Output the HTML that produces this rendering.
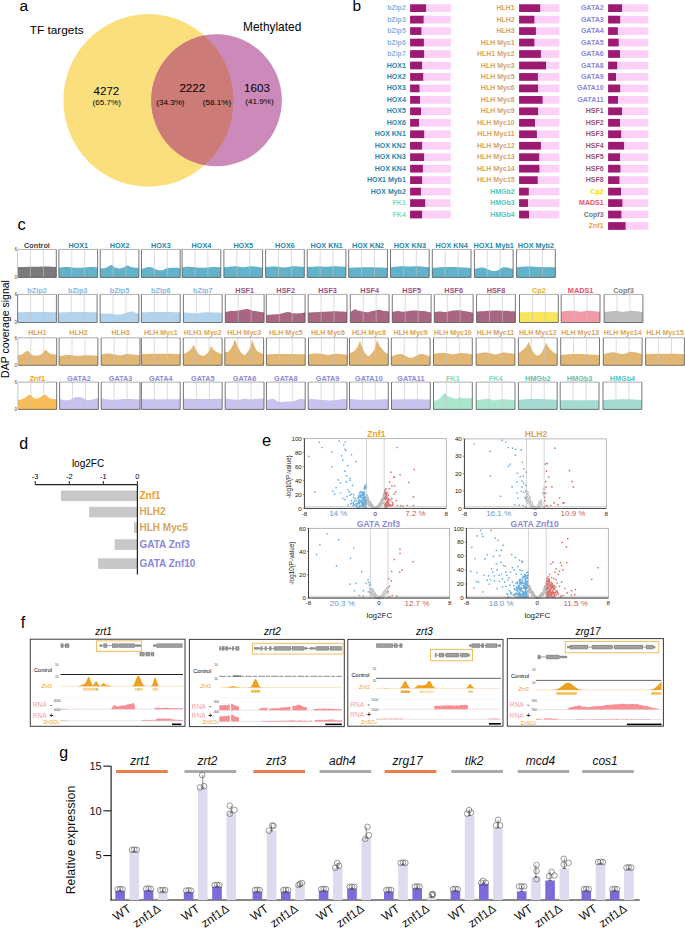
<!DOCTYPE html>
<html><head><meta charset="utf-8"><style>
html,body{margin:0;padding:0;background:#fff;}
body{width:685px;height:928px;overflow:hidden;}
svg{display:block;font-family:"Liberation Sans",sans-serif;}
</style></head><body>
<svg width="685" height="928" viewBox="0 0 685 928">
<rect width="685" height="928" fill="#fff"/>
<text x="19.50" y="10.70" font-size="15.5" fill="#000" text-anchor="start" font-weight="normal" font-style="normal" >a</text>
<text x="352.50" y="10.70" font-size="15.5" fill="#000" text-anchor="start" font-weight="normal" font-style="normal" >b</text>
<defs><clipPath id="cy"><ellipse cx="148.4" cy="100.4" rx="85" ry="86.3"/></clipPath></defs>
<ellipse cx="148.4" cy="100.4" rx="85" ry="86.3" fill="#fcdf7d"/>
<ellipse cx="216.55" cy="100.35" rx="65.3" ry="66" fill="#cb8ab9"/>
<ellipse cx="216.55" cy="100.35" rx="65.3" ry="66" fill="#cd7b76" clip-path="url(#cy)"/>
<text x="29.80" y="33.90" font-size="11.8" fill="#000" text-anchor="start" font-weight="normal" font-style="normal" >TF targets</text>
<text x="243.10" y="31.00" font-size="11.9" fill="#000" text-anchor="start" font-weight="normal" font-style="normal" >Methylated</text>
<text x="106.40" y="95.00" font-size="11.6" fill="#000" text-anchor="middle" font-weight="normal" font-style="normal" >4272</text>
<text x="106.70" y="105.30" font-size="8.1" fill="#000" text-anchor="middle" font-weight="normal" font-style="normal" >(65.7%)</text>
<text x="192.30" y="91.90" font-size="11.6" fill="#000" text-anchor="middle" font-weight="normal" font-style="normal" >2222</text>
<text x="170.40" y="104.90" font-size="8.1" fill="#000" text-anchor="middle" font-weight="normal" font-style="normal" >(34.3%)</text>
<text x="217.00" y="104.90" font-size="8.1" fill="#000" text-anchor="middle" font-weight="normal" font-style="normal" >(58.1%)</text>
<text x="257.00" y="92.00" font-size="11.6" fill="#000" text-anchor="middle" font-weight="normal" font-style="normal" >1603</text>
<text x="259.50" y="104.00" font-size="8.1" fill="#000" text-anchor="middle" font-weight="normal" font-style="normal" >(41.9%)</text>
<rect x="410.1" y="4.30" width="40.70" height="7.7" fill="#fdd1f7"/>
<rect x="410.1" y="4.30" width="16.00" height="7.7" fill="#9c1a72"/>
<text x="405.80" y="10.20" font-size="7" fill="#86b6e3" text-anchor="end" font-weight="bold" font-style="normal" >bZip2</text>
<rect x="410.1" y="15.77" width="40.70" height="7.7" fill="#fdd1f7"/>
<rect x="410.1" y="15.77" width="13.50" height="7.7" fill="#9c1a72"/>
<text x="405.80" y="21.66" font-size="7" fill="#86b6e3" text-anchor="end" font-weight="bold" font-style="normal" >bZip3</text>
<rect x="410.1" y="27.23" width="40.70" height="7.7" fill="#fdd1f7"/>
<rect x="410.1" y="27.23" width="11.30" height="7.7" fill="#9c1a72"/>
<text x="405.80" y="33.13" font-size="7" fill="#86b6e3" text-anchor="end" font-weight="bold" font-style="normal" >bZip5</text>
<rect x="410.1" y="38.69" width="40.70" height="7.7" fill="#fdd1f7"/>
<rect x="410.1" y="38.69" width="13.80" height="7.7" fill="#9c1a72"/>
<text x="405.80" y="44.59" font-size="7" fill="#86b6e3" text-anchor="end" font-weight="bold" font-style="normal" >bZip6</text>
<rect x="410.1" y="50.16" width="40.70" height="7.7" fill="#fdd1f7"/>
<rect x="410.1" y="50.16" width="14.00" height="7.7" fill="#9c1a72"/>
<text x="405.80" y="56.06" font-size="7" fill="#86b6e3" text-anchor="end" font-weight="bold" font-style="normal" >bZip7</text>
<rect x="410.1" y="61.62" width="40.70" height="7.7" fill="#fdd1f7"/>
<rect x="410.1" y="61.62" width="12.00" height="7.7" fill="#9c1a72"/>
<text x="405.80" y="67.53" font-size="7" fill="#1f88ae" text-anchor="end" font-weight="bold" font-style="normal" >HOX1</text>
<rect x="410.1" y="73.09" width="40.70" height="7.7" fill="#fdd1f7"/>
<rect x="410.1" y="73.09" width="13.10" height="7.7" fill="#9c1a72"/>
<text x="405.80" y="78.99" font-size="7" fill="#1f88ae" text-anchor="end" font-weight="bold" font-style="normal" >HOX2</text>
<rect x="410.1" y="84.55" width="40.70" height="7.7" fill="#fdd1f7"/>
<rect x="410.1" y="84.55" width="9.40" height="7.7" fill="#9c1a72"/>
<text x="405.80" y="90.45" font-size="7" fill="#1f88ae" text-anchor="end" font-weight="bold" font-style="normal" >HOX3</text>
<rect x="410.1" y="96.02" width="40.70" height="7.7" fill="#fdd1f7"/>
<rect x="410.1" y="96.02" width="9.90" height="7.7" fill="#9c1a72"/>
<text x="405.80" y="101.92" font-size="7" fill="#1f88ae" text-anchor="end" font-weight="bold" font-style="normal" >HOX4</text>
<rect x="410.1" y="107.48" width="40.70" height="7.7" fill="#fdd1f7"/>
<rect x="410.1" y="107.48" width="10.90" height="7.7" fill="#9c1a72"/>
<text x="405.80" y="113.39" font-size="7" fill="#1f88ae" text-anchor="end" font-weight="bold" font-style="normal" >HOX5</text>
<rect x="410.1" y="118.95" width="40.70" height="7.7" fill="#fdd1f7"/>
<rect x="410.1" y="118.95" width="8.90" height="7.7" fill="#9c1a72"/>
<text x="405.80" y="124.85" font-size="7" fill="#1f88ae" text-anchor="end" font-weight="bold" font-style="normal" >HOX6</text>
<rect x="410.1" y="130.41" width="40.70" height="7.7" fill="#fdd1f7"/>
<rect x="410.1" y="130.41" width="14.10" height="7.7" fill="#9c1a72"/>
<text x="405.80" y="136.31" font-size="7" fill="#1f88ae" text-anchor="end" font-weight="bold" font-style="normal" >HOX KN1</text>
<rect x="410.1" y="141.88" width="40.70" height="7.7" fill="#fdd1f7"/>
<rect x="410.1" y="141.88" width="12.00" height="7.7" fill="#9c1a72"/>
<text x="405.80" y="147.78" font-size="7" fill="#1f88ae" text-anchor="end" font-weight="bold" font-style="normal" >HOX KN2</text>
<rect x="410.1" y="153.34" width="40.70" height="7.7" fill="#fdd1f7"/>
<rect x="410.1" y="153.34" width="14.00" height="7.7" fill="#9c1a72"/>
<text x="405.80" y="159.25" font-size="7" fill="#1f88ae" text-anchor="end" font-weight="bold" font-style="normal" >HOX KN3</text>
<rect x="410.1" y="164.81" width="40.70" height="7.7" fill="#fdd1f7"/>
<rect x="410.1" y="164.81" width="12.80" height="7.7" fill="#9c1a72"/>
<text x="405.80" y="170.71" font-size="7" fill="#1f88ae" text-anchor="end" font-weight="bold" font-style="normal" >HOX KN4</text>
<rect x="410.1" y="176.28" width="40.70" height="7.7" fill="#fdd1f7"/>
<rect x="410.1" y="176.28" width="12.00" height="7.7" fill="#9c1a72"/>
<text x="405.80" y="182.18" font-size="7" fill="#1f88ae" text-anchor="end" font-weight="bold" font-style="normal" >HOX1 Myb1</text>
<rect x="410.1" y="187.74" width="40.70" height="7.7" fill="#fdd1f7"/>
<rect x="410.1" y="187.74" width="10.80" height="7.7" fill="#9c1a72"/>
<text x="405.80" y="193.64" font-size="7" fill="#1f88ae" text-anchor="end" font-weight="bold" font-style="normal" >HOX Myb2</text>
<rect x="410.1" y="199.21" width="40.70" height="7.7" fill="#fdd1f7"/>
<rect x="410.1" y="199.21" width="15.10" height="7.7" fill="#9c1a72"/>
<text x="405.80" y="205.11" font-size="7" fill="#7fdcb8" text-anchor="end" font-weight="bold" font-style="normal" >FK1</text>
<rect x="410.1" y="210.67" width="40.70" height="7.7" fill="#fdd1f7"/>
<rect x="410.1" y="210.67" width="12.00" height="7.7" fill="#9c1a72"/>
<text x="405.80" y="216.57" font-size="7" fill="#7fdcb8" text-anchor="end" font-weight="bold" font-style="normal" >FK4</text>
<rect x="519.1" y="4.30" width="40.30" height="7.7" fill="#fdd1f7"/>
<rect x="519.1" y="4.30" width="21.10" height="7.7" fill="#9c1a72"/>
<text x="514.70" y="10.20" font-size="7" fill="#d8a559" text-anchor="end" font-weight="bold" font-style="normal" >HLH1</text>
<rect x="519.1" y="15.77" width="40.30" height="7.7" fill="#fdd1f7"/>
<rect x="519.1" y="15.77" width="15.30" height="7.7" fill="#9c1a72"/>
<text x="514.70" y="21.66" font-size="7" fill="#d8a559" text-anchor="end" font-weight="bold" font-style="normal" >HLH2</text>
<rect x="519.1" y="27.23" width="40.30" height="7.7" fill="#fdd1f7"/>
<rect x="519.1" y="27.23" width="16.80" height="7.7" fill="#9c1a72"/>
<text x="514.70" y="33.13" font-size="7" fill="#d8a559" text-anchor="end" font-weight="bold" font-style="normal" >HLH3</text>
<rect x="519.1" y="38.69" width="40.30" height="7.7" fill="#fdd1f7"/>
<rect x="519.1" y="38.69" width="15.30" height="7.7" fill="#9c1a72"/>
<text x="514.70" y="44.59" font-size="7" fill="#d8a559" text-anchor="end" font-weight="bold" font-style="normal" >HLH Myc1</text>
<rect x="519.1" y="50.16" width="40.30" height="7.7" fill="#fdd1f7"/>
<rect x="519.1" y="50.16" width="21.80" height="7.7" fill="#9c1a72"/>
<text x="514.70" y="56.06" font-size="7" fill="#d8a559" text-anchor="end" font-weight="bold" font-style="normal" >HLH1 Myc2</text>
<rect x="519.1" y="61.62" width="40.30" height="7.7" fill="#fdd1f7"/>
<rect x="519.1" y="61.62" width="26.90" height="7.7" fill="#9c1a72"/>
<text x="514.70" y="67.53" font-size="7" fill="#d8a559" text-anchor="end" font-weight="bold" font-style="normal" >HLH Myc3</text>
<rect x="519.1" y="73.09" width="40.30" height="7.7" fill="#fdd1f7"/>
<rect x="519.1" y="73.09" width="18.80" height="7.7" fill="#9c1a72"/>
<text x="514.70" y="78.99" font-size="7" fill="#d8a559" text-anchor="end" font-weight="bold" font-style="normal" >HLH Myc5</text>
<rect x="519.1" y="84.55" width="40.30" height="7.7" fill="#fdd1f7"/>
<rect x="519.1" y="84.55" width="19.00" height="7.7" fill="#9c1a72"/>
<text x="514.70" y="90.45" font-size="7" fill="#d8a559" text-anchor="end" font-weight="bold" font-style="normal" >HLH Myc6</text>
<rect x="519.1" y="96.02" width="40.30" height="7.7" fill="#fdd1f7"/>
<rect x="519.1" y="96.02" width="23.50" height="7.7" fill="#9c1a72"/>
<text x="514.70" y="101.92" font-size="7" fill="#d8a559" text-anchor="end" font-weight="bold" font-style="normal" >HLH Myc8</text>
<rect x="519.1" y="107.48" width="40.30" height="7.7" fill="#fdd1f7"/>
<rect x="519.1" y="107.48" width="19.00" height="7.7" fill="#9c1a72"/>
<text x="514.70" y="113.39" font-size="7" fill="#d8a559" text-anchor="end" font-weight="bold" font-style="normal" >HLH Myc9</text>
<rect x="519.1" y="118.95" width="40.30" height="7.7" fill="#fdd1f7"/>
<rect x="519.1" y="118.95" width="15.90" height="7.7" fill="#9c1a72"/>
<text x="514.70" y="124.85" font-size="7" fill="#d8a559" text-anchor="end" font-weight="bold" font-style="normal" >HLH Myc10</text>
<rect x="519.1" y="130.41" width="40.30" height="7.7" fill="#fdd1f7"/>
<rect x="519.1" y="130.41" width="17.80" height="7.7" fill="#9c1a72"/>
<text x="514.70" y="136.31" font-size="7" fill="#d8a559" text-anchor="end" font-weight="bold" font-style="normal" >HLH Myc11</text>
<rect x="519.1" y="141.88" width="40.30" height="7.7" fill="#fdd1f7"/>
<rect x="519.1" y="141.88" width="21.80" height="7.7" fill="#9c1a72"/>
<text x="514.70" y="147.78" font-size="7" fill="#d8a559" text-anchor="end" font-weight="bold" font-style="normal" >HLH Myc12</text>
<rect x="519.1" y="153.34" width="40.30" height="7.7" fill="#fdd1f7"/>
<rect x="519.1" y="153.34" width="20.10" height="7.7" fill="#9c1a72"/>
<text x="514.70" y="159.25" font-size="7" fill="#d8a559" text-anchor="end" font-weight="bold" font-style="normal" >HLH Myc13</text>
<rect x="519.1" y="164.81" width="40.30" height="7.7" fill="#fdd1f7"/>
<rect x="519.1" y="164.81" width="20.30" height="7.7" fill="#9c1a72"/>
<text x="514.70" y="170.71" font-size="7" fill="#d8a559" text-anchor="end" font-weight="bold" font-style="normal" >HLH Myc14</text>
<rect x="519.1" y="176.28" width="40.30" height="7.7" fill="#fdd1f7"/>
<rect x="519.1" y="176.28" width="18.60" height="7.7" fill="#9c1a72"/>
<text x="514.70" y="182.18" font-size="7" fill="#d8a559" text-anchor="end" font-weight="bold" font-style="normal" >HLH Myc15</text>
<rect x="519.1" y="187.74" width="40.30" height="7.7" fill="#fdd1f7"/>
<rect x="519.1" y="187.74" width="9.70" height="7.7" fill="#9c1a72"/>
<text x="514.70" y="193.64" font-size="7" fill="#5cc3b6" text-anchor="end" font-weight="bold" font-style="normal" >HMGb2</text>
<rect x="519.1" y="199.21" width="40.30" height="7.7" fill="#fdd1f7"/>
<rect x="519.1" y="199.21" width="8.90" height="7.7" fill="#9c1a72"/>
<text x="514.70" y="205.11" font-size="7" fill="#5cc3b6" text-anchor="end" font-weight="bold" font-style="normal" >HMGb3</text>
<rect x="519.1" y="210.67" width="40.30" height="7.7" fill="#fdd1f7"/>
<rect x="519.1" y="210.67" width="9.90" height="7.7" fill="#9c1a72"/>
<text x="514.70" y="216.57" font-size="7" fill="#5cc3b6" text-anchor="end" font-weight="bold" font-style="normal" >HMGb4</text>
<rect x="608.1" y="4.30" width="40.30" height="7.7" fill="#fdd1f7"/>
<rect x="608.1" y="4.30" width="13.90" height="7.7" fill="#9c1a72"/>
<text x="603.60" y="10.20" font-size="7" fill="#8c87d9" text-anchor="end" font-weight="bold" font-style="normal" >GATA2</text>
<rect x="608.1" y="15.77" width="40.30" height="7.7" fill="#fdd1f7"/>
<rect x="608.1" y="15.77" width="12.10" height="7.7" fill="#9c1a72"/>
<text x="603.60" y="21.66" font-size="7" fill="#8c87d9" text-anchor="end" font-weight="bold" font-style="normal" >GATA3</text>
<rect x="608.1" y="27.23" width="40.30" height="7.7" fill="#fdd1f7"/>
<rect x="608.1" y="27.23" width="9.70" height="7.7" fill="#9c1a72"/>
<text x="603.60" y="33.13" font-size="7" fill="#8c87d9" text-anchor="end" font-weight="bold" font-style="normal" >GATA4</text>
<rect x="608.1" y="38.69" width="40.30" height="7.7" fill="#fdd1f7"/>
<rect x="608.1" y="38.69" width="10.60" height="7.7" fill="#9c1a72"/>
<text x="603.60" y="44.59" font-size="7" fill="#8c87d9" text-anchor="end" font-weight="bold" font-style="normal" >GATA5</text>
<rect x="608.1" y="50.16" width="40.30" height="7.7" fill="#fdd1f7"/>
<rect x="608.1" y="50.16" width="11.90" height="7.7" fill="#9c1a72"/>
<text x="603.60" y="56.06" font-size="7" fill="#8c87d9" text-anchor="end" font-weight="bold" font-style="normal" >GATA6</text>
<rect x="608.1" y="61.62" width="40.30" height="7.7" fill="#fdd1f7"/>
<rect x="608.1" y="61.62" width="9.10" height="7.7" fill="#9c1a72"/>
<text x="603.60" y="67.53" font-size="7" fill="#8c87d9" text-anchor="end" font-weight="bold" font-style="normal" >GATA8</text>
<rect x="608.1" y="73.09" width="40.30" height="7.7" fill="#fdd1f7"/>
<rect x="608.1" y="73.09" width="7.90" height="7.7" fill="#9c1a72"/>
<text x="603.60" y="78.99" font-size="7" fill="#8c87d9" text-anchor="end" font-weight="bold" font-style="normal" >GATA9</text>
<rect x="608.1" y="84.55" width="40.30" height="7.7" fill="#fdd1f7"/>
<rect x="608.1" y="84.55" width="12.10" height="7.7" fill="#9c1a72"/>
<text x="603.60" y="90.45" font-size="7" fill="#8c87d9" text-anchor="end" font-weight="bold" font-style="normal" >GATA10</text>
<rect x="608.1" y="96.02" width="40.30" height="7.7" fill="#fdd1f7"/>
<rect x="608.1" y="96.02" width="9.90" height="7.7" fill="#9c1a72"/>
<text x="603.60" y="101.92" font-size="7" fill="#8c87d9" text-anchor="end" font-weight="bold" font-style="normal" >GATA11</text>
<rect x="608.1" y="107.48" width="40.30" height="7.7" fill="#fdd1f7"/>
<rect x="608.1" y="107.48" width="13.90" height="7.7" fill="#9c1a72"/>
<text x="603.60" y="113.39" font-size="7" fill="#9b5277" text-anchor="end" font-weight="bold" font-style="normal" >HSF1</text>
<rect x="608.1" y="118.95" width="40.30" height="7.7" fill="#fdd1f7"/>
<rect x="608.1" y="118.95" width="11.90" height="7.7" fill="#9c1a72"/>
<text x="603.60" y="124.85" font-size="7" fill="#9b5277" text-anchor="end" font-weight="bold" font-style="normal" >HSF2</text>
<rect x="608.1" y="130.41" width="40.30" height="7.7" fill="#fdd1f7"/>
<rect x="608.1" y="130.41" width="13.10" height="7.7" fill="#9c1a72"/>
<text x="603.60" y="136.31" font-size="7" fill="#9b5277" text-anchor="end" font-weight="bold" font-style="normal" >HSF3</text>
<rect x="608.1" y="141.88" width="40.30" height="7.7" fill="#fdd1f7"/>
<rect x="608.1" y="141.88" width="16.00" height="7.7" fill="#9c1a72"/>
<text x="603.60" y="147.78" font-size="7" fill="#9b5277" text-anchor="end" font-weight="bold" font-style="normal" >HSF4</text>
<rect x="608.1" y="153.34" width="40.30" height="7.7" fill="#fdd1f7"/>
<rect x="608.1" y="153.34" width="11.90" height="7.7" fill="#9c1a72"/>
<text x="603.60" y="159.25" font-size="7" fill="#9b5277" text-anchor="end" font-weight="bold" font-style="normal" >HSF5</text>
<rect x="608.1" y="164.81" width="40.30" height="7.7" fill="#fdd1f7"/>
<rect x="608.1" y="164.81" width="12.30" height="7.7" fill="#9c1a72"/>
<text x="603.60" y="170.71" font-size="7" fill="#9b5277" text-anchor="end" font-weight="bold" font-style="normal" >HSF6</text>
<rect x="608.1" y="176.28" width="40.30" height="7.7" fill="#fdd1f7"/>
<rect x="608.1" y="176.28" width="11.30" height="7.7" fill="#9c1a72"/>
<text x="603.60" y="182.18" font-size="7" fill="#9b5277" text-anchor="end" font-weight="bold" font-style="normal" >HSF8</text>
<rect x="608.1" y="187.74" width="40.30" height="7.7" fill="#fdd1f7"/>
<rect x="608.1" y="187.74" width="12.90" height="7.7" fill="#9c1a72"/>
<text x="603.60" y="193.64" font-size="7" fill="#f6d90c" text-anchor="end" font-weight="bold" font-style="normal" >Cp2</text>
<rect x="608.1" y="199.21" width="40.30" height="7.7" fill="#fdd1f7"/>
<rect x="608.1" y="199.21" width="14.30" height="7.7" fill="#9c1a72"/>
<text x="603.60" y="205.11" font-size="7" fill="#e8506a" text-anchor="end" font-weight="bold" font-style="normal" >MADS1</text>
<rect x="608.1" y="210.67" width="40.30" height="7.7" fill="#fdd1f7"/>
<rect x="608.1" y="210.67" width="13.30" height="7.7" fill="#9c1a72"/>
<text x="603.60" y="216.57" font-size="7" fill="#777777" text-anchor="end" font-weight="bold" font-style="normal" >Copf3</text>
<rect x="608.1" y="222.14" width="40.30" height="7.7" fill="#fdd1f7"/>
<rect x="608.1" y="222.14" width="17.50" height="7.7" fill="#9c1a72"/>
<text x="603.60" y="228.04" font-size="7" fill="#f4a11c" text-anchor="end" font-weight="bold" font-style="normal" >Znf1</text>
<text x="17.60" y="230.20" font-size="16.5" fill="#000" text-anchor="start" font-weight="normal" font-style="normal" >c</text>
<text x="15.80" y="251.20" font-size="4.5" fill="#444" text-anchor="middle" font-weight="normal" font-style="normal" >6</text>
<text x="15.80" y="279.00" font-size="4.5" fill="#444" text-anchor="middle" font-weight="normal" font-style="normal" >0</text>
<path d="M17.60,267.06 C20.83,267.02 32.11,266.89 36.95,266.80 C41.79,266.71 43.40,266.49 46.62,266.54 C49.85,266.58 54.69,266.97 56.30,267.06 L56.30,277.40 L17.60,277.40 Z" fill="#7a7a7a"/>
<line x1="30.50" y1="249.4" x2="30.50" y2="277.4" stroke="#c4c4c4" stroke-width="0.6"/>
<line x1="43.40" y1="249.4" x2="43.40" y2="277.4" stroke="#c4c4c4" stroke-width="0.6"/>
<path d="M17.60,249.4 L56.30,249.4" stroke="#9a9a9a" stroke-width="0.8" fill="none"/>
<path d="M56.30,249.4 L56.30,277.40 L17.60,277.40" stroke="#555" stroke-width="0.8" fill="none"/>
<path d="M17.60,277.40 L17.60,249.4" stroke="#b8b8b8" stroke-width="0.8" fill="none"/>
<text x="36.95" y="247.80" font-size="7.25" fill="#444" text-anchor="middle" font-weight="bold" font-style="normal" >Control</text>
<path d="M58.90,267.85 C60.19,267.72 63.41,267.06 66.64,267.06 C69.86,267.06 74.38,267.85 78.25,267.85 C82.12,267.85 86.64,267.15 89.86,267.06 C93.08,266.97 96.31,267.28 97.60,267.33 L97.60,277.40 L58.90,277.40 Z" fill="#62b2c9"/>
<line x1="71.80" y1="249.4" x2="71.80" y2="277.4" stroke="#c4c4c4" stroke-width="0.6"/>
<line x1="84.70" y1="249.4" x2="84.70" y2="277.4" stroke="#c4c4c4" stroke-width="0.6"/>
<path d="M58.90,249.4 L97.60,249.4" stroke="#9a9a9a" stroke-width="0.8" fill="none"/>
<path d="M97.60,249.4 L97.60,277.40 L58.90,277.40" stroke="#555" stroke-width="0.8" fill="none"/>
<path d="M58.90,277.40 L58.90,249.4" stroke="#555" stroke-width="0.8" fill="none"/>
<text x="78.25" y="247.80" font-size="7.25" fill="#1f88ae" text-anchor="middle" font-weight="bold" font-style="normal" >HOX1</text>
<path d="M100.20,268.40 C101.10,268.33 103.75,268.55 105.62,268.00 C107.49,267.45 109.91,265.17 111.42,265.10 C112.94,265.03 113.29,267.05 114.71,267.60 C116.13,268.15 118.42,268.45 119.94,268.40 C121.45,268.35 122.58,267.80 123.81,267.30 C125.03,266.80 125.94,265.40 127.29,265.40 C128.64,265.40 130.00,266.87 131.93,267.30 C133.87,267.73 137.74,267.88 138.90,268.00 L138.90,277.40 L100.20,277.40 Z" fill="#62b2c9"/>
<line x1="113.10" y1="249.4" x2="113.10" y2="277.4" stroke="#c4c4c4" stroke-width="0.6"/>
<line x1="126.00" y1="249.4" x2="126.00" y2="277.4" stroke="#c4c4c4" stroke-width="0.6"/>
<path d="M100.20,249.4 L138.90,249.4" stroke="#9a9a9a" stroke-width="0.8" fill="none"/>
<path d="M138.90,249.4 L138.90,277.40 L100.20,277.40" stroke="#555" stroke-width="0.8" fill="none"/>
<path d="M100.20,277.40 L100.20,249.4" stroke="#555" stroke-width="0.8" fill="none"/>
<text x="119.55" y="247.80" font-size="7.25" fill="#1f88ae" text-anchor="middle" font-weight="bold" font-style="normal" >HOX2</text>
<path d="M141.50,269.00 C142.85,268.68 147.50,267.15 149.63,267.10 C151.76,267.05 152.92,268.22 154.27,268.70 C155.63,269.18 156.40,269.75 157.75,270.00 C159.11,270.25 160.59,270.53 162.40,270.20 C164.20,269.87 165.62,268.37 168.59,268.00 C171.56,267.63 178.26,268.00 180.20,268.00 L180.20,277.40 L141.50,277.40 Z" fill="#62b2c9"/>
<line x1="154.40" y1="249.4" x2="154.40" y2="277.4" stroke="#c4c4c4" stroke-width="0.6"/>
<line x1="167.30" y1="249.4" x2="167.30" y2="277.4" stroke="#c4c4c4" stroke-width="0.6"/>
<path d="M141.50,249.4 L180.20,249.4" stroke="#9a9a9a" stroke-width="0.8" fill="none"/>
<path d="M180.20,249.4 L180.20,277.40 L141.50,277.40" stroke="#555" stroke-width="0.8" fill="none"/>
<path d="M141.50,277.40 L141.50,249.4" stroke="#555" stroke-width="0.8" fill="none"/>
<text x="160.85" y="247.80" font-size="7.25" fill="#1f88ae" text-anchor="middle" font-weight="bold" font-style="normal" >HOX3</text>
<path d="M182.10,267.59 C183.39,267.46 186.62,266.76 189.84,266.80 C193.06,266.84 197.58,267.81 201.45,267.85 C205.32,267.89 209.84,267.15 213.06,267.06 C216.28,266.97 219.51,267.28 220.80,267.33 L220.80,277.40 L182.10,277.40 Z" fill="#62b2c9"/>
<line x1="195.00" y1="249.4" x2="195.00" y2="277.4" stroke="#c4c4c4" stroke-width="0.6"/>
<line x1="207.90" y1="249.4" x2="207.90" y2="277.4" stroke="#c4c4c4" stroke-width="0.6"/>
<path d="M182.10,249.4 L220.80,249.4" stroke="#9a9a9a" stroke-width="0.8" fill="none"/>
<path d="M220.80,249.4 L220.80,277.40 L182.10,277.40" stroke="#555" stroke-width="0.8" fill="none"/>
<path d="M182.10,277.40 L182.10,249.4" stroke="#555" stroke-width="0.8" fill="none"/>
<text x="201.45" y="247.80" font-size="7.25" fill="#1f88ae" text-anchor="middle" font-weight="bold" font-style="normal" >HOX4</text>
<path d="M223.90,267.33 C225.84,267.15 232.29,266.27 235.51,266.27 C238.74,266.27 240.67,267.33 243.25,267.33 C245.83,267.33 247.77,266.23 250.99,266.27 C254.22,266.32 260.67,267.37 262.60,267.59 L262.60,277.40 L223.90,277.40 Z" fill="#62b2c9"/>
<line x1="236.80" y1="249.4" x2="236.80" y2="277.4" stroke="#c4c4c4" stroke-width="0.6"/>
<line x1="249.70" y1="249.4" x2="249.70" y2="277.4" stroke="#c4c4c4" stroke-width="0.6"/>
<path d="M223.90,249.4 L262.60,249.4" stroke="#9a9a9a" stroke-width="0.8" fill="none"/>
<path d="M262.60,249.4 L262.60,277.40 L223.90,277.40" stroke="#555" stroke-width="0.8" fill="none"/>
<path d="M223.90,277.40 L223.90,249.4" stroke="#555" stroke-width="0.8" fill="none"/>
<text x="243.25" y="247.80" font-size="7.25" fill="#1f88ae" text-anchor="middle" font-weight="bold" font-style="normal" >HOX5</text>
<path d="M265.60,267.06 C267.21,266.97 272.05,266.45 275.28,266.54 C278.50,266.62 282.05,267.63 284.95,267.59 C287.85,267.54 289.47,266.36 292.69,266.27 C295.91,266.19 302.37,266.93 304.30,267.06 L304.30,277.40 L265.60,277.40 Z" fill="#62b2c9"/>
<line x1="278.50" y1="249.4" x2="278.50" y2="277.4" stroke="#c4c4c4" stroke-width="0.6"/>
<line x1="291.40" y1="249.4" x2="291.40" y2="277.4" stroke="#c4c4c4" stroke-width="0.6"/>
<path d="M265.60,249.4 L304.30,249.4" stroke="#9a9a9a" stroke-width="0.8" fill="none"/>
<path d="M304.30,249.4 L304.30,277.40 L265.60,277.40" stroke="#555" stroke-width="0.8" fill="none"/>
<path d="M265.60,277.40 L265.60,249.4" stroke="#555" stroke-width="0.8" fill="none"/>
<text x="284.95" y="247.80" font-size="7.25" fill="#1f88ae" text-anchor="middle" font-weight="bold" font-style="normal" >HOX6</text>
<path d="M307.20,267.06 C309.13,266.97 315.58,266.58 318.81,266.54 C322.04,266.49 323.97,266.84 326.55,266.80 C329.13,266.76 331.06,266.27 334.29,266.27 C337.51,266.27 343.96,266.71 345.90,266.80 L345.90,277.40 L307.20,277.40 Z" fill="#62b2c9"/>
<line x1="320.10" y1="249.4" x2="320.10" y2="277.4" stroke="#c4c4c4" stroke-width="0.6"/>
<line x1="333.00" y1="249.4" x2="333.00" y2="277.4" stroke="#c4c4c4" stroke-width="0.6"/>
<path d="M307.20,249.4 L345.90,249.4" stroke="#9a9a9a" stroke-width="0.8" fill="none"/>
<path d="M345.90,249.4 L345.90,277.40 L307.20,277.40" stroke="#555" stroke-width="0.8" fill="none"/>
<path d="M307.20,277.40 L307.20,249.4" stroke="#555" stroke-width="0.8" fill="none"/>
<text x="326.55" y="247.80" font-size="7.25" fill="#1f88ae" text-anchor="middle" font-weight="bold" font-style="normal" >HOX KN1</text>
<path d="M348.70,267.85 C351.93,267.76 361.60,267.33 368.05,267.33 C374.50,267.33 384.17,267.76 387.40,267.85 L387.40,277.40 L348.70,277.40 Z" fill="#62b2c9"/>
<line x1="361.60" y1="249.4" x2="361.60" y2="277.4" stroke="#c4c4c4" stroke-width="0.6"/>
<line x1="374.50" y1="249.4" x2="374.50" y2="277.4" stroke="#c4c4c4" stroke-width="0.6"/>
<path d="M348.70,249.4 L387.40,249.4" stroke="#9a9a9a" stroke-width="0.8" fill="none"/>
<path d="M387.40,249.4 L387.40,277.40 L348.70,277.40" stroke="#555" stroke-width="0.8" fill="none"/>
<path d="M348.70,277.40 L348.70,249.4" stroke="#555" stroke-width="0.8" fill="none"/>
<text x="368.05" y="247.80" font-size="7.25" fill="#1f88ae" text-anchor="middle" font-weight="bold" font-style="normal" >HOX KN2</text>
<path d="M390.50,267.33 C392.44,267.15 398.88,266.41 402.11,266.27 C405.34,266.14 407.27,266.54 409.85,266.54 C412.43,266.54 414.37,266.14 417.59,266.27 C420.81,266.41 427.26,267.15 429.20,267.33 L429.20,277.40 L390.50,277.40 Z" fill="#62b2c9"/>
<line x1="403.40" y1="249.4" x2="403.40" y2="277.4" stroke="#c4c4c4" stroke-width="0.6"/>
<line x1="416.30" y1="249.4" x2="416.30" y2="277.4" stroke="#c4c4c4" stroke-width="0.6"/>
<path d="M390.50,249.4 L429.20,249.4" stroke="#9a9a9a" stroke-width="0.8" fill="none"/>
<path d="M429.20,249.4 L429.20,277.40 L390.50,277.40" stroke="#555" stroke-width="0.8" fill="none"/>
<path d="M390.50,277.40 L390.50,249.4" stroke="#555" stroke-width="0.8" fill="none"/>
<text x="409.85" y="247.80" font-size="7.25" fill="#1f88ae" text-anchor="middle" font-weight="bold" font-style="normal" >HOX KN3</text>
<path d="M432.30,268.00 C434.56,267.85 441.46,267.22 445.85,267.10 C450.23,266.98 454.42,267.15 458.62,267.30 C462.81,267.45 468.94,267.88 471.00,268.00 L471.00,277.40 L432.30,277.40 Z" fill="#62b2c9"/>
<line x1="445.20" y1="249.4" x2="445.20" y2="277.4" stroke="#c4c4c4" stroke-width="0.6"/>
<line x1="458.10" y1="249.4" x2="458.10" y2="277.4" stroke="#c4c4c4" stroke-width="0.6"/>
<path d="M432.30,249.4 L471.00,249.4" stroke="#9a9a9a" stroke-width="0.8" fill="none"/>
<path d="M471.00,249.4 L471.00,277.40 L432.30,277.40" stroke="#555" stroke-width="0.8" fill="none"/>
<path d="M432.30,277.40 L432.30,249.4" stroke="#555" stroke-width="0.8" fill="none"/>
<text x="451.65" y="247.80" font-size="7.25" fill="#1f88ae" text-anchor="middle" font-weight="bold" font-style="normal" >HOX KN4</text>
<path d="M474.40,269.30 C475.69,269.02 480.08,267.67 482.14,267.60 C484.20,267.53 484.91,268.33 486.78,268.90 C488.65,269.47 491.43,270.82 493.36,271.00 C495.30,271.18 496.72,270.62 498.39,270.00 C500.07,269.38 500.97,267.48 503.42,267.30 C505.88,267.12 511.49,268.63 513.10,268.90 L513.10,277.40 L474.40,277.40 Z" fill="#62b2c9"/>
<line x1="487.30" y1="249.4" x2="487.30" y2="277.4" stroke="#c4c4c4" stroke-width="0.6"/>
<line x1="500.20" y1="249.4" x2="500.20" y2="277.4" stroke="#c4c4c4" stroke-width="0.6"/>
<path d="M474.40,249.4 L513.10,249.4" stroke="#9a9a9a" stroke-width="0.8" fill="none"/>
<path d="M513.10,249.4 L513.10,277.40 L474.40,277.40" stroke="#555" stroke-width="0.8" fill="none"/>
<path d="M474.40,277.40 L474.40,249.4" stroke="#555" stroke-width="0.8" fill="none"/>
<text x="493.75" y="247.80" font-size="7.25" fill="#1f88ae" text-anchor="middle" font-weight="bold" font-style="normal" >HOX1 Myb1</text>
<path d="M516.60,267.33 C518.54,267.19 524.34,266.58 528.21,266.54 C532.08,266.49 535.31,266.93 539.82,267.06 C544.34,267.19 552.72,267.28 555.30,267.33 L555.30,277.40 L516.60,277.40 Z" fill="#62b2c9"/>
<line x1="529.50" y1="249.4" x2="529.50" y2="277.4" stroke="#c4c4c4" stroke-width="0.6"/>
<line x1="542.40" y1="249.4" x2="542.40" y2="277.4" stroke="#c4c4c4" stroke-width="0.6"/>
<path d="M516.60,249.4 L555.30,249.4" stroke="#9a9a9a" stroke-width="0.8" fill="none"/>
<path d="M555.30,249.4 L555.30,277.40 L516.60,277.40" stroke="#555" stroke-width="0.8" fill="none"/>
<path d="M516.60,277.40 L516.60,249.4" stroke="#555" stroke-width="0.8" fill="none"/>
<text x="535.95" y="247.80" font-size="7.25" fill="#1f88ae" text-anchor="middle" font-weight="bold" font-style="normal" >HOX Myb2</text>
<text x="15.80" y="296.20" font-size="4.5" fill="#444" text-anchor="middle" font-weight="normal" font-style="normal" >6</text>
<text x="15.80" y="324.10" font-size="4.5" fill="#444" text-anchor="middle" font-weight="normal" font-style="normal" >0</text>
<path d="M17.60,312.16 C20.83,312.12 30.53,311.90 37.00,311.90 C43.47,311.90 53.17,312.12 56.40,312.16 L56.40,322.50 L17.60,322.50 Z" fill="#b1d3ee"/>
<line x1="30.53" y1="294.4" x2="30.53" y2="322.5" stroke="#c4c4c4" stroke-width="0.6"/>
<line x1="43.47" y1="294.4" x2="43.47" y2="322.5" stroke="#c4c4c4" stroke-width="0.6"/>
<path d="M17.60,294.4 L56.40,294.4" stroke="#9a9a9a" stroke-width="0.8" fill="none"/>
<path d="M56.40,294.4 L56.40,322.50 L17.60,322.50" stroke="#555" stroke-width="0.8" fill="none"/>
<path d="M17.60,322.50 L17.60,294.4" stroke="#555" stroke-width="0.8" fill="none"/>
<text x="37.00" y="292.90" font-size="7.3" fill="#86b6e3" text-anchor="middle" font-weight="bold" font-style="normal" >bZip2</text>
<path d="M58.30,312.43 C60.89,312.34 67.35,311.95 73.82,311.90 C80.29,311.86 93.22,312.12 97.10,312.16 L97.10,322.50 L58.30,322.50 Z" fill="#b1d3ee"/>
<line x1="71.23" y1="294.4" x2="71.23" y2="322.5" stroke="#c4c4c4" stroke-width="0.6"/>
<line x1="84.17" y1="294.4" x2="84.17" y2="322.5" stroke="#c4c4c4" stroke-width="0.6"/>
<path d="M58.30,294.4 L97.10,294.4" stroke="#9a9a9a" stroke-width="0.8" fill="none"/>
<path d="M97.10,294.4 L97.10,322.50 L58.30,322.50" stroke="#555" stroke-width="0.8" fill="none"/>
<path d="M58.30,322.50 L58.30,294.4" stroke="#555" stroke-width="0.8" fill="none"/>
<text x="77.70" y="292.90" font-size="7.3" fill="#86b6e3" text-anchor="middle" font-weight="bold" font-style="normal" >bZip3</text>
<path d="M100.10,313.40 C101.85,313.45 107.28,313.53 110.58,313.70 C113.87,313.87 116.53,314.78 119.89,314.40 C123.25,314.02 128.29,311.70 130.75,311.40 C133.21,311.10 133.27,312.22 134.63,312.60 C135.99,312.98 138.19,313.52 138.90,313.70 L138.90,322.50 L100.10,322.50 Z" fill="#b1d3ee"/>
<line x1="113.03" y1="294.4" x2="113.03" y2="322.5" stroke="#c4c4c4" stroke-width="0.6"/>
<line x1="125.97" y1="294.4" x2="125.97" y2="322.5" stroke="#c4c4c4" stroke-width="0.6"/>
<path d="M100.10,294.4 L138.90,294.4" stroke="#9a9a9a" stroke-width="0.8" fill="none"/>
<path d="M138.90,294.4 L138.90,322.50 L100.10,322.50" stroke="#555" stroke-width="0.8" fill="none"/>
<path d="M100.10,322.50 L100.10,294.4" stroke="#555" stroke-width="0.8" fill="none"/>
<text x="119.50" y="292.90" font-size="7.3" fill="#86b6e3" text-anchor="middle" font-weight="bold" font-style="normal" >bZip5</text>
<path d="M141.40,312.16 C144.63,312.12 154.33,311.90 160.80,311.90 C167.27,311.90 176.97,312.12 180.20,312.16 L180.20,322.50 L141.40,322.50 Z" fill="#b1d3ee"/>
<line x1="154.33" y1="294.4" x2="154.33" y2="322.5" stroke="#c4c4c4" stroke-width="0.6"/>
<line x1="167.27" y1="294.4" x2="167.27" y2="322.5" stroke="#c4c4c4" stroke-width="0.6"/>
<path d="M141.40,294.4 L180.20,294.4" stroke="#9a9a9a" stroke-width="0.8" fill="none"/>
<path d="M180.20,294.4 L180.20,322.50 L141.40,322.50" stroke="#555" stroke-width="0.8" fill="none"/>
<path d="M141.40,322.50 L141.40,294.4" stroke="#555" stroke-width="0.8" fill="none"/>
<text x="160.80" y="292.90" font-size="7.3" fill="#86b6e3" text-anchor="middle" font-weight="bold" font-style="normal" >bZip6</text>
<path d="M183.40,312.16 C185.34,312.34 191.16,313.22 195.04,313.22 C198.92,313.22 202.15,312.25 206.68,312.16 C211.21,312.08 219.61,312.60 222.20,312.69 L222.20,322.50 L183.40,322.50 Z" fill="#b1d3ee"/>
<line x1="196.33" y1="294.4" x2="196.33" y2="322.5" stroke="#c4c4c4" stroke-width="0.6"/>
<line x1="209.27" y1="294.4" x2="209.27" y2="322.5" stroke="#c4c4c4" stroke-width="0.6"/>
<path d="M183.40,294.4 L222.20,294.4" stroke="#9a9a9a" stroke-width="0.8" fill="none"/>
<path d="M222.20,294.4 L222.20,322.50 L183.40,322.50" stroke="#555" stroke-width="0.8" fill="none"/>
<path d="M183.40,322.50 L183.40,294.4" stroke="#555" stroke-width="0.8" fill="none"/>
<text x="202.80" y="292.90" font-size="7.3" fill="#86b6e3" text-anchor="middle" font-weight="bold" font-style="normal" >bZip7</text>
<path d="M225.30,312.10 C226.21,311.92 228.73,311.22 230.73,311.00 C232.74,310.78 234.61,311.12 237.33,310.80 C240.04,310.48 244.64,309.17 247.03,309.10 C249.42,309.03 248.84,309.82 251.68,310.40 C254.53,310.98 262.03,312.23 264.10,312.60 L264.10,322.50 L225.30,322.50 Z" fill="#a86683"/>
<line x1="238.23" y1="294.4" x2="238.23" y2="322.5" stroke="#c4c4c4" stroke-width="0.6"/>
<line x1="251.17" y1="294.4" x2="251.17" y2="322.5" stroke="#c4c4c4" stroke-width="0.6"/>
<path d="M225.30,294.4 L264.10,294.4" stroke="#9a9a9a" stroke-width="0.8" fill="none"/>
<path d="M264.10,294.4 L264.10,322.50 L225.30,322.50" stroke="#555" stroke-width="0.8" fill="none"/>
<path d="M225.30,322.50 L225.30,294.4" stroke="#555" stroke-width="0.8" fill="none"/>
<text x="244.70" y="292.90" font-size="7.3" fill="#9b5277" text-anchor="middle" font-weight="bold" font-style="normal" >HSF1</text>
<path d="M266.30,315.00 C268.43,314.83 275.48,314.48 279.10,314.00 C282.73,313.52 285.70,312.22 288.03,312.10 C290.36,311.98 290.94,313.10 293.07,313.30 C295.21,313.50 298.83,313.47 300.83,313.30 C302.84,313.13 304.39,312.47 305.10,312.30 L305.10,322.50 L266.30,322.50 Z" fill="#a86683"/>
<line x1="279.23" y1="294.4" x2="279.23" y2="322.5" stroke="#c4c4c4" stroke-width="0.6"/>
<line x1="292.17" y1="294.4" x2="292.17" y2="322.5" stroke="#c4c4c4" stroke-width="0.6"/>
<path d="M266.30,294.4 L305.10,294.4" stroke="#9a9a9a" stroke-width="0.8" fill="none"/>
<path d="M305.10,294.4 L305.10,322.50 L266.30,322.50" stroke="#555" stroke-width="0.8" fill="none"/>
<path d="M266.30,322.50 L266.30,294.4" stroke="#555" stroke-width="0.8" fill="none"/>
<text x="285.70" y="292.90" font-size="7.3" fill="#9b5277" text-anchor="middle" font-weight="bold" font-style="normal" >HSF2</text>
<path d="M308.20,312.43 C312.08,312.25 325.01,311.46 331.48,311.38 C337.95,311.29 344.41,311.81 347.00,311.90 L347.00,322.50 L308.20,322.50 Z" fill="#a86683"/>
<line x1="321.13" y1="294.4" x2="321.13" y2="322.5" stroke="#c4c4c4" stroke-width="0.6"/>
<line x1="334.07" y1="294.4" x2="334.07" y2="322.5" stroke="#c4c4c4" stroke-width="0.6"/>
<path d="M308.20,294.4 L347.00,294.4" stroke="#9a9a9a" stroke-width="0.8" fill="none"/>
<path d="M347.00,294.4 L347.00,322.50 L308.20,322.50" stroke="#555" stroke-width="0.8" fill="none"/>
<path d="M308.20,322.50 L308.20,294.4" stroke="#555" stroke-width="0.8" fill="none"/>
<text x="327.60" y="292.90" font-size="7.3" fill="#9b5277" text-anchor="middle" font-weight="bold" font-style="normal" >HSF3</text>
<path d="M350.30,312.30 C351.08,311.80 353.66,309.58 354.96,309.30 C356.25,309.02 355.99,310.10 358.06,310.60 C360.13,311.10 365.17,312.18 367.37,312.30 C369.57,312.42 369.31,311.73 371.25,311.30 C373.19,310.87 377.07,309.78 379.01,309.70 C380.95,309.62 381.21,310.52 382.89,310.80 C384.57,311.08 388.07,311.30 389.10,311.40 L389.10,322.50 L350.30,322.50 Z" fill="#a86683"/>
<line x1="363.23" y1="294.4" x2="363.23" y2="322.5" stroke="#c4c4c4" stroke-width="0.6"/>
<line x1="376.17" y1="294.4" x2="376.17" y2="322.5" stroke="#c4c4c4" stroke-width="0.6"/>
<path d="M350.30,294.4 L389.10,294.4" stroke="#9a9a9a" stroke-width="0.8" fill="none"/>
<path d="M389.10,294.4 L389.10,322.50 L350.30,322.50" stroke="#555" stroke-width="0.8" fill="none"/>
<path d="M350.30,322.50 L350.30,294.4" stroke="#555" stroke-width="0.8" fill="none"/>
<text x="369.70" y="292.90" font-size="7.3" fill="#9b5277" text-anchor="middle" font-weight="bold" font-style="normal" >HSF4</text>
<path d="M392.30,312.10 C393.14,311.92 395.60,311.07 397.34,311.00 C399.09,310.93 400.19,311.80 402.78,311.70 C405.36,311.60 409.44,310.52 412.86,310.40 C416.29,310.28 420.30,310.63 423.34,311.00 C426.38,311.37 429.81,312.33 431.10,312.60 L431.10,322.50 L392.30,322.50 Z" fill="#a86683"/>
<line x1="405.23" y1="294.4" x2="405.23" y2="322.5" stroke="#c4c4c4" stroke-width="0.6"/>
<line x1="418.17" y1="294.4" x2="418.17" y2="322.5" stroke="#c4c4c4" stroke-width="0.6"/>
<path d="M392.30,294.4 L431.10,294.4" stroke="#9a9a9a" stroke-width="0.8" fill="none"/>
<path d="M431.10,294.4 L431.10,322.50 L392.30,322.50" stroke="#555" stroke-width="0.8" fill="none"/>
<path d="M392.30,322.50 L392.30,294.4" stroke="#555" stroke-width="0.8" fill="none"/>
<text x="411.70" y="292.90" font-size="7.3" fill="#9b5277" text-anchor="middle" font-weight="bold" font-style="normal" >HSF5</text>
<path d="M434.30,312.16 C435.27,312.03 438.18,311.42 440.12,311.38 C442.06,311.33 443.03,312.08 445.94,311.90 C448.85,311.73 453.05,310.19 457.58,310.33 C462.11,310.46 470.51,312.30 473.10,312.69 L473.10,322.50 L434.30,322.50 Z" fill="#a86683"/>
<line x1="447.23" y1="294.4" x2="447.23" y2="322.5" stroke="#c4c4c4" stroke-width="0.6"/>
<line x1="460.17" y1="294.4" x2="460.17" y2="322.5" stroke="#c4c4c4" stroke-width="0.6"/>
<path d="M434.30,294.4 L473.10,294.4" stroke="#9a9a9a" stroke-width="0.8" fill="none"/>
<path d="M473.10,294.4 L473.10,322.50 L434.30,322.50" stroke="#555" stroke-width="0.8" fill="none"/>
<path d="M434.30,322.50 L434.30,294.4" stroke="#555" stroke-width="0.8" fill="none"/>
<text x="453.70" y="292.90" font-size="7.3" fill="#9b5277" text-anchor="middle" font-weight="bold" font-style="normal" >HSF6</text>
<path d="M476.60,311.64 C479.83,311.46 489.53,310.63 496.00,310.59 C502.47,310.54 512.17,311.24 515.40,311.38 L515.40,322.50 L476.60,322.50 Z" fill="#a86683"/>
<line x1="489.53" y1="294.4" x2="489.53" y2="322.5" stroke="#c4c4c4" stroke-width="0.6"/>
<line x1="502.47" y1="294.4" x2="502.47" y2="322.5" stroke="#c4c4c4" stroke-width="0.6"/>
<path d="M476.60,294.4 L515.40,294.4" stroke="#9a9a9a" stroke-width="0.8" fill="none"/>
<path d="M515.40,294.4 L515.40,322.50 L476.60,322.50" stroke="#555" stroke-width="0.8" fill="none"/>
<path d="M476.60,322.50 L476.60,294.4" stroke="#555" stroke-width="0.8" fill="none"/>
<text x="496.00" y="292.90" font-size="7.3" fill="#9b5277" text-anchor="middle" font-weight="bold" font-style="normal" >HSF8</text>
<path d="M519.50,312.16 C522.73,312.12 532.43,311.90 538.90,311.90 C545.37,311.90 555.07,312.12 558.30,312.16 L558.30,322.50 L519.50,322.50 Z" fill="#f9e55c"/>
<line x1="532.43" y1="294.4" x2="532.43" y2="322.5" stroke="#c4c4c4" stroke-width="0.6"/>
<line x1="545.37" y1="294.4" x2="545.37" y2="322.5" stroke="#c4c4c4" stroke-width="0.6"/>
<path d="M519.50,294.4 L558.30,294.4" stroke="#9a9a9a" stroke-width="0.8" fill="none"/>
<path d="M558.30,294.4 L558.30,322.50 L519.50,322.50" stroke="#555" stroke-width="0.8" fill="none"/>
<path d="M519.50,322.50 L519.50,294.4" stroke="#555" stroke-width="0.8" fill="none"/>
<text x="538.90" y="292.90" font-size="7.3" fill="#e8b02a" text-anchor="middle" font-weight="bold" font-style="normal" >Cp2</text>
<path d="M561.20,311.64 C563.14,311.51 569.61,310.85 572.84,310.85 C576.07,310.85 578.01,311.64 580.60,311.64 C583.19,311.64 585.13,310.81 588.36,310.85 C591.59,310.89 598.06,311.73 600.00,311.90 L600.00,322.50 L561.20,322.50 Z" fill="#f39aa6"/>
<line x1="574.13" y1="294.4" x2="574.13" y2="322.5" stroke="#c4c4c4" stroke-width="0.6"/>
<line x1="587.07" y1="294.4" x2="587.07" y2="322.5" stroke="#c4c4c4" stroke-width="0.6"/>
<path d="M561.20,294.4 L600.00,294.4" stroke="#9a9a9a" stroke-width="0.8" fill="none"/>
<path d="M600.00,294.4 L600.00,322.50 L561.20,322.50" stroke="#555" stroke-width="0.8" fill="none"/>
<path d="M561.20,322.50 L561.20,294.4" stroke="#555" stroke-width="0.8" fill="none"/>
<text x="580.60" y="292.90" font-size="7.3" fill="#e8506a" text-anchor="middle" font-weight="bold" font-style="normal" >MADS1</text>
<path d="M604.10,312.16 C606.04,311.99 612.51,311.16 615.74,311.11 C618.97,311.07 620.91,311.95 623.50,311.90 C626.09,311.86 628.03,310.81 631.26,310.85 C634.49,310.89 640.96,311.95 642.90,312.16 L642.90,322.50 L604.10,322.50 Z" fill="#bdbdbd"/>
<line x1="617.03" y1="294.4" x2="617.03" y2="322.5" stroke="#c4c4c4" stroke-width="0.6"/>
<line x1="629.97" y1="294.4" x2="629.97" y2="322.5" stroke="#c4c4c4" stroke-width="0.6"/>
<path d="M604.10,294.4 L642.90,294.4" stroke="#9a9a9a" stroke-width="0.8" fill="none"/>
<path d="M642.90,294.4 L642.90,322.50 L604.10,322.50" stroke="#555" stroke-width="0.8" fill="none"/>
<path d="M604.10,322.50 L604.10,294.4" stroke="#555" stroke-width="0.8" fill="none"/>
<text x="623.50" y="292.90" font-size="7.3" fill="#808080" text-anchor="middle" font-weight="bold" font-style="normal" >Copf3</text>
<text x="15.80" y="339.60" font-size="4.5" fill="#444" text-anchor="middle" font-weight="normal" font-style="normal" >6</text>
<text x="15.80" y="366.90" font-size="4.5" fill="#444" text-anchor="middle" font-weight="normal" font-style="normal" >0</text>
<path d="M17.90,355.20 C18.61,355.05 20.55,355.03 22.17,354.30 C23.78,353.57 26.02,350.73 27.60,350.80 C29.18,350.87 30.06,353.90 31.67,354.70 C33.29,355.50 35.59,355.77 37.30,355.60 C39.01,355.43 40.53,354.63 41.96,353.70 C43.38,352.77 44.54,350.05 45.84,350.00 C47.13,349.95 47.91,352.62 49.72,353.40 C51.53,354.18 55.54,354.48 56.70,354.70 L56.70,365.30 L17.90,365.30 Z" fill="#e2b673"/>
<line x1="30.83" y1="337.8" x2="30.83" y2="365.3" stroke="#c4c4c4" stroke-width="0.6"/>
<line x1="43.77" y1="337.8" x2="43.77" y2="365.3" stroke="#c4c4c4" stroke-width="0.6"/>
<path d="M17.90,337.8 L56.70,337.8" stroke="#9a9a9a" stroke-width="0.8" fill="none"/>
<path d="M56.70,337.8 L56.70,365.30 L17.90,365.30" stroke="#555" stroke-width="0.8" fill="none"/>
<path d="M17.90,365.30 L17.90,337.8" stroke="#b8b8b8" stroke-width="0.8" fill="none"/>
<text x="37.30" y="335.20" font-size="7.0" fill="#d8a559" text-anchor="middle" font-weight="bold" font-style="normal" >HLH1</text>
<path d="M59.10,355.95 C60.72,355.78 65.57,354.95 68.80,354.90 C72.03,354.86 75.59,355.65 78.50,355.69 C81.41,355.73 83.03,355.16 86.26,355.16 C89.49,355.16 95.96,355.60 97.90,355.69 L97.90,365.30 L59.10,365.30 Z" fill="#e2b673"/>
<line x1="72.03" y1="337.8" x2="72.03" y2="365.3" stroke="#c4c4c4" stroke-width="0.6"/>
<line x1="84.97" y1="337.8" x2="84.97" y2="365.3" stroke="#c4c4c4" stroke-width="0.6"/>
<path d="M59.10,337.8 L97.90,337.8" stroke="#9a9a9a" stroke-width="0.8" fill="none"/>
<path d="M97.90,337.8 L97.90,365.30 L59.10,365.30" stroke="#555" stroke-width="0.8" fill="none"/>
<path d="M59.10,365.30 L59.10,337.8" stroke="#555" stroke-width="0.8" fill="none"/>
<text x="78.50" y="335.20" font-size="7.0" fill="#d8a559" text-anchor="middle" font-weight="bold" font-style="normal" >HLH2</text>
<path d="M101.20,354.90 C102.17,354.68 103.79,353.50 107.02,353.59 C110.25,353.68 117.37,355.34 120.60,355.43 C123.83,355.51 123.19,354.11 126.42,354.11 C129.65,354.11 137.74,355.21 140.00,355.43 L140.00,365.30 L101.20,365.30 Z" fill="#e2b673"/>
<line x1="114.13" y1="337.8" x2="114.13" y2="365.3" stroke="#c4c4c4" stroke-width="0.6"/>
<line x1="127.07" y1="337.8" x2="127.07" y2="365.3" stroke="#c4c4c4" stroke-width="0.6"/>
<path d="M101.20,337.8 L140.00,337.8" stroke="#9a9a9a" stroke-width="0.8" fill="none"/>
<path d="M140.00,337.8 L140.00,365.30 L101.20,365.30" stroke="#555" stroke-width="0.8" fill="none"/>
<path d="M101.20,365.30 L101.20,337.8" stroke="#555" stroke-width="0.8" fill="none"/>
<text x="120.60" y="335.20" font-size="7.0" fill="#d8a559" text-anchor="middle" font-weight="bold" font-style="normal" >HLH3</text>
<path d="M141.40,354.11 C144.63,354.07 154.33,353.85 160.80,353.85 C167.27,353.85 176.97,354.07 180.20,354.11 L180.20,365.30 L141.40,365.30 Z" fill="#e2b673"/>
<line x1="154.33" y1="337.8" x2="154.33" y2="365.3" stroke="#c4c4c4" stroke-width="0.6"/>
<line x1="167.27" y1="337.8" x2="167.27" y2="365.3" stroke="#c4c4c4" stroke-width="0.6"/>
<path d="M141.40,337.8 L180.20,337.8" stroke="#9a9a9a" stroke-width="0.8" fill="none"/>
<path d="M180.20,337.8 L180.20,365.30 L141.40,365.30" stroke="#555" stroke-width="0.8" fill="none"/>
<path d="M141.40,365.30 L141.40,337.8" stroke="#555" stroke-width="0.8" fill="none"/>
<text x="160.80" y="335.20" font-size="7.0" fill="#d8a559" text-anchor="middle" font-weight="bold" font-style="normal" >HLH Myc1</text>
<path d="M183.30,354.00 C184.08,353.62 186.60,352.60 187.96,351.70 C189.31,350.80 190.48,349.70 191.45,348.60 C192.42,347.50 193.19,345.17 193.78,345.10 C194.36,345.03 194.49,347.22 194.94,348.20 C195.39,349.18 195.72,349.93 196.49,351.00 C197.27,352.07 198.50,353.77 199.60,354.60 C200.70,355.43 202.05,356.00 203.09,356.00 C204.12,356.00 204.90,355.32 205.80,354.60 C206.71,353.88 207.81,352.67 208.52,351.70 C209.23,350.73 209.62,349.75 210.07,348.80 C210.52,347.85 210.85,346.08 211.24,346.00 C211.62,345.92 211.88,347.57 212.40,348.30 C212.92,349.03 213.37,349.68 214.34,350.40 C215.31,351.12 216.93,351.95 218.22,352.60 C219.51,353.25 221.45,354.02 222.10,354.30 L222.10,365.30 L183.30,365.30 Z" fill="#e2b673"/>
<line x1="196.23" y1="337.8" x2="196.23" y2="365.3" stroke="#c4c4c4" stroke-width="0.6"/>
<line x1="209.17" y1="337.8" x2="209.17" y2="365.3" stroke="#c4c4c4" stroke-width="0.6"/>
<path d="M183.30,337.8 L222.10,337.8" stroke="#9a9a9a" stroke-width="0.8" fill="none"/>
<path d="M222.10,337.8 L222.10,365.30 L183.30,365.30" stroke="#555" stroke-width="0.8" fill="none"/>
<path d="M183.30,365.30 L183.30,337.8" stroke="#555" stroke-width="0.8" fill="none"/>
<text x="202.70" y="335.20" font-size="7.0" fill="#d8a559" text-anchor="middle" font-weight="bold" font-style="normal" >HLH1 Myc2</text>
<path d="M224.80,352.10 C225.35,352.03 226.87,352.63 228.10,351.70 C229.33,350.77 231.04,348.47 232.17,346.50 C233.30,344.53 234.18,340.40 234.89,339.90 C235.60,339.40 235.92,342.30 236.44,343.50 C236.96,344.70 237.22,345.60 237.99,347.10 C238.77,348.60 240.00,351.18 241.10,352.50 C242.20,353.82 243.55,355.00 244.59,355.00 C245.62,355.00 246.46,353.60 247.30,352.50 C248.14,351.40 248.99,349.82 249.63,348.40 C250.28,346.98 250.73,345.37 251.18,344.00 C251.64,342.63 251.90,340.12 252.35,340.20 C252.80,340.28 253.25,342.92 253.90,344.50 C254.55,346.08 255.26,348.35 256.23,349.70 C257.20,351.05 258.49,351.83 259.72,352.60 C260.95,353.37 262.95,354.02 263.60,354.30 L263.60,365.30 L224.80,365.30 Z" fill="#e2b673"/>
<line x1="237.73" y1="337.8" x2="237.73" y2="365.3" stroke="#c4c4c4" stroke-width="0.6"/>
<line x1="250.67" y1="337.8" x2="250.67" y2="365.3" stroke="#c4c4c4" stroke-width="0.6"/>
<path d="M224.80,337.8 L263.60,337.8" stroke="#9a9a9a" stroke-width="0.8" fill="none"/>
<path d="M263.60,337.8 L263.60,365.30 L224.80,365.30" stroke="#555" stroke-width="0.8" fill="none"/>
<path d="M224.80,365.30 L224.80,337.8" stroke="#555" stroke-width="0.8" fill="none"/>
<text x="244.20" y="335.20" font-size="7.0" fill="#d8a559" text-anchor="middle" font-weight="bold" font-style="normal" >HLH Myc3</text>
<path d="M266.40,354.38 C269.63,354.33 279.33,354.11 285.80,354.11 C292.27,354.11 301.97,354.33 305.20,354.38 L305.20,365.30 L266.40,365.30 Z" fill="#e2b673"/>
<line x1="279.33" y1="337.8" x2="279.33" y2="365.3" stroke="#c4c4c4" stroke-width="0.6"/>
<line x1="292.27" y1="337.8" x2="292.27" y2="365.3" stroke="#c4c4c4" stroke-width="0.6"/>
<path d="M266.40,337.8 L305.20,337.8" stroke="#9a9a9a" stroke-width="0.8" fill="none"/>
<path d="M305.20,337.8 L305.20,365.30 L266.40,365.30" stroke="#555" stroke-width="0.8" fill="none"/>
<path d="M266.40,365.30 L266.40,337.8" stroke="#555" stroke-width="0.8" fill="none"/>
<text x="285.80" y="335.20" font-size="7.0" fill="#d8a559" text-anchor="middle" font-weight="bold" font-style="normal" >HLH Myc5</text>
<path d="M308.50,354.38 C310.12,354.24 314.97,353.50 318.20,353.59 C321.43,353.68 324.99,354.86 327.90,354.90 C330.81,354.95 332.43,353.85 335.66,353.85 C338.89,353.85 345.36,354.73 347.30,354.90 L347.30,365.30 L308.50,365.30 Z" fill="#e2b673"/>
<line x1="321.43" y1="337.8" x2="321.43" y2="365.3" stroke="#c4c4c4" stroke-width="0.6"/>
<line x1="334.37" y1="337.8" x2="334.37" y2="365.3" stroke="#c4c4c4" stroke-width="0.6"/>
<path d="M308.50,337.8 L347.30,337.8" stroke="#9a9a9a" stroke-width="0.8" fill="none"/>
<path d="M347.30,337.8 L347.30,365.30 L308.50,365.30" stroke="#555" stroke-width="0.8" fill="none"/>
<path d="M308.50,365.30 L308.50,337.8" stroke="#555" stroke-width="0.8" fill="none"/>
<text x="327.90" y="335.20" font-size="7.0" fill="#d8a559" text-anchor="middle" font-weight="bold" font-style="normal" >HLH Myc6</text>
<path d="M349.50,353.40 C350.28,353.00 352.80,352.15 354.16,351.00 C355.51,349.85 356.68,348.13 357.65,346.50 C358.62,344.87 359.39,341.53 359.98,341.20 C360.56,340.87 360.69,343.30 361.14,344.50 C361.59,345.70 361.92,346.85 362.69,348.40 C363.47,349.95 364.83,352.53 365.80,353.80 C366.77,355.07 367.54,356.05 368.51,356.00 C369.48,355.95 370.65,354.55 371.62,353.50 C372.59,352.45 373.62,351.20 374.33,349.70 C375.04,348.20 375.43,346.13 375.88,344.50 C376.34,342.87 376.60,340.07 377.05,339.90 C377.50,339.73 378.02,342.30 378.60,343.50 C379.18,344.70 379.57,345.77 380.54,347.10 C381.51,348.43 383.13,350.30 384.42,351.50 C385.71,352.70 387.65,353.83 388.30,354.30 L388.30,365.30 L349.50,365.30 Z" fill="#e2b673"/>
<line x1="362.43" y1="337.8" x2="362.43" y2="365.3" stroke="#c4c4c4" stroke-width="0.6"/>
<line x1="375.37" y1="337.8" x2="375.37" y2="365.3" stroke="#c4c4c4" stroke-width="0.6"/>
<path d="M349.50,337.8 L388.30,337.8" stroke="#9a9a9a" stroke-width="0.8" fill="none"/>
<path d="M388.30,337.8 L388.30,365.30 L349.50,365.30" stroke="#555" stroke-width="0.8" fill="none"/>
<path d="M349.50,365.30 L349.50,337.8" stroke="#555" stroke-width="0.8" fill="none"/>
<text x="368.90" y="335.20" font-size="7.0" fill="#d8a559" text-anchor="middle" font-weight="bold" font-style="normal" >HLH Myc8</text>
<path d="M391.30,356.30 C392.92,355.92 397.77,353.73 401.00,354.00 C404.23,354.27 407.40,357.92 410.70,357.90 C414.00,357.88 417.55,354.17 420.79,353.90 C424.02,353.63 428.55,355.90 430.10,356.30 L430.10,365.30 L391.30,365.30 Z" fill="#e2b673"/>
<line x1="404.23" y1="337.8" x2="404.23" y2="365.3" stroke="#c4c4c4" stroke-width="0.6"/>
<line x1="417.17" y1="337.8" x2="417.17" y2="365.3" stroke="#c4c4c4" stroke-width="0.6"/>
<path d="M391.30,337.8 L430.10,337.8" stroke="#9a9a9a" stroke-width="0.8" fill="none"/>
<path d="M430.10,337.8 L430.10,365.30 L391.30,365.30" stroke="#555" stroke-width="0.8" fill="none"/>
<path d="M391.30,365.30 L391.30,337.8" stroke="#555" stroke-width="0.8" fill="none"/>
<text x="410.70" y="335.20" font-size="7.0" fill="#d8a559" text-anchor="middle" font-weight="bold" font-style="normal" >HLH Myc9</text>
<path d="M433.50,354.11 C435.12,353.89 439.97,352.76 443.20,352.80 C446.43,352.84 449.99,354.33 452.90,354.38 C455.81,354.42 457.43,353.06 460.66,353.06 C463.89,353.06 470.36,354.16 472.30,354.38 L472.30,365.30 L433.50,365.30 Z" fill="#e2b673"/>
<line x1="446.43" y1="337.8" x2="446.43" y2="365.3" stroke="#c4c4c4" stroke-width="0.6"/>
<line x1="459.37" y1="337.8" x2="459.37" y2="365.3" stroke="#c4c4c4" stroke-width="0.6"/>
<path d="M433.50,337.8 L472.30,337.8" stroke="#9a9a9a" stroke-width="0.8" fill="none"/>
<path d="M472.30,337.8 L472.30,365.30 L433.50,365.30" stroke="#555" stroke-width="0.8" fill="none"/>
<path d="M433.50,365.30 L433.50,337.8" stroke="#555" stroke-width="0.8" fill="none"/>
<text x="452.90" y="335.20" font-size="7.0" fill="#d8a559" text-anchor="middle" font-weight="bold" font-style="normal" >HLH Myc10</text>
<path d="M476.10,353.85 C477.72,353.63 482.57,352.45 485.80,352.54 C489.03,352.62 492.59,354.38 495.50,354.38 C498.41,354.38 500.03,352.62 503.26,352.54 C506.49,352.45 512.96,353.63 514.90,353.85 L514.90,365.30 L476.10,365.30 Z" fill="#e2b673"/>
<line x1="489.03" y1="337.8" x2="489.03" y2="365.3" stroke="#c4c4c4" stroke-width="0.6"/>
<line x1="501.97" y1="337.8" x2="501.97" y2="365.3" stroke="#c4c4c4" stroke-width="0.6"/>
<path d="M476.10,337.8 L514.90,337.8" stroke="#9a9a9a" stroke-width="0.8" fill="none"/>
<path d="M514.90,337.8 L514.90,365.30 L476.10,365.30" stroke="#555" stroke-width="0.8" fill="none"/>
<path d="M476.10,365.30 L476.10,337.8" stroke="#555" stroke-width="0.8" fill="none"/>
<text x="495.50" y="335.20" font-size="7.0" fill="#d8a559" text-anchor="middle" font-weight="bold" font-style="normal" >HLH Myc11</text>
<path d="M518.40,353.00 C519.18,352.45 521.70,350.87 523.06,349.70 C524.41,348.53 525.58,347.27 526.55,346.00 C527.52,344.73 528.29,342.18 528.88,342.10 C529.46,342.02 529.52,344.23 530.04,345.50 C530.56,346.77 531.14,348.28 531.98,349.70 C532.82,351.12 534.11,353.02 535.08,354.00 C536.05,354.98 536.83,355.68 537.80,355.60 C538.77,355.52 539.93,354.58 540.90,353.50 C541.87,352.42 542.91,350.43 543.62,349.10 C544.33,347.77 544.72,346.53 545.17,345.50 C545.62,344.47 545.95,342.93 546.34,342.90 C546.72,342.87 546.98,344.38 547.50,345.30 C548.02,346.22 548.47,347.28 549.44,348.40 C550.41,349.52 552.03,351.02 553.32,352.00 C554.61,352.98 556.55,353.92 557.20,354.30 L557.20,365.30 L518.40,365.30 Z" fill="#e2b673"/>
<line x1="531.33" y1="337.8" x2="531.33" y2="365.3" stroke="#c4c4c4" stroke-width="0.6"/>
<line x1="544.27" y1="337.8" x2="544.27" y2="365.3" stroke="#c4c4c4" stroke-width="0.6"/>
<path d="M518.40,337.8 L557.20,337.8" stroke="#9a9a9a" stroke-width="0.8" fill="none"/>
<path d="M557.20,337.8 L557.20,365.30 L518.40,365.30" stroke="#555" stroke-width="0.8" fill="none"/>
<path d="M518.40,365.30 L518.40,337.8" stroke="#555" stroke-width="0.8" fill="none"/>
<text x="537.80" y="335.20" font-size="7.0" fill="#d8a559" text-anchor="middle" font-weight="bold" font-style="normal" >HLH Myc12</text>
<path d="M560.70,355.00 C562.96,354.83 570.08,354.13 574.28,354.00 C578.48,353.87 581.72,354.03 585.92,354.20 C590.12,354.37 597.24,354.87 599.50,355.00 L599.50,365.30 L560.70,365.30 Z" fill="#e2b673"/>
<line x1="573.63" y1="337.8" x2="573.63" y2="365.3" stroke="#c4c4c4" stroke-width="0.6"/>
<line x1="586.57" y1="337.8" x2="586.57" y2="365.3" stroke="#c4c4c4" stroke-width="0.6"/>
<path d="M560.70,337.8 L599.50,337.8" stroke="#9a9a9a" stroke-width="0.8" fill="none"/>
<path d="M599.50,337.8 L599.50,365.30 L560.70,365.30" stroke="#555" stroke-width="0.8" fill="none"/>
<path d="M560.70,365.30 L560.70,337.8" stroke="#555" stroke-width="0.8" fill="none"/>
<text x="580.10" y="335.20" font-size="7.0" fill="#d8a559" text-anchor="middle" font-weight="bold" font-style="normal" >HLH Myc13</text>
<path d="M603.30,354.38 C604.92,354.03 609.77,352.32 613.00,352.27 C616.23,352.23 619.66,354.20 622.70,354.11 C625.74,354.03 628.00,351.79 631.24,351.75 C634.47,351.71 640.29,353.50 642.10,353.85 L642.10,365.30 L603.30,365.30 Z" fill="#e2b673"/>
<line x1="616.23" y1="337.8" x2="616.23" y2="365.3" stroke="#c4c4c4" stroke-width="0.6"/>
<line x1="629.17" y1="337.8" x2="629.17" y2="365.3" stroke="#c4c4c4" stroke-width="0.6"/>
<path d="M603.30,337.8 L642.10,337.8" stroke="#9a9a9a" stroke-width="0.8" fill="none"/>
<path d="M642.10,337.8 L642.10,365.30 L603.30,365.30" stroke="#555" stroke-width="0.8" fill="none"/>
<path d="M603.30,365.30 L603.30,337.8" stroke="#555" stroke-width="0.8" fill="none"/>
<text x="622.70" y="335.20" font-size="7.0" fill="#d8a559" text-anchor="middle" font-weight="bold" font-style="normal" >HLH Myc14</text>
<path d="M645.60,354.11 C648.83,354.07 658.53,353.85 665.00,353.85 C671.47,353.85 681.17,354.07 684.40,354.11 L684.40,365.30 L645.60,365.30 Z" fill="#e2b673"/>
<line x1="658.53" y1="337.8" x2="658.53" y2="365.3" stroke="#c4c4c4" stroke-width="0.6"/>
<line x1="671.47" y1="337.8" x2="671.47" y2="365.3" stroke="#c4c4c4" stroke-width="0.6"/>
<path d="M645.60,337.8 L684.40,337.8" stroke="#9a9a9a" stroke-width="0.8" fill="none"/>
<path d="M684.40,337.8 L684.40,365.30 L645.60,365.30" stroke="#555" stroke-width="0.8" fill="none"/>
<path d="M645.60,365.30 L645.60,337.8" stroke="#555" stroke-width="0.8" fill="none"/>
<text x="665.00" y="335.20" font-size="7.0" fill="#d8a559" text-anchor="middle" font-weight="bold" font-style="normal" >HLH Myc15</text>
<text x="15.80" y="383.90" font-size="4.5" fill="#444" text-anchor="middle" font-weight="normal" font-style="normal" >6</text>
<text x="15.80" y="411.00" font-size="4.5" fill="#444" text-anchor="middle" font-weight="normal" font-style="normal" >0</text>
<path d="M17.90,400.00 C18.81,399.78 21.33,399.57 23.33,398.70 C25.34,397.83 28.18,394.92 29.93,394.80 C31.67,394.68 32.39,397.42 33.81,398.00 C35.23,398.58 36.59,398.83 38.46,398.30 C40.34,397.77 43.18,394.80 45.06,394.80 C46.94,394.80 47.78,397.50 49.72,398.30 C51.66,399.10 55.54,399.38 56.70,399.60 L56.70,409.40 L17.90,409.40 Z" fill="#f9bb55"/>
<line x1="30.83" y1="382.1" x2="30.83" y2="409.4" stroke="#c4c4c4" stroke-width="0.6"/>
<line x1="43.77" y1="382.1" x2="43.77" y2="409.4" stroke="#c4c4c4" stroke-width="0.6"/>
<path d="M17.90,382.1 L56.70,382.1" stroke="#9a9a9a" stroke-width="0.8" fill="none"/>
<path d="M56.70,382.1 L56.70,409.40 L17.90,409.40" stroke="#555" stroke-width="0.8" fill="none"/>
<path d="M17.90,409.40 L17.90,382.1" stroke="#b8b8b8" stroke-width="0.8" fill="none"/>
<text x="37.30" y="380.50" font-size="7.3" fill="#f4a11c" text-anchor="middle" font-weight="bold" font-style="normal" >Znf1</text>
<path d="M59.60,399.00 C61.02,399.22 65.42,400.63 68.14,400.30 C70.85,399.97 73.44,397.40 75.90,397.00 C78.35,396.60 80.94,397.35 82.88,397.90 C84.82,398.45 84.95,400.28 87.54,400.30 C90.12,400.32 96.59,398.38 98.40,398.00 L98.40,409.40 L59.60,409.40 Z" fill="#c7c3ee"/>
<line x1="72.53" y1="382.1" x2="72.53" y2="409.4" stroke="#c4c4c4" stroke-width="0.6"/>
<line x1="85.47" y1="382.1" x2="85.47" y2="409.4" stroke="#c4c4c4" stroke-width="0.6"/>
<path d="M59.60,382.1 L98.40,382.1" stroke="#9a9a9a" stroke-width="0.8" fill="none"/>
<path d="M98.40,382.1 L98.40,409.40 L59.60,409.40" stroke="#555" stroke-width="0.8" fill="none"/>
<path d="M59.60,409.40 L59.60,382.1" stroke="#555" stroke-width="0.8" fill="none"/>
<text x="79.00" y="380.50" font-size="7.3" fill="#8c87d9" text-anchor="middle" font-weight="bold" font-style="normal" >GATA2</text>
<path d="M101.20,398.38 C103.14,398.60 108.96,399.60 112.84,399.69 C116.72,399.78 119.95,398.99 124.48,398.90 C129.01,398.81 137.41,399.12 140.00,399.16 L140.00,409.40 L101.20,409.40 Z" fill="#c7c3ee"/>
<line x1="114.13" y1="382.1" x2="114.13" y2="409.4" stroke="#c4c4c4" stroke-width="0.6"/>
<line x1="127.07" y1="382.1" x2="127.07" y2="409.4" stroke="#c4c4c4" stroke-width="0.6"/>
<path d="M101.20,382.1 L140.00,382.1" stroke="#9a9a9a" stroke-width="0.8" fill="none"/>
<path d="M140.00,382.1 L140.00,409.40 L101.20,409.40" stroke="#555" stroke-width="0.8" fill="none"/>
<path d="M101.20,409.40 L101.20,382.1" stroke="#555" stroke-width="0.8" fill="none"/>
<text x="120.60" y="380.50" font-size="7.3" fill="#8c87d9" text-anchor="middle" font-weight="bold" font-style="normal" >GATA3</text>
<path d="M141.40,399.16 C144.63,399.16 154.33,399.16 160.80,399.16 C167.27,399.16 176.97,399.16 180.20,399.16 L180.20,409.40 L141.40,409.40 Z" fill="#c7c3ee"/>
<line x1="154.33" y1="382.1" x2="154.33" y2="409.4" stroke="#c4c4c4" stroke-width="0.6"/>
<line x1="167.27" y1="382.1" x2="167.27" y2="409.4" stroke="#c4c4c4" stroke-width="0.6"/>
<path d="M141.40,382.1 L180.20,382.1" stroke="#9a9a9a" stroke-width="0.8" fill="none"/>
<path d="M180.20,382.1 L180.20,409.40 L141.40,409.40" stroke="#555" stroke-width="0.8" fill="none"/>
<path d="M141.40,409.40 L141.40,382.1" stroke="#555" stroke-width="0.8" fill="none"/>
<text x="160.80" y="380.50" font-size="7.3" fill="#8c87d9" text-anchor="middle" font-weight="bold" font-style="normal" >GATA4</text>
<path d="M183.40,398.64 C186.63,398.68 196.33,398.90 202.80,398.90 C209.27,398.90 218.97,398.68 222.20,398.64 L222.20,409.40 L183.40,409.40 Z" fill="#c7c3ee"/>
<line x1="196.33" y1="382.1" x2="196.33" y2="409.4" stroke="#c4c4c4" stroke-width="0.6"/>
<line x1="209.27" y1="382.1" x2="209.27" y2="409.4" stroke="#c4c4c4" stroke-width="0.6"/>
<path d="M183.40,382.1 L222.20,382.1" stroke="#9a9a9a" stroke-width="0.8" fill="none"/>
<path d="M222.20,382.1 L222.20,409.40 L183.40,409.40" stroke="#555" stroke-width="0.8" fill="none"/>
<path d="M183.40,409.40 L183.40,382.1" stroke="#555" stroke-width="0.8" fill="none"/>
<text x="202.80" y="380.50" font-size="7.3" fill="#8c87d9" text-anchor="middle" font-weight="bold" font-style="normal" >GATA5</text>
<path d="M225.20,398.38 C227.14,398.60 233.61,399.65 236.84,399.69 C240.07,399.73 242.34,398.73 244.60,398.64 C246.86,398.55 247.19,399.21 250.42,399.16 C253.65,399.12 261.74,398.51 264.00,398.38 L264.00,409.40 L225.20,409.40 Z" fill="#c7c3ee"/>
<line x1="238.13" y1="382.1" x2="238.13" y2="409.4" stroke="#c4c4c4" stroke-width="0.6"/>
<line x1="251.07" y1="382.1" x2="251.07" y2="409.4" stroke="#c4c4c4" stroke-width="0.6"/>
<path d="M225.20,382.1 L264.00,382.1" stroke="#9a9a9a" stroke-width="0.8" fill="none"/>
<path d="M264.00,382.1 L264.00,409.40 L225.20,409.40" stroke="#555" stroke-width="0.8" fill="none"/>
<path d="M225.20,409.40 L225.20,382.1" stroke="#555" stroke-width="0.8" fill="none"/>
<text x="244.60" y="380.50" font-size="7.3" fill="#8c87d9" text-anchor="middle" font-weight="bold" font-style="normal" >GATA6</text>
<path d="M266.40,400.10 C267.56,399.92 271.25,398.68 273.38,399.00 C275.52,399.32 277.01,401.57 279.20,402.00 C281.40,402.43 284.12,401.77 286.58,401.60 C289.03,401.43 291.75,401.43 293.95,401.00 C296.15,400.57 297.89,399.27 299.77,399.00 C301.64,398.73 304.29,399.33 305.20,399.40 L305.20,409.40 L266.40,409.40 Z" fill="#c7c3ee"/>
<line x1="279.33" y1="382.1" x2="279.33" y2="409.4" stroke="#c4c4c4" stroke-width="0.6"/>
<line x1="292.27" y1="382.1" x2="292.27" y2="409.4" stroke="#c4c4c4" stroke-width="0.6"/>
<path d="M266.40,382.1 L305.20,382.1" stroke="#9a9a9a" stroke-width="0.8" fill="none"/>
<path d="M305.20,382.1 L305.20,409.40 L266.40,409.40" stroke="#555" stroke-width="0.8" fill="none"/>
<path d="M266.40,409.40 L266.40,382.1" stroke="#555" stroke-width="0.8" fill="none"/>
<text x="285.80" y="380.50" font-size="7.3" fill="#8c87d9" text-anchor="middle" font-weight="bold" font-style="normal" >GATA8</text>
<path d="M308.20,399.70 C308.91,399.58 310.01,398.93 312.47,399.00 C314.93,399.07 319.39,399.88 322.94,400.10 C326.50,400.32 330.45,400.48 333.81,400.30 C337.17,400.12 340.92,399.18 343.12,399.00 C345.32,398.82 346.35,399.17 347.00,399.20 L347.00,409.40 L308.20,409.40 Z" fill="#c7c3ee"/>
<line x1="321.13" y1="382.1" x2="321.13" y2="409.4" stroke="#c4c4c4" stroke-width="0.6"/>
<line x1="334.07" y1="382.1" x2="334.07" y2="409.4" stroke="#c4c4c4" stroke-width="0.6"/>
<path d="M308.20,382.1 L347.00,382.1" stroke="#9a9a9a" stroke-width="0.8" fill="none"/>
<path d="M347.00,382.1 L347.00,409.40 L308.20,409.40" stroke="#555" stroke-width="0.8" fill="none"/>
<path d="M308.20,409.40 L308.20,382.1" stroke="#555" stroke-width="0.8" fill="none"/>
<text x="327.60" y="380.50" font-size="7.3" fill="#8c87d9" text-anchor="middle" font-weight="bold" font-style="normal" >GATA9</text>
<path d="M349.50,398.90 C352.09,399.03 358.55,399.65 365.02,399.69 C371.49,399.73 384.42,399.25 388.30,399.16 L388.30,409.40 L349.50,409.40 Z" fill="#c7c3ee"/>
<line x1="362.43" y1="382.1" x2="362.43" y2="409.4" stroke="#c4c4c4" stroke-width="0.6"/>
<line x1="375.37" y1="382.1" x2="375.37" y2="409.4" stroke="#c4c4c4" stroke-width="0.6"/>
<path d="M349.50,382.1 L388.30,382.1" stroke="#9a9a9a" stroke-width="0.8" fill="none"/>
<path d="M388.30,382.1 L388.30,409.40 L349.50,409.40" stroke="#555" stroke-width="0.8" fill="none"/>
<path d="M349.50,409.40 L349.50,382.1" stroke="#555" stroke-width="0.8" fill="none"/>
<text x="368.90" y="380.50" font-size="7.3" fill="#8c87d9" text-anchor="middle" font-weight="bold" font-style="normal" >GATA10</text>
<path d="M391.50,399.43 C394.73,399.38 404.43,399.16 410.90,399.16 C417.37,399.16 427.07,399.38 430.30,399.43 L430.30,409.40 L391.50,409.40 Z" fill="#c7c3ee"/>
<line x1="404.43" y1="382.1" x2="404.43" y2="409.4" stroke="#c4c4c4" stroke-width="0.6"/>
<line x1="417.37" y1="382.1" x2="417.37" y2="409.4" stroke="#c4c4c4" stroke-width="0.6"/>
<path d="M391.50,382.1 L430.30,382.1" stroke="#9a9a9a" stroke-width="0.8" fill="none"/>
<path d="M430.30,382.1 L430.30,409.40 L391.50,409.40" stroke="#555" stroke-width="0.8" fill="none"/>
<path d="M391.50,409.40 L391.50,382.1" stroke="#555" stroke-width="0.8" fill="none"/>
<text x="410.90" y="380.50" font-size="7.3" fill="#8c87d9" text-anchor="middle" font-weight="bold" font-style="normal" >GATA11</text>
<path d="M433.50,401.00 C434.28,400.77 436.73,400.43 438.16,399.60 C439.58,398.77 440.94,397.10 442.04,396.00 C443.14,394.90 443.78,393.00 444.75,393.00 C445.72,393.00 446.11,395.05 447.86,396.00 C449.60,396.95 453.16,398.47 455.23,398.70 C457.30,398.93 458.78,397.47 460.27,397.40 C461.76,397.33 462.15,398.15 464.15,398.30 C466.16,398.45 470.94,398.30 472.30,398.30 L472.30,409.40 L433.50,409.40 Z" fill="#a9e6cc"/>
<line x1="446.43" y1="382.1" x2="446.43" y2="409.4" stroke="#c4c4c4" stroke-width="0.6"/>
<line x1="459.37" y1="382.1" x2="459.37" y2="409.4" stroke="#c4c4c4" stroke-width="0.6"/>
<path d="M433.50,382.1 L472.30,382.1" stroke="#9a9a9a" stroke-width="0.8" fill="none"/>
<path d="M472.30,382.1 L472.30,409.40 L433.50,409.40" stroke="#555" stroke-width="0.8" fill="none"/>
<path d="M433.50,409.40 L433.50,382.1" stroke="#555" stroke-width="0.8" fill="none"/>
<text x="452.90" y="380.50" font-size="7.3" fill="#7fdcb8" text-anchor="middle" font-weight="bold" font-style="normal" >FK1</text>
<path d="M476.20,400.30 C477.30,400.12 480.40,399.38 482.80,399.20 C485.19,399.02 488.81,399.02 490.56,399.20 C492.30,399.38 491.07,400.30 493.27,400.30 C495.47,400.30 500.13,399.20 503.75,399.20 C507.37,399.20 513.12,400.12 515.00,400.30 L515.00,409.40 L476.20,409.40 Z" fill="#a9e6cc"/>
<line x1="489.13" y1="382.1" x2="489.13" y2="409.4" stroke="#c4c4c4" stroke-width="0.6"/>
<line x1="502.07" y1="382.1" x2="502.07" y2="409.4" stroke="#c4c4c4" stroke-width="0.6"/>
<path d="M476.20,382.1 L515.00,382.1" stroke="#9a9a9a" stroke-width="0.8" fill="none"/>
<path d="M515.00,382.1 L515.00,409.40 L476.20,409.40" stroke="#555" stroke-width="0.8" fill="none"/>
<path d="M476.20,409.40 L476.20,382.1" stroke="#555" stroke-width="0.8" fill="none"/>
<text x="495.60" y="380.50" font-size="7.3" fill="#7fdcb8" text-anchor="middle" font-weight="bold" font-style="normal" >FK4</text>
<path d="M518.40,399.69 C520.99,399.56 527.45,398.90 533.92,398.90 C540.39,398.90 553.32,399.56 557.20,399.69 L557.20,409.40 L518.40,409.40 Z" fill="#a3dbd3"/>
<line x1="531.33" y1="382.1" x2="531.33" y2="409.4" stroke="#c4c4c4" stroke-width="0.6"/>
<line x1="544.27" y1="382.1" x2="544.27" y2="409.4" stroke="#c4c4c4" stroke-width="0.6"/>
<path d="M518.40,382.1 L557.20,382.1" stroke="#9a9a9a" stroke-width="0.8" fill="none"/>
<path d="M557.20,382.1 L557.20,409.40 L518.40,409.40" stroke="#555" stroke-width="0.8" fill="none"/>
<path d="M518.40,409.40 L518.40,382.1" stroke="#555" stroke-width="0.8" fill="none"/>
<text x="537.80" y="380.50" font-size="7.3" fill="#5cc3b6" text-anchor="middle" font-weight="bold" font-style="normal" >HMGb2</text>
<path d="M560.20,400.22 C563.43,400.22 573.13,400.22 579.60,400.22 C586.07,400.22 595.77,400.22 599.00,400.22 L599.00,409.40 L560.20,409.40 Z" fill="#a3dbd3"/>
<line x1="573.13" y1="382.1" x2="573.13" y2="409.4" stroke="#c4c4c4" stroke-width="0.6"/>
<line x1="586.07" y1="382.1" x2="586.07" y2="409.4" stroke="#c4c4c4" stroke-width="0.6"/>
<path d="M560.20,382.1 L599.00,382.1" stroke="#9a9a9a" stroke-width="0.8" fill="none"/>
<path d="M599.00,382.1 L599.00,409.40 L560.20,409.40" stroke="#555" stroke-width="0.8" fill="none"/>
<path d="M560.20,409.40 L560.20,382.1" stroke="#555" stroke-width="0.8" fill="none"/>
<text x="579.60" y="380.50" font-size="7.3" fill="#5cc3b6" text-anchor="middle" font-weight="bold" font-style="normal" >HMGb3</text>
<path d="M603.00,399.95 C606.88,399.82 619.81,399.16 626.28,399.16 C632.75,399.16 639.21,399.82 641.80,399.95 L641.80,409.40 L603.00,409.40 Z" fill="#a3dbd3"/>
<line x1="615.93" y1="382.1" x2="615.93" y2="409.4" stroke="#c4c4c4" stroke-width="0.6"/>
<line x1="628.87" y1="382.1" x2="628.87" y2="409.4" stroke="#c4c4c4" stroke-width="0.6"/>
<path d="M603.00,382.1 L641.80,382.1" stroke="#9a9a9a" stroke-width="0.8" fill="none"/>
<path d="M641.80,382.1 L641.80,409.40 L603.00,409.40" stroke="#555" stroke-width="0.8" fill="none"/>
<path d="M603.00,409.40 L603.00,382.1" stroke="#555" stroke-width="0.8" fill="none"/>
<text x="622.40" y="380.50" font-size="7.3" fill="#5cc3b6" text-anchor="middle" font-weight="bold" font-style="normal" >HMGb4</text>
<text x="0" y="0" font-size="10.5" fill="#000" text-anchor="middle" transform="translate(8.8,329) rotate(-90)">DAP coverage signal</text>
<text x="19.20" y="448.90" font-size="16" fill="#000" text-anchor="start" font-weight="normal" font-style="normal" >d</text>
<text x="88.00" y="467.30" font-size="10" fill="#000" text-anchor="middle" font-weight="normal" font-style="normal" >log2FC</text>
<line x1="35.2" y1="484.7" x2="137.4" y2="484.7" stroke="#222" stroke-width="1.2"/>
<line x1="35.20" y1="481" x2="35.20" y2="484.7" stroke="#222" stroke-width="1"/>
<text x="35.20" y="479.20" font-size="7.5" fill="#000" text-anchor="middle" font-weight="normal" font-style="normal" >-3</text>
<line x1="69.27" y1="481" x2="69.27" y2="484.7" stroke="#222" stroke-width="1"/>
<text x="69.27" y="479.20" font-size="7.5" fill="#000" text-anchor="middle" font-weight="normal" font-style="normal" >-2</text>
<line x1="103.34" y1="481" x2="103.34" y2="484.7" stroke="#222" stroke-width="1"/>
<text x="103.34" y="479.20" font-size="7.5" fill="#000" text-anchor="middle" font-weight="normal" font-style="normal" >-1</text>
<line x1="137.41" y1="481" x2="137.41" y2="484.7" stroke="#222" stroke-width="1"/>
<text x="137.41" y="479.20" font-size="7.5" fill="#000" text-anchor="middle" font-weight="normal" font-style="normal" >0</text>
<rect x="61" y="490.5" width="76.40" height="10.6" fill="#c8c8c8"/>
<text x="139.50" y="498.90" font-size="10" fill="#f4a11c" text-anchor="start" font-weight="bold" font-style="normal" >Znf1</text>
<rect x="89.1" y="506.8" width="48.30" height="10.6" fill="#c8c8c8"/>
<text x="139.50" y="515.20" font-size="10" fill="#d8a559" text-anchor="start" font-weight="bold" font-style="normal" >HLH2</text>
<rect x="134" y="522.3" width="3.40" height="10.6" fill="#c8c8c8"/>
<text x="139.50" y="530.70" font-size="10" fill="#d8a559" text-anchor="start" font-weight="bold" font-style="normal" >HLH Myc5</text>
<rect x="114.6" y="539.3" width="22.80" height="10.6" fill="#c8c8c8"/>
<text x="139.50" y="547.70" font-size="10" fill="#8c87d9" text-anchor="start" font-weight="bold" font-style="normal" >GATA Znf3</text>
<rect x="98" y="558.3" width="39.40" height="10.6" fill="#c8c8c8"/>
<text x="139.50" y="566.70" font-size="10" fill="#8c87d9" text-anchor="start" font-weight="bold" font-style="normal" >GATA Znf10</text>
<line x1="137.4" y1="484.7" x2="137.4" y2="574.5" stroke="#222" stroke-width="1.2"/>
<text x="262.00" y="446.10" font-size="16.5" fill="#000" text-anchor="start" font-weight="normal" font-style="normal" >e</text>
<rect x="304.4" y="438.7" width="141.90" height="69.70" fill="#fff"/>
<circle cx="374.51" cy="508.00" r="0.75" fill="#bdbdbd"/>
<circle cx="382.87" cy="500.54" r="0.75" fill="#bdbdbd"/>
<circle cx="375.49" cy="508.37" r="0.75" fill="#bdbdbd"/>
<circle cx="369.76" cy="502.96" r="0.75" fill="#bdbdbd"/>
<circle cx="377.65" cy="506.39" r="0.75" fill="#bdbdbd"/>
<circle cx="368.15" cy="502.25" r="0.75" fill="#bdbdbd"/>
<circle cx="368.09" cy="498.26" r="0.75" fill="#bdbdbd"/>
<circle cx="378.78" cy="506.93" r="0.75" fill="#bdbdbd"/>
<circle cx="383.90" cy="494.14" r="0.75" fill="#bdbdbd"/>
<circle cx="378.08" cy="506.20" r="0.75" fill="#bdbdbd"/>
<circle cx="369.27" cy="505.29" r="0.75" fill="#bdbdbd"/>
<circle cx="375.85" cy="508.30" r="0.75" fill="#bdbdbd"/>
<circle cx="369.86" cy="504.51" r="0.75" fill="#bdbdbd"/>
<circle cx="367.01" cy="499.35" r="0.75" fill="#bdbdbd"/>
<circle cx="374.30" cy="507.70" r="0.75" fill="#bdbdbd"/>
<circle cx="375.69" cy="508.28" r="0.75" fill="#bdbdbd"/>
<circle cx="375.35" cy="508.40" r="0.75" fill="#bdbdbd"/>
<circle cx="374.59" cy="508.15" r="0.75" fill="#bdbdbd"/>
<circle cx="384.18" cy="493.18" r="0.75" fill="#bdbdbd"/>
<circle cx="381.38" cy="501.18" r="0.75" fill="#bdbdbd"/>
<circle cx="372.07" cy="506.55" r="0.75" fill="#bdbdbd"/>
<circle cx="371.61" cy="506.65" r="0.75" fill="#bdbdbd"/>
<circle cx="380.07" cy="504.58" r="0.75" fill="#bdbdbd"/>
<circle cx="381.50" cy="502.96" r="0.75" fill="#bdbdbd"/>
<circle cx="383.47" cy="496.19" r="0.75" fill="#bdbdbd"/>
<circle cx="366.49" cy="501.14" r="0.75" fill="#bdbdbd"/>
<circle cx="382.63" cy="500.87" r="0.75" fill="#bdbdbd"/>
<circle cx="383.87" cy="499.71" r="0.75" fill="#bdbdbd"/>
<circle cx="367.78" cy="499.12" r="0.75" fill="#bdbdbd"/>
<circle cx="380.29" cy="504.92" r="0.75" fill="#bdbdbd"/>
<circle cx="368.03" cy="501.88" r="0.75" fill="#bdbdbd"/>
<circle cx="383.58" cy="496.79" r="0.75" fill="#bdbdbd"/>
<circle cx="368.57" cy="503.15" r="0.75" fill="#bdbdbd"/>
<circle cx="368.27" cy="504.22" r="0.75" fill="#bdbdbd"/>
<circle cx="380.62" cy="505.05" r="0.75" fill="#bdbdbd"/>
<circle cx="376.40" cy="507.91" r="0.75" fill="#bdbdbd"/>
<circle cx="369.86" cy="501.96" r="0.75" fill="#bdbdbd"/>
<circle cx="368.80" cy="500.74" r="0.75" fill="#bdbdbd"/>
<circle cx="368.55" cy="501.89" r="0.75" fill="#bdbdbd"/>
<circle cx="370.26" cy="504.77" r="0.75" fill="#bdbdbd"/>
<circle cx="383.70" cy="496.12" r="0.75" fill="#bdbdbd"/>
<circle cx="371.88" cy="504.58" r="0.75" fill="#bdbdbd"/>
<circle cx="370.22" cy="504.14" r="0.75" fill="#bdbdbd"/>
<circle cx="381.64" cy="501.17" r="0.75" fill="#bdbdbd"/>
<circle cx="368.26" cy="497.25" r="0.75" fill="#bdbdbd"/>
<circle cx="370.26" cy="504.83" r="0.75" fill="#bdbdbd"/>
<circle cx="380.19" cy="504.77" r="0.75" fill="#bdbdbd"/>
<circle cx="371.74" cy="506.73" r="0.75" fill="#bdbdbd"/>
<circle cx="368.08" cy="500.00" r="0.75" fill="#bdbdbd"/>
<circle cx="370.79" cy="503.96" r="0.75" fill="#bdbdbd"/>
<circle cx="373.07" cy="506.95" r="0.75" fill="#bdbdbd"/>
<circle cx="383.49" cy="499.45" r="0.75" fill="#bdbdbd"/>
<circle cx="376.67" cy="507.42" r="0.75" fill="#bdbdbd"/>
<circle cx="369.72" cy="504.86" r="0.75" fill="#bdbdbd"/>
<circle cx="382.59" cy="498.23" r="0.75" fill="#bdbdbd"/>
<circle cx="370.91" cy="505.71" r="0.75" fill="#bdbdbd"/>
<circle cx="379.60" cy="503.14" r="0.75" fill="#bdbdbd"/>
<circle cx="369.97" cy="501.02" r="0.75" fill="#bdbdbd"/>
<circle cx="382.13" cy="500.64" r="0.75" fill="#bdbdbd"/>
<circle cx="373.96" cy="507.94" r="0.75" fill="#bdbdbd"/>
<circle cx="367.17" cy="495.01" r="0.75" fill="#bdbdbd"/>
<circle cx="370.71" cy="503.42" r="0.75" fill="#bdbdbd"/>
<circle cx="371.04" cy="503.46" r="0.75" fill="#bdbdbd"/>
<circle cx="377.06" cy="507.59" r="0.75" fill="#bdbdbd"/>
<circle cx="369.59" cy="501.57" r="0.75" fill="#bdbdbd"/>
<circle cx="367.70" cy="502.33" r="0.75" fill="#bdbdbd"/>
<circle cx="376.40" cy="507.70" r="0.75" fill="#bdbdbd"/>
<circle cx="377.38" cy="507.39" r="0.75" fill="#bdbdbd"/>
<circle cx="382.75" cy="502.80" r="0.75" fill="#bdbdbd"/>
<circle cx="366.78" cy="500.88" r="0.75" fill="#bdbdbd"/>
<circle cx="374.39" cy="508.14" r="0.75" fill="#bdbdbd"/>
<circle cx="369.61" cy="503.56" r="0.75" fill="#bdbdbd"/>
<circle cx="376.63" cy="507.97" r="0.75" fill="#bdbdbd"/>
<circle cx="372.90" cy="506.05" r="0.75" fill="#bdbdbd"/>
<circle cx="383.87" cy="497.19" r="0.75" fill="#bdbdbd"/>
<circle cx="378.74" cy="505.51" r="0.75" fill="#bdbdbd"/>
<circle cx="368.97" cy="504.94" r="0.75" fill="#bdbdbd"/>
<circle cx="366.80" cy="494.67" r="0.75" fill="#bdbdbd"/>
<circle cx="378.91" cy="504.22" r="0.75" fill="#bdbdbd"/>
<circle cx="366.86" cy="497.45" r="0.75" fill="#bdbdbd"/>
<circle cx="375.03" cy="508.28" r="0.75" fill="#bdbdbd"/>
<circle cx="372.14" cy="504.69" r="0.75" fill="#bdbdbd"/>
<circle cx="367.82" cy="499.87" r="0.75" fill="#bdbdbd"/>
<circle cx="379.55" cy="503.36" r="0.75" fill="#bdbdbd"/>
<circle cx="379.56" cy="504.06" r="0.75" fill="#bdbdbd"/>
<circle cx="380.55" cy="501.53" r="0.75" fill="#bdbdbd"/>
<circle cx="372.72" cy="506.19" r="0.75" fill="#bdbdbd"/>
<circle cx="382.46" cy="498.09" r="0.75" fill="#bdbdbd"/>
<circle cx="373.88" cy="507.33" r="0.75" fill="#bdbdbd"/>
<circle cx="381.80" cy="501.37" r="0.75" fill="#bdbdbd"/>
<circle cx="377.57" cy="507.10" r="0.75" fill="#bdbdbd"/>
<circle cx="376.82" cy="507.49" r="0.75" fill="#bdbdbd"/>
<circle cx="367.90" cy="499.26" r="0.75" fill="#bdbdbd"/>
<circle cx="384.10" cy="494.53" r="0.75" fill="#bdbdbd"/>
<circle cx="379.40" cy="505.36" r="0.75" fill="#bdbdbd"/>
<circle cx="379.52" cy="504.55" r="0.75" fill="#bdbdbd"/>
<circle cx="374.30" cy="507.70" r="0.75" fill="#bdbdbd"/>
<circle cx="367.97" cy="498.49" r="0.75" fill="#bdbdbd"/>
<circle cx="367.01" cy="498.05" r="0.75" fill="#bdbdbd"/>
<circle cx="375.01" cy="508.32" r="0.75" fill="#bdbdbd"/>
<circle cx="378.87" cy="505.60" r="0.75" fill="#bdbdbd"/>
<circle cx="377.38" cy="506.55" r="0.75" fill="#bdbdbd"/>
<circle cx="371.02" cy="506.48" r="0.75" fill="#bdbdbd"/>
<circle cx="371.82" cy="505.08" r="0.75" fill="#bdbdbd"/>
<circle cx="370.07" cy="505.08" r="0.75" fill="#bdbdbd"/>
<circle cx="382.55" cy="499.53" r="0.75" fill="#bdbdbd"/>
<circle cx="374.32" cy="507.70" r="0.75" fill="#bdbdbd"/>
<circle cx="372.28" cy="505.70" r="0.75" fill="#bdbdbd"/>
<circle cx="370.00" cy="503.70" r="0.75" fill="#bdbdbd"/>
<circle cx="380.78" cy="501.11" r="0.75" fill="#bdbdbd"/>
<circle cx="382.10" cy="502.22" r="0.75" fill="#bdbdbd"/>
<circle cx="376.82" cy="507.72" r="0.75" fill="#bdbdbd"/>
<circle cx="368.90" cy="501.86" r="0.75" fill="#bdbdbd"/>
<circle cx="381.33" cy="500.44" r="0.75" fill="#bdbdbd"/>
<circle cx="379.10" cy="503.95" r="0.75" fill="#bdbdbd"/>
<circle cx="371.39" cy="506.18" r="0.75" fill="#bdbdbd"/>
<circle cx="374.47" cy="508.09" r="0.75" fill="#bdbdbd"/>
<circle cx="370.28" cy="504.12" r="0.75" fill="#bdbdbd"/>
<circle cx="377.58" cy="506.93" r="0.75" fill="#bdbdbd"/>
<circle cx="372.08" cy="505.00" r="0.75" fill="#bdbdbd"/>
<circle cx="383.90" cy="499.13" r="0.75" fill="#bdbdbd"/>
<circle cx="367.81" cy="504.06" r="0.75" fill="#bdbdbd"/>
<circle cx="381.96" cy="504.72" r="0.75" fill="#bdbdbd"/>
<circle cx="379.05" cy="505.17" r="0.75" fill="#bdbdbd"/>
<circle cx="371.96" cy="504.96" r="0.75" fill="#bdbdbd"/>
<circle cx="366.82" cy="502.23" r="0.75" fill="#bdbdbd"/>
<circle cx="374.55" cy="508.21" r="0.75" fill="#bdbdbd"/>
<circle cx="381.20" cy="504.18" r="0.75" fill="#bdbdbd"/>
<circle cx="368.98" cy="504.87" r="0.75" fill="#bdbdbd"/>
<circle cx="377.64" cy="506.94" r="0.75" fill="#bdbdbd"/>
<circle cx="377.66" cy="506.61" r="0.75" fill="#bdbdbd"/>
<circle cx="380.80" cy="500.84" r="0.75" fill="#bdbdbd"/>
<circle cx="378.62" cy="506.63" r="0.75" fill="#bdbdbd"/>
<circle cx="374.91" cy="508.30" r="0.75" fill="#bdbdbd"/>
<circle cx="366.67" cy="498.74" r="0.75" fill="#bdbdbd"/>
<circle cx="379.15" cy="506.28" r="0.75" fill="#bdbdbd"/>
<circle cx="371.31" cy="505.52" r="0.75" fill="#bdbdbd"/>
<circle cx="378.85" cy="505.56" r="0.75" fill="#bdbdbd"/>
<circle cx="377.38" cy="506.77" r="0.75" fill="#bdbdbd"/>
<circle cx="373.46" cy="506.88" r="0.75" fill="#bdbdbd"/>
<circle cx="382.56" cy="503.90" r="0.75" fill="#bdbdbd"/>
<circle cx="383.02" cy="498.17" r="0.75" fill="#bdbdbd"/>
<circle cx="368.79" cy="501.99" r="0.75" fill="#bdbdbd"/>
<circle cx="377.58" cy="506.31" r="0.75" fill="#bdbdbd"/>
<circle cx="373.16" cy="506.86" r="0.75" fill="#bdbdbd"/>
<circle cx="382.08" cy="499.37" r="0.75" fill="#bdbdbd"/>
<circle cx="383.23" cy="500.03" r="0.75" fill="#bdbdbd"/>
<circle cx="378.03" cy="507.04" r="0.75" fill="#bdbdbd"/>
<circle cx="379.29" cy="504.07" r="0.75" fill="#bdbdbd"/>
<circle cx="377.86" cy="506.27" r="0.75" fill="#bdbdbd"/>
<circle cx="370.26" cy="501.82" r="0.75" fill="#bdbdbd"/>
<circle cx="383.87" cy="494.08" r="0.75" fill="#bdbdbd"/>
<circle cx="376.01" cy="508.06" r="0.75" fill="#bdbdbd"/>
<circle cx="372.16" cy="504.95" r="0.75" fill="#bdbdbd"/>
<circle cx="381.66" cy="503.00" r="0.75" fill="#bdbdbd"/>
<circle cx="367.95" cy="500.92" r="0.75" fill="#bdbdbd"/>
<circle cx="376.24" cy="507.88" r="0.75" fill="#bdbdbd"/>
<circle cx="375.13" cy="508.37" r="0.75" fill="#bdbdbd"/>
<circle cx="380.83" cy="505.45" r="0.75" fill="#bdbdbd"/>
<circle cx="380.67" cy="505.03" r="0.75" fill="#bdbdbd"/>
<circle cx="372.42" cy="505.61" r="0.75" fill="#bdbdbd"/>
<circle cx="368.97" cy="504.21" r="0.75" fill="#bdbdbd"/>
<circle cx="375.64" cy="508.29" r="0.75" fill="#bdbdbd"/>
<circle cx="381.38" cy="501.30" r="0.75" fill="#bdbdbd"/>
<circle cx="383.26" cy="499.74" r="0.75" fill="#bdbdbd"/>
<circle cx="383.32" cy="503.23" r="0.75" fill="#bdbdbd"/>
<circle cx="370.41" cy="503.76" r="0.75" fill="#bdbdbd"/>
<circle cx="371.63" cy="504.67" r="0.75" fill="#bdbdbd"/>
<circle cx="377.81" cy="506.66" r="0.75" fill="#bdbdbd"/>
<circle cx="381.45" cy="501.98" r="0.75" fill="#bdbdbd"/>
<circle cx="372.01" cy="506.10" r="0.75" fill="#bdbdbd"/>
<circle cx="381.47" cy="499.86" r="0.75" fill="#bdbdbd"/>
<circle cx="370.17" cy="501.89" r="0.75" fill="#bdbdbd"/>
<circle cx="383.66" cy="498.82" r="0.75" fill="#bdbdbd"/>
<circle cx="376.64" cy="507.91" r="0.75" fill="#bdbdbd"/>
<circle cx="375.99" cy="508.14" r="0.75" fill="#bdbdbd"/>
<circle cx="377.22" cy="507.79" r="0.75" fill="#bdbdbd"/>
<circle cx="383.68" cy="498.87" r="0.75" fill="#bdbdbd"/>
<circle cx="373.59" cy="507.01" r="0.75" fill="#bdbdbd"/>
<circle cx="376.47" cy="507.84" r="0.75" fill="#bdbdbd"/>
<circle cx="378.74" cy="506.89" r="0.75" fill="#bdbdbd"/>
<circle cx="376.04" cy="508.14" r="0.75" fill="#bdbdbd"/>
<circle cx="383.45" cy="495.55" r="0.75" fill="#bdbdbd"/>
<circle cx="371.26" cy="505.02" r="0.75" fill="#bdbdbd"/>
<circle cx="368.73" cy="502.05" r="0.75" fill="#bdbdbd"/>
<circle cx="380.95" cy="500.86" r="0.75" fill="#bdbdbd"/>
<circle cx="374.93" cy="508.28" r="0.75" fill="#bdbdbd"/>
<circle cx="369.88" cy="502.57" r="0.75" fill="#bdbdbd"/>
<circle cx="382.89" cy="503.26" r="0.75" fill="#bdbdbd"/>
<circle cx="380.30" cy="506.03" r="0.75" fill="#bdbdbd"/>
<circle cx="369.92" cy="504.65" r="0.75" fill="#bdbdbd"/>
<circle cx="378.67" cy="506.27" r="0.75" fill="#bdbdbd"/>
<circle cx="372.78" cy="506.38" r="0.75" fill="#bdbdbd"/>
<circle cx="368.34" cy="499.33" r="0.75" fill="#bdbdbd"/>
<circle cx="368.66" cy="501.42" r="0.75" fill="#bdbdbd"/>
<circle cx="370.93" cy="505.70" r="0.75" fill="#bdbdbd"/>
<circle cx="375.89" cy="508.21" r="0.75" fill="#bdbdbd"/>
<circle cx="373.15" cy="507.07" r="0.75" fill="#bdbdbd"/>
<circle cx="375.87" cy="508.27" r="0.75" fill="#bdbdbd"/>
<circle cx="370.10" cy="502.84" r="0.75" fill="#bdbdbd"/>
<circle cx="377.81" cy="506.65" r="0.75" fill="#bdbdbd"/>
<circle cx="381.58" cy="501.45" r="0.75" fill="#bdbdbd"/>
<circle cx="381.68" cy="503.72" r="0.75" fill="#bdbdbd"/>
<circle cx="379.62" cy="503.57" r="0.75" fill="#bdbdbd"/>
<circle cx="382.49" cy="502.23" r="0.75" fill="#bdbdbd"/>
<circle cx="372.07" cy="504.78" r="0.75" fill="#bdbdbd"/>
<circle cx="370.35" cy="501.52" r="0.75" fill="#bdbdbd"/>
<circle cx="382.22" cy="503.85" r="0.75" fill="#bdbdbd"/>
<circle cx="370.73" cy="503.35" r="0.75" fill="#bdbdbd"/>
<circle cx="371.08" cy="506.20" r="0.75" fill="#bdbdbd"/>
<circle cx="381.24" cy="503.07" r="0.75" fill="#bdbdbd"/>
<circle cx="380.49" cy="505.41" r="0.75" fill="#bdbdbd"/>
<circle cx="373.63" cy="507.17" r="0.75" fill="#bdbdbd"/>
<circle cx="366.80" cy="501.57" r="0.75" fill="#bdbdbd"/>
<circle cx="378.59" cy="504.88" r="0.75" fill="#bdbdbd"/>
<circle cx="383.66" cy="502.65" r="0.75" fill="#bdbdbd"/>
<circle cx="375.45" cy="508.38" r="0.75" fill="#bdbdbd"/>
<circle cx="375.40" cy="508.39" r="0.75" fill="#bdbdbd"/>
<circle cx="369.83" cy="505.39" r="0.75" fill="#bdbdbd"/>
<circle cx="368.36" cy="504.46" r="0.75" fill="#bdbdbd"/>
<circle cx="376.27" cy="507.97" r="0.75" fill="#bdbdbd"/>
<circle cx="376.57" cy="507.99" r="0.75" fill="#bdbdbd"/>
<circle cx="369.75" cy="504.62" r="0.75" fill="#bdbdbd"/>
<circle cx="381.38" cy="499.49" r="0.75" fill="#bdbdbd"/>
<circle cx="382.92" cy="503.51" r="0.75" fill="#bdbdbd"/>
<circle cx="367.58" cy="496.04" r="0.75" fill="#bdbdbd"/>
<circle cx="374.68" cy="508.05" r="0.75" fill="#bdbdbd"/>
<circle cx="372.28" cy="506.15" r="0.75" fill="#bdbdbd"/>
<circle cx="375.62" cy="508.33" r="0.75" fill="#bdbdbd"/>
<circle cx="377.14" cy="507.84" r="0.75" fill="#bdbdbd"/>
<circle cx="378.92" cy="504.55" r="0.75" fill="#bdbdbd"/>
<circle cx="369.70" cy="503.20" r="0.75" fill="#bdbdbd"/>
<circle cx="379.60" cy="505.09" r="0.75" fill="#bdbdbd"/>
<circle cx="369.94" cy="504.99" r="0.75" fill="#bdbdbd"/>
<circle cx="375.57" cy="508.37" r="0.75" fill="#bdbdbd"/>
<circle cx="382.32" cy="498.87" r="0.75" fill="#bdbdbd"/>
<circle cx="378.98" cy="504.41" r="0.75" fill="#bdbdbd"/>
<circle cx="377.64" cy="507.00" r="0.75" fill="#bdbdbd"/>
<circle cx="377.12" cy="507.32" r="0.75" fill="#bdbdbd"/>
<circle cx="383.91" cy="495.67" r="0.75" fill="#bdbdbd"/>
<circle cx="371.06" cy="503.17" r="0.75" fill="#bdbdbd"/>
<circle cx="379.69" cy="503.59" r="0.75" fill="#bdbdbd"/>
<circle cx="380.93" cy="503.55" r="0.75" fill="#bdbdbd"/>
<circle cx="382.38" cy="498.18" r="0.75" fill="#bdbdbd"/>
<circle cx="378.81" cy="504.93" r="0.75" fill="#bdbdbd"/>
<circle cx="380.05" cy="504.58" r="0.75" fill="#bdbdbd"/>
<circle cx="379.30" cy="506.52" r="0.75" fill="#bdbdbd"/>
<circle cx="372.54" cy="506.42" r="0.75" fill="#bdbdbd"/>
<circle cx="366.67" cy="499.89" r="0.75" fill="#bdbdbd"/>
<circle cx="377.81" cy="506.49" r="0.75" fill="#bdbdbd"/>
<circle cx="370.60" cy="502.22" r="0.75" fill="#bdbdbd"/>
<circle cx="378.30" cy="506.57" r="0.75" fill="#bdbdbd"/>
<circle cx="378.18" cy="506.18" r="0.75" fill="#bdbdbd"/>
<circle cx="375.94" cy="508.20" r="0.75" fill="#bdbdbd"/>
<circle cx="384.22" cy="496.70" r="0.75" fill="#bdbdbd"/>
<circle cx="378.92" cy="504.78" r="0.75" fill="#bdbdbd"/>
<circle cx="383.87" cy="503.34" r="0.75" fill="#bdbdbd"/>
<circle cx="377.40" cy="506.77" r="0.75" fill="#bdbdbd"/>
<circle cx="371.03" cy="505.03" r="0.75" fill="#bdbdbd"/>
<circle cx="367.38" cy="502.26" r="0.75" fill="#bdbdbd"/>
<circle cx="319.27" cy="442.23" r="0.85" fill="#6aaee0"/>
<circle cx="321.90" cy="447.48" r="0.85" fill="#6aaee0"/>
<circle cx="308.76" cy="456.46" r="0.85" fill="#6aaee0"/>
<circle cx="331.75" cy="451.86" r="0.85" fill="#6aaee0"/>
<circle cx="339.41" cy="441.13" r="0.85" fill="#6aaee0"/>
<circle cx="345.33" cy="442.01" r="0.85" fill="#6aaee0"/>
<circle cx="343.79" cy="444.85" r="0.85" fill="#6aaee0"/>
<circle cx="344.89" cy="449.23" r="0.85" fill="#6aaee0"/>
<circle cx="345.98" cy="450.33" r="0.85" fill="#6aaee0"/>
<circle cx="341.60" cy="455.80" r="0.85" fill="#6aaee0"/>
<circle cx="351.46" cy="454.71" r="0.85" fill="#6aaee0"/>
<circle cx="342.70" cy="460.18" r="0.85" fill="#6aaee0"/>
<circle cx="355.84" cy="461.71" r="0.85" fill="#6aaee0"/>
<circle cx="331.75" cy="466.75" r="0.85" fill="#6aaee0"/>
<circle cx="347.73" cy="465.65" r="0.85" fill="#6aaee0"/>
<circle cx="344.89" cy="471.13" r="0.85" fill="#6aaee0"/>
<circle cx="346.64" cy="475.95" r="0.85" fill="#6aaee0"/>
<circle cx="349.92" cy="478.35" r="0.85" fill="#6aaee0"/>
<circle cx="338.32" cy="479.89" r="0.85" fill="#6aaee0"/>
<circle cx="350.36" cy="480.33" r="0.85" fill="#6aaee0"/>
<circle cx="346.42" cy="482.08" r="0.85" fill="#6aaee0"/>
<circle cx="340.51" cy="482.73" r="0.85" fill="#6aaee0"/>
<circle cx="336.13" cy="487.55" r="0.85" fill="#6aaee0"/>
<circle cx="352.55" cy="485.36" r="0.85" fill="#6aaee0"/>
<circle cx="314.89" cy="491.93" r="0.85" fill="#6aaee0"/>
<circle cx="332.84" cy="491.27" r="0.85" fill="#6aaee0"/>
<circle cx="334.60" cy="494.12" r="0.85" fill="#6aaee0"/>
<circle cx="340.51" cy="493.02" r="0.85" fill="#6aaee0"/>
<circle cx="342.70" cy="498.50" r="0.85" fill="#6aaee0"/>
<circle cx="344.89" cy="499.59" r="0.85" fill="#6aaee0"/>
<circle cx="348.17" cy="489.74" r="0.85" fill="#6aaee0"/>
<circle cx="349.27" cy="491.93" r="0.85" fill="#6aaee0"/>
<circle cx="351.46" cy="494.12" r="0.85" fill="#6aaee0"/>
<circle cx="353.65" cy="494.56" r="0.85" fill="#6aaee0"/>
<circle cx="347.08" cy="496.31" r="0.85" fill="#6aaee0"/>
<circle cx="351.46" cy="500.69" r="0.85" fill="#6aaee0"/>
<circle cx="348.17" cy="505.07" r="0.85" fill="#6aaee0"/>
<circle cx="350.80" cy="503.97" r="0.85" fill="#6aaee0"/>
<circle cx="354.74" cy="500.69" r="0.85" fill="#6aaee0"/>
<circle cx="353.65" cy="497.40" r="0.85" fill="#6aaee0"/>
<circle cx="349.92" cy="495.21" r="0.85" fill="#6aaee0"/>
<circle cx="397.00" cy="447.48" r="0.85" fill="#d9706b"/>
<circle cx="414.30" cy="469.38" r="0.85" fill="#d9706b"/>
<circle cx="390.87" cy="472.22" r="0.85" fill="#d9706b"/>
<circle cx="400.07" cy="474.85" r="0.85" fill="#d9706b"/>
<circle cx="393.72" cy="477.26" r="0.85" fill="#d9706b"/>
<circle cx="394.59" cy="477.04" r="0.85" fill="#d9706b"/>
<circle cx="389.77" cy="482.08" r="0.85" fill="#d9706b"/>
<circle cx="408.82" cy="482.51" r="0.85" fill="#d9706b"/>
<circle cx="391.96" cy="485.80" r="0.85" fill="#d9706b"/>
<circle cx="394.59" cy="485.80" r="0.85" fill="#d9706b"/>
<circle cx="386.05" cy="488.65" r="0.85" fill="#d9706b"/>
<circle cx="389.34" cy="488.65" r="0.85" fill="#d9706b"/>
<circle cx="395.69" cy="491.93" r="0.85" fill="#d9706b"/>
<circle cx="394.15" cy="494.12" r="0.85" fill="#d9706b"/>
<circle cx="413.42" cy="496.97" r="0.85" fill="#d9706b"/>
<circle cx="396.34" cy="500.69" r="0.85" fill="#d9706b"/>
<circle cx="391.96" cy="498.50" r="0.85" fill="#d9706b"/>
<circle cx="397.44" cy="505.51" r="0.85" fill="#d9706b"/>
<circle cx="400.72" cy="505.94" r="0.85" fill="#d9706b"/>
<circle cx="407.29" cy="505.51" r="0.85" fill="#d9706b"/>
<circle cx="413.42" cy="505.51" r="0.85" fill="#d9706b"/>
<circle cx="402.91" cy="506.16" r="0.85" fill="#d9706b"/>
<circle cx="393.06" cy="503.97" r="0.85" fill="#d9706b"/>
<circle cx="364.47" cy="503.79" r="0.85" fill="#6aaee0"/>
<circle cx="364.48" cy="488.87" r="0.85" fill="#6aaee0"/>
<circle cx="360.32" cy="492.25" r="0.85" fill="#6aaee0"/>
<circle cx="364.24" cy="497.38" r="0.85" fill="#6aaee0"/>
<circle cx="358.83" cy="496.79" r="0.85" fill="#6aaee0"/>
<circle cx="365.90" cy="506.46" r="0.85" fill="#6aaee0"/>
<circle cx="359.05" cy="507.01" r="0.85" fill="#6aaee0"/>
<circle cx="361.15" cy="492.04" r="0.85" fill="#6aaee0"/>
<circle cx="363.02" cy="505.36" r="0.85" fill="#6aaee0"/>
<circle cx="361.24" cy="500.50" r="0.85" fill="#6aaee0"/>
<circle cx="364.76" cy="487.49" r="0.85" fill="#6aaee0"/>
<circle cx="364.98" cy="500.27" r="0.85" fill="#6aaee0"/>
<circle cx="359.31" cy="503.37" r="0.85" fill="#6aaee0"/>
<circle cx="364.97" cy="503.03" r="0.85" fill="#6aaee0"/>
<circle cx="362.44" cy="503.70" r="0.85" fill="#6aaee0"/>
<circle cx="360.69" cy="496.80" r="0.85" fill="#6aaee0"/>
<circle cx="365.88" cy="503.61" r="0.85" fill="#6aaee0"/>
<circle cx="365.30" cy="506.89" r="0.85" fill="#6aaee0"/>
<circle cx="361.37" cy="502.26" r="0.85" fill="#6aaee0"/>
<circle cx="358.97" cy="495.12" r="0.85" fill="#6aaee0"/>
<circle cx="366.11" cy="484.62" r="0.85" fill="#6aaee0"/>
<circle cx="364.48" cy="487.84" r="0.85" fill="#6aaee0"/>
<circle cx="356.16" cy="503.79" r="0.85" fill="#6aaee0"/>
<circle cx="361.17" cy="500.86" r="0.85" fill="#6aaee0"/>
<circle cx="362.35" cy="499.40" r="0.85" fill="#6aaee0"/>
<circle cx="365.48" cy="486.87" r="0.85" fill="#6aaee0"/>
<circle cx="365.14" cy="486.10" r="0.85" fill="#6aaee0"/>
<circle cx="360.45" cy="495.09" r="0.85" fill="#6aaee0"/>
<circle cx="364.11" cy="496.18" r="0.85" fill="#6aaee0"/>
<circle cx="364.59" cy="499.68" r="0.85" fill="#6aaee0"/>
<circle cx="365.65" cy="497.50" r="0.85" fill="#6aaee0"/>
<circle cx="364.52" cy="505.86" r="0.85" fill="#6aaee0"/>
<circle cx="359.00" cy="502.22" r="0.85" fill="#6aaee0"/>
<circle cx="363.45" cy="503.82" r="0.85" fill="#6aaee0"/>
<circle cx="361.48" cy="494.90" r="0.85" fill="#6aaee0"/>
<circle cx="363.49" cy="498.63" r="0.85" fill="#6aaee0"/>
<circle cx="353.47" cy="502.56" r="0.85" fill="#6aaee0"/>
<circle cx="365.94" cy="503.73" r="0.85" fill="#6aaee0"/>
<circle cx="357.96" cy="498.01" r="0.85" fill="#6aaee0"/>
<circle cx="359.03" cy="499.64" r="0.85" fill="#6aaee0"/>
<circle cx="363.54" cy="495.19" r="0.85" fill="#6aaee0"/>
<circle cx="362.97" cy="498.21" r="0.85" fill="#6aaee0"/>
<circle cx="360.04" cy="496.66" r="0.85" fill="#6aaee0"/>
<circle cx="362.17" cy="505.18" r="0.85" fill="#6aaee0"/>
<circle cx="366.03" cy="486.86" r="0.85" fill="#6aaee0"/>
<circle cx="351.82" cy="503.08" r="0.85" fill="#6aaee0"/>
<circle cx="364.37" cy="503.45" r="0.85" fill="#6aaee0"/>
<circle cx="365.68" cy="499.88" r="0.85" fill="#6aaee0"/>
<circle cx="364.42" cy="497.86" r="0.85" fill="#6aaee0"/>
<circle cx="364.46" cy="506.57" r="0.85" fill="#6aaee0"/>
<circle cx="359.54" cy="500.50" r="0.85" fill="#6aaee0"/>
<circle cx="362.15" cy="497.38" r="0.85" fill="#6aaee0"/>
<circle cx="362.04" cy="504.90" r="0.85" fill="#6aaee0"/>
<circle cx="361.95" cy="502.84" r="0.85" fill="#6aaee0"/>
<circle cx="365.81" cy="506.49" r="0.85" fill="#6aaee0"/>
<circle cx="356.35" cy="506.58" r="0.85" fill="#6aaee0"/>
<circle cx="363.52" cy="493.26" r="0.85" fill="#6aaee0"/>
<circle cx="359.45" cy="505.30" r="0.85" fill="#6aaee0"/>
<circle cx="362.61" cy="493.16" r="0.85" fill="#6aaee0"/>
<circle cx="364.32" cy="501.59" r="0.85" fill="#6aaee0"/>
<circle cx="357.35" cy="504.49" r="0.85" fill="#6aaee0"/>
<circle cx="353.45" cy="504.05" r="0.85" fill="#6aaee0"/>
<circle cx="365.84" cy="499.76" r="0.85" fill="#6aaee0"/>
<circle cx="354.59" cy="504.95" r="0.85" fill="#6aaee0"/>
<circle cx="357.56" cy="506.81" r="0.85" fill="#6aaee0"/>
<circle cx="360.14" cy="506.65" r="0.85" fill="#6aaee0"/>
<circle cx="360.70" cy="497.38" r="0.85" fill="#6aaee0"/>
<circle cx="363.81" cy="503.08" r="0.85" fill="#6aaee0"/>
<circle cx="365.80" cy="504.23" r="0.85" fill="#6aaee0"/>
<circle cx="364.11" cy="495.29" r="0.85" fill="#6aaee0"/>
<circle cx="362.33" cy="495.28" r="0.85" fill="#6aaee0"/>
<circle cx="363.98" cy="494.64" r="0.85" fill="#6aaee0"/>
<circle cx="365.54" cy="501.41" r="0.85" fill="#6aaee0"/>
<circle cx="363.34" cy="494.41" r="0.85" fill="#6aaee0"/>
<circle cx="364.42" cy="493.93" r="0.85" fill="#6aaee0"/>
<circle cx="364.22" cy="497.36" r="0.85" fill="#6aaee0"/>
<circle cx="355.53" cy="498.71" r="0.85" fill="#6aaee0"/>
<circle cx="360.18" cy="501.96" r="0.85" fill="#6aaee0"/>
<circle cx="364.70" cy="502.49" r="0.85" fill="#6aaee0"/>
<circle cx="362.00" cy="501.86" r="0.85" fill="#6aaee0"/>
<circle cx="356.16" cy="505.56" r="0.85" fill="#6aaee0"/>
<circle cx="361.79" cy="502.59" r="0.85" fill="#6aaee0"/>
<circle cx="362.89" cy="501.59" r="0.85" fill="#6aaee0"/>
<circle cx="362.49" cy="501.89" r="0.85" fill="#6aaee0"/>
<circle cx="363.89" cy="492.24" r="0.85" fill="#6aaee0"/>
<circle cx="359.92" cy="500.45" r="0.85" fill="#6aaee0"/>
<circle cx="362.72" cy="505.30" r="0.85" fill="#6aaee0"/>
<circle cx="360.48" cy="496.17" r="0.85" fill="#6aaee0"/>
<circle cx="363.07" cy="507.12" r="0.85" fill="#6aaee0"/>
<circle cx="363.29" cy="499.05" r="0.85" fill="#6aaee0"/>
<circle cx="359.75" cy="492.97" r="0.85" fill="#6aaee0"/>
<circle cx="364.31" cy="495.41" r="0.85" fill="#6aaee0"/>
<circle cx="365.50" cy="497.13" r="0.85" fill="#6aaee0"/>
<circle cx="364.37" cy="492.02" r="0.85" fill="#6aaee0"/>
<circle cx="364.30" cy="493.34" r="0.85" fill="#6aaee0"/>
<circle cx="365.06" cy="488.41" r="0.85" fill="#6aaee0"/>
<circle cx="359.87" cy="506.04" r="0.85" fill="#6aaee0"/>
<circle cx="362.44" cy="494.73" r="0.85" fill="#6aaee0"/>
<circle cx="363.85" cy="504.44" r="0.85" fill="#6aaee0"/>
<circle cx="363.03" cy="493.78" r="0.85" fill="#6aaee0"/>
<circle cx="357.49" cy="503.65" r="0.85" fill="#6aaee0"/>
<circle cx="364.95" cy="502.01" r="0.85" fill="#6aaee0"/>
<circle cx="358.62" cy="501.86" r="0.85" fill="#6aaee0"/>
<circle cx="364.61" cy="497.86" r="0.85" fill="#6aaee0"/>
<circle cx="364.67" cy="488.42" r="0.85" fill="#6aaee0"/>
<circle cx="358.22" cy="503.17" r="0.85" fill="#6aaee0"/>
<circle cx="362.63" cy="492.14" r="0.85" fill="#6aaee0"/>
<circle cx="359.39" cy="496.32" r="0.85" fill="#6aaee0"/>
<circle cx="360.73" cy="491.96" r="0.85" fill="#6aaee0"/>
<circle cx="356.85" cy="500.94" r="0.85" fill="#6aaee0"/>
<circle cx="358.15" cy="497.55" r="0.85" fill="#6aaee0"/>
<circle cx="364.92" cy="500.27" r="0.85" fill="#6aaee0"/>
<circle cx="363.60" cy="493.84" r="0.85" fill="#6aaee0"/>
<circle cx="364.75" cy="486.26" r="0.85" fill="#6aaee0"/>
<circle cx="363.92" cy="504.69" r="0.85" fill="#6aaee0"/>
<circle cx="363.94" cy="500.61" r="0.85" fill="#6aaee0"/>
<circle cx="362.59" cy="506.79" r="0.85" fill="#6aaee0"/>
<circle cx="353.04" cy="505.85" r="0.85" fill="#6aaee0"/>
<circle cx="360.57" cy="495.77" r="0.85" fill="#6aaee0"/>
<circle cx="361.24" cy="505.45" r="0.85" fill="#6aaee0"/>
<circle cx="387.95" cy="500.67" r="0.85" fill="#d9706b"/>
<circle cx="385.94" cy="492.77" r="0.85" fill="#d9706b"/>
<circle cx="386.08" cy="505.46" r="0.85" fill="#d9706b"/>
<circle cx="384.88" cy="504.78" r="0.85" fill="#d9706b"/>
<circle cx="385.01" cy="498.17" r="0.85" fill="#d9706b"/>
<circle cx="389.82" cy="505.78" r="0.85" fill="#d9706b"/>
<circle cx="385.60" cy="505.53" r="0.85" fill="#d9706b"/>
<circle cx="387.02" cy="497.01" r="0.85" fill="#d9706b"/>
<circle cx="386.12" cy="494.86" r="0.85" fill="#d9706b"/>
<circle cx="388.43" cy="502.45" r="0.85" fill="#d9706b"/>
<circle cx="384.98" cy="491.33" r="0.85" fill="#d9706b"/>
<circle cx="391.51" cy="505.35" r="0.85" fill="#d9706b"/>
<circle cx="392.55" cy="504.91" r="0.85" fill="#d9706b"/>
<circle cx="386.98" cy="505.18" r="0.85" fill="#d9706b"/>
<circle cx="392.26" cy="502.37" r="0.85" fill="#d9706b"/>
<circle cx="387.02" cy="503.01" r="0.85" fill="#d9706b"/>
<circle cx="388.49" cy="504.95" r="0.85" fill="#d9706b"/>
<circle cx="385.22" cy="489.95" r="0.85" fill="#d9706b"/>
<circle cx="385.87" cy="507.21" r="0.85" fill="#d9706b"/>
<circle cx="386.58" cy="501.45" r="0.85" fill="#d9706b"/>
<circle cx="388.66" cy="499.43" r="0.85" fill="#d9706b"/>
<circle cx="388.84" cy="501.07" r="0.85" fill="#d9706b"/>
<circle cx="385.60" cy="503.38" r="0.85" fill="#d9706b"/>
<circle cx="386.15" cy="504.48" r="0.85" fill="#d9706b"/>
<circle cx="387.27" cy="499.29" r="0.85" fill="#d9706b"/>
<circle cx="387.48" cy="493.39" r="0.85" fill="#d9706b"/>
<circle cx="384.95" cy="505.73" r="0.85" fill="#d9706b"/>
<circle cx="388.64" cy="498.59" r="0.85" fill="#d9706b"/>
<circle cx="390.74" cy="500.10" r="0.85" fill="#d9706b"/>
<circle cx="384.57" cy="492.89" r="0.85" fill="#d9706b"/>
<circle cx="386.83" cy="497.53" r="0.85" fill="#d9706b"/>
<circle cx="385.83" cy="506.46" r="0.85" fill="#d9706b"/>
<circle cx="388.26" cy="495.22" r="0.85" fill="#d9706b"/>
<circle cx="384.99" cy="498.32" r="0.85" fill="#d9706b"/>
<circle cx="386.30" cy="495.62" r="0.85" fill="#d9706b"/>
<circle cx="386.75" cy="502.40" r="0.85" fill="#d9706b"/>
<circle cx="385.79" cy="494.28" r="0.85" fill="#d9706b"/>
<circle cx="385.25" cy="504.98" r="0.85" fill="#d9706b"/>
<circle cx="388.46" cy="506.13" r="0.85" fill="#d9706b"/>
<circle cx="385.62" cy="493.96" r="0.85" fill="#d9706b"/>
<circle cx="385.61" cy="506.66" r="0.85" fill="#d9706b"/>
<circle cx="387.20" cy="504.17" r="0.85" fill="#d9706b"/>
<circle cx="389.72" cy="504.48" r="0.85" fill="#d9706b"/>
<circle cx="385.60" cy="496.87" r="0.85" fill="#d9706b"/>
<circle cx="387.16" cy="501.95" r="0.85" fill="#d9706b"/>
<circle cx="386.59" cy="492.54" r="0.85" fill="#d9706b"/>
<circle cx="386.86" cy="507.21" r="0.85" fill="#d9706b"/>
<circle cx="388.80" cy="503.90" r="0.85" fill="#d9706b"/>
<circle cx="385.13" cy="498.87" r="0.85" fill="#d9706b"/>
<circle cx="386.91" cy="501.87" r="0.85" fill="#d9706b"/>
<circle cx="390.47" cy="506.06" r="0.85" fill="#d9706b"/>
<circle cx="385.20" cy="497.91" r="0.85" fill="#d9706b"/>
<circle cx="385.34" cy="499.48" r="0.85" fill="#d9706b"/>
<circle cx="387.67" cy="504.42" r="0.85" fill="#d9706b"/>
<circle cx="386.26" cy="497.88" r="0.85" fill="#d9706b"/>
<line x1="366.48" y1="438.7" x2="366.48" y2="508.4" stroke="#a8a8a8" stroke-width="0.5"/>
<line x1="384.22" y1="438.7" x2="384.22" y2="508.4" stroke="#a8a8a8" stroke-width="0.5"/>
<line x1="304.4" y1="506.60" x2="446.3" y2="506.60" stroke="#aaa" stroke-width="0.5"/>
<rect x="304.4" y="438.7" width="141.90" height="69.70" fill="none" stroke="#9a9a9a" stroke-width="0.7"/>
<path d="M304.4,438.7 L304.4,508.4 L446.3,508.4" fill="none" stroke="#333" stroke-width="0.9"/>
<line x1="302.9" y1="508.40" x2="304.4" y2="508.40" stroke="#333" stroke-width="0.5"/>
<text x="301.80" y="510.60" font-size="6.2" fill="#222" text-anchor="end" font-weight="normal" font-style="normal" >0</text>
<line x1="302.9" y1="494.46" x2="304.4" y2="494.46" stroke="#333" stroke-width="0.5"/>
<text x="301.80" y="496.66" font-size="6.2" fill="#222" text-anchor="end" font-weight="normal" font-style="normal" >20</text>
<line x1="302.9" y1="480.52" x2="304.4" y2="480.52" stroke="#333" stroke-width="0.5"/>
<text x="301.80" y="482.72" font-size="6.2" fill="#222" text-anchor="end" font-weight="normal" font-style="normal" >40</text>
<line x1="302.9" y1="466.58" x2="304.4" y2="466.58" stroke="#333" stroke-width="0.5"/>
<text x="301.80" y="468.78" font-size="6.2" fill="#222" text-anchor="end" font-weight="normal" font-style="normal" >60</text>
<line x1="302.9" y1="452.64" x2="304.4" y2="452.64" stroke="#333" stroke-width="0.5"/>
<text x="301.80" y="454.84" font-size="6.2" fill="#222" text-anchor="end" font-weight="normal" font-style="normal" >80</text>
<line x1="302.9" y1="438.70" x2="304.4" y2="438.70" stroke="#333" stroke-width="0.5"/>
<text x="301.80" y="440.90" font-size="6.2" fill="#222" text-anchor="end" font-weight="normal" font-style="normal" >100</text>
<text x="304.40" y="515.80" font-size="6.2" fill="#222" text-anchor="middle" font-weight="normal" font-style="normal" >-8</text>
<text x="375.35" y="515.80" font-size="6.2" fill="#222" text-anchor="middle" font-weight="normal" font-style="normal" >0</text>
<text x="446.30" y="515.80" font-size="6.2" fill="#222" text-anchor="middle" font-weight="normal" font-style="normal" >8</text>
<text x="376.35" y="437.00" font-size="8.6" fill="#f4a11c" text-anchor="middle" font-weight="bold" font-style="normal" >Znf1</text>
<text x="338.30" y="516.20" font-size="8" fill="#5b9bd0" text-anchor="middle" font-weight="normal" font-style="normal" >14 %</text>
<text x="415.50" y="516.20" font-size="8" fill="#c75d5d" text-anchor="middle" font-weight="normal" font-style="normal" >7.2 %</text>
<rect x="464.4" y="438.9" width="141.90" height="69.50" fill="#fff"/>
<circle cx="534.90" cy="508.23" r="1" fill="#fff" stroke="#a0a0a0" stroke-width="0.5"/>
<circle cx="538.30" cy="507.14" r="1" fill="#fff" stroke="#a0a0a0" stroke-width="0.5"/>
<circle cx="526.67" cy="498.32" r="1" fill="#fff" stroke="#a0a0a0" stroke-width="0.5"/>
<circle cx="531.34" cy="503.03" r="1" fill="#fff" stroke="#a0a0a0" stroke-width="0.5"/>
<circle cx="538.73" cy="505.06" r="1" fill="#fff" stroke="#a0a0a0" stroke-width="0.5"/>
<circle cx="536.38" cy="507.80" r="1" fill="#fff" stroke="#a0a0a0" stroke-width="0.5"/>
<circle cx="529.06" cy="501.52" r="1" fill="#fff" stroke="#a0a0a0" stroke-width="0.5"/>
<circle cx="529.36" cy="497.70" r="1" fill="#fff" stroke="#a0a0a0" stroke-width="0.5"/>
<circle cx="527.52" cy="493.62" r="1" fill="#fff" stroke="#a0a0a0" stroke-width="0.5"/>
<circle cx="527.80" cy="496.14" r="1" fill="#fff" stroke="#a0a0a0" stroke-width="0.5"/>
<circle cx="532.46" cy="506.37" r="1" fill="#fff" stroke="#a0a0a0" stroke-width="0.5"/>
<circle cx="541.42" cy="505.86" r="1" fill="#fff" stroke="#a0a0a0" stroke-width="0.5"/>
<circle cx="527.56" cy="492.40" r="1" fill="#fff" stroke="#a0a0a0" stroke-width="0.5"/>
<circle cx="535.51" cy="508.39" r="1" fill="#fff" stroke="#a0a0a0" stroke-width="0.5"/>
<circle cx="543.99" cy="489.20" r="1" fill="#fff" stroke="#a0a0a0" stroke-width="0.5"/>
<circle cx="528.48" cy="500.74" r="1" fill="#fff" stroke="#a0a0a0" stroke-width="0.5"/>
<circle cx="528.88" cy="502.55" r="1" fill="#fff" stroke="#a0a0a0" stroke-width="0.5"/>
<circle cx="537.50" cy="507.57" r="1" fill="#fff" stroke="#a0a0a0" stroke-width="0.5"/>
<circle cx="538.84" cy="507.16" r="1" fill="#fff" stroke="#a0a0a0" stroke-width="0.5"/>
<circle cx="529.52" cy="498.92" r="1" fill="#fff" stroke="#a0a0a0" stroke-width="0.5"/>
<circle cx="533.59" cy="507.41" r="1" fill="#fff" stroke="#a0a0a0" stroke-width="0.5"/>
<circle cx="537.05" cy="507.38" r="1" fill="#fff" stroke="#a0a0a0" stroke-width="0.5"/>
<circle cx="533.30" cy="507.88" r="1" fill="#fff" stroke="#a0a0a0" stroke-width="0.5"/>
<circle cx="539.36" cy="502.22" r="1" fill="#fff" stroke="#a0a0a0" stroke-width="0.5"/>
<circle cx="543.80" cy="494.23" r="1" fill="#fff" stroke="#a0a0a0" stroke-width="0.5"/>
<circle cx="532.80" cy="506.83" r="1" fill="#fff" stroke="#a0a0a0" stroke-width="0.5"/>
<circle cx="538.72" cy="504.79" r="1" fill="#fff" stroke="#a0a0a0" stroke-width="0.5"/>
<circle cx="528.50" cy="502.91" r="1" fill="#fff" stroke="#a0a0a0" stroke-width="0.5"/>
<circle cx="532.93" cy="506.59" r="1" fill="#fff" stroke="#a0a0a0" stroke-width="0.5"/>
<circle cx="540.85" cy="502.29" r="1" fill="#fff" stroke="#a0a0a0" stroke-width="0.5"/>
<circle cx="526.98" cy="492.00" r="1" fill="#fff" stroke="#a0a0a0" stroke-width="0.5"/>
<circle cx="534.11" cy="507.73" r="1" fill="#fff" stroke="#a0a0a0" stroke-width="0.5"/>
<circle cx="530.42" cy="503.72" r="1" fill="#fff" stroke="#a0a0a0" stroke-width="0.5"/>
<circle cx="533.37" cy="506.60" r="1" fill="#fff" stroke="#a0a0a0" stroke-width="0.5"/>
<circle cx="528.30" cy="498.95" r="1" fill="#fff" stroke="#a0a0a0" stroke-width="0.5"/>
<circle cx="529.64" cy="500.25" r="1" fill="#fff" stroke="#a0a0a0" stroke-width="0.5"/>
<circle cx="527.13" cy="500.57" r="1" fill="#fff" stroke="#a0a0a0" stroke-width="0.5"/>
<circle cx="532.59" cy="505.83" r="1" fill="#fff" stroke="#a0a0a0" stroke-width="0.5"/>
<circle cx="527.40" cy="498.37" r="1" fill="#fff" stroke="#a0a0a0" stroke-width="0.5"/>
<circle cx="530.18" cy="504.46" r="1" fill="#fff" stroke="#a0a0a0" stroke-width="0.5"/>
<circle cx="534.93" cy="508.19" r="1" fill="#fff" stroke="#a0a0a0" stroke-width="0.5"/>
<circle cx="535.01" cy="508.25" r="1" fill="#fff" stroke="#a0a0a0" stroke-width="0.5"/>
<circle cx="529.45" cy="497.78" r="1" fill="#fff" stroke="#a0a0a0" stroke-width="0.5"/>
<circle cx="532.94" cy="507.36" r="1" fill="#fff" stroke="#a0a0a0" stroke-width="0.5"/>
<circle cx="539.76" cy="501.61" r="1" fill="#fff" stroke="#a0a0a0" stroke-width="0.5"/>
<circle cx="526.60" cy="499.93" r="1" fill="#fff" stroke="#a0a0a0" stroke-width="0.5"/>
<circle cx="540.15" cy="504.47" r="1" fill="#fff" stroke="#a0a0a0" stroke-width="0.5"/>
<circle cx="530.77" cy="506.80" r="1" fill="#fff" stroke="#a0a0a0" stroke-width="0.5"/>
<circle cx="527.19" cy="495.61" r="1" fill="#fff" stroke="#a0a0a0" stroke-width="0.5"/>
<circle cx="543.93" cy="488.58" r="1" fill="#fff" stroke="#a0a0a0" stroke-width="0.5"/>
<circle cx="535.41" cy="508.40" r="1" fill="#fff" stroke="#a0a0a0" stroke-width="0.5"/>
<circle cx="532.20" cy="504.74" r="1" fill="#fff" stroke="#a0a0a0" stroke-width="0.5"/>
<circle cx="541.24" cy="500.37" r="1" fill="#fff" stroke="#a0a0a0" stroke-width="0.5"/>
<circle cx="530.55" cy="503.24" r="1" fill="#fff" stroke="#a0a0a0" stroke-width="0.5"/>
<circle cx="534.95" cy="508.26" r="1" fill="#fff" stroke="#a0a0a0" stroke-width="0.5"/>
<circle cx="531.14" cy="501.87" r="1" fill="#fff" stroke="#a0a0a0" stroke-width="0.5"/>
<circle cx="542.34" cy="503.59" r="1" fill="#fff" stroke="#a0a0a0" stroke-width="0.5"/>
<circle cx="531.65" cy="503.35" r="1" fill="#fff" stroke="#a0a0a0" stroke-width="0.5"/>
<circle cx="531.42" cy="502.52" r="1" fill="#fff" stroke="#a0a0a0" stroke-width="0.5"/>
<circle cx="535.62" cy="508.32" r="1" fill="#fff" stroke="#a0a0a0" stroke-width="0.5"/>
<circle cx="538.98" cy="506.37" r="1" fill="#fff" stroke="#a0a0a0" stroke-width="0.5"/>
<circle cx="531.54" cy="506.03" r="1" fill="#fff" stroke="#a0a0a0" stroke-width="0.5"/>
<circle cx="538.60" cy="504.90" r="1" fill="#fff" stroke="#a0a0a0" stroke-width="0.5"/>
<circle cx="528.82" cy="496.42" r="1" fill="#fff" stroke="#a0a0a0" stroke-width="0.5"/>
<circle cx="533.94" cy="507.88" r="1" fill="#fff" stroke="#a0a0a0" stroke-width="0.5"/>
<circle cx="534.20" cy="507.44" r="1" fill="#fff" stroke="#a0a0a0" stroke-width="0.5"/>
<circle cx="536.41" cy="507.79" r="1" fill="#fff" stroke="#a0a0a0" stroke-width="0.5"/>
<circle cx="542.80" cy="492.84" r="1" fill="#fff" stroke="#a0a0a0" stroke-width="0.5"/>
<circle cx="539.97" cy="504.21" r="1" fill="#fff" stroke="#a0a0a0" stroke-width="0.5"/>
<circle cx="536.92" cy="506.97" r="1" fill="#fff" stroke="#a0a0a0" stroke-width="0.5"/>
<circle cx="474.23" cy="443.76" r="0.85" fill="#6aaee0"/>
<circle cx="502.26" cy="440.47" r="0.85" fill="#6aaee0"/>
<circle cx="505.98" cy="442.01" r="0.85" fill="#6aaee0"/>
<circle cx="508.17" cy="447.48" r="0.85" fill="#6aaee0"/>
<circle cx="512.55" cy="448.14" r="0.85" fill="#6aaee0"/>
<circle cx="515.84" cy="449.23" r="0.85" fill="#6aaee0"/>
<circle cx="521.31" cy="449.89" r="0.85" fill="#6aaee0"/>
<circle cx="490.00" cy="451.42" r="0.85" fill="#6aaee0"/>
<circle cx="515.40" cy="455.14" r="0.85" fill="#6aaee0"/>
<circle cx="522.40" cy="462.37" r="0.85" fill="#6aaee0"/>
<circle cx="510.36" cy="464.12" r="0.85" fill="#6aaee0"/>
<circle cx="508.61" cy="466.09" r="0.85" fill="#6aaee0"/>
<circle cx="523.94" cy="468.94" r="0.85" fill="#6aaee0"/>
<circle cx="526.35" cy="472.22" r="0.85" fill="#6aaee0"/>
<circle cx="517.37" cy="473.32" r="0.85" fill="#6aaee0"/>
<circle cx="490.22" cy="475.95" r="0.85" fill="#6aaee0"/>
<circle cx="523.06" cy="476.16" r="0.85" fill="#6aaee0"/>
<circle cx="520.21" cy="476.60" r="0.85" fill="#6aaee0"/>
<circle cx="516.93" cy="482.08" r="0.85" fill="#6aaee0"/>
<circle cx="521.97" cy="480.98" r="0.85" fill="#6aaee0"/>
<circle cx="523.50" cy="483.17" r="0.85" fill="#6aaee0"/>
<circle cx="512.11" cy="486.89" r="0.85" fill="#6aaee0"/>
<circle cx="521.97" cy="486.89" r="0.85" fill="#6aaee0"/>
<circle cx="525.25" cy="485.36" r="0.85" fill="#6aaee0"/>
<circle cx="525.69" cy="490.84" r="0.85" fill="#6aaee0"/>
<circle cx="521.31" cy="491.27" r="0.85" fill="#6aaee0"/>
<circle cx="523.94" cy="492.37" r="0.85" fill="#6aaee0"/>
<circle cx="516.93" cy="493.02" r="0.85" fill="#6aaee0"/>
<circle cx="500.51" cy="496.31" r="0.85" fill="#6aaee0"/>
<circle cx="525.03" cy="497.40" r="0.85" fill="#6aaee0"/>
<circle cx="525.69" cy="498.06" r="0.85" fill="#6aaee0"/>
<circle cx="518.02" cy="498.06" r="0.85" fill="#6aaee0"/>
<circle cx="514.74" cy="504.63" r="0.85" fill="#6aaee0"/>
<circle cx="519.12" cy="505.07" r="0.85" fill="#6aaee0"/>
<circle cx="523.06" cy="505.51" r="0.85" fill="#6aaee0"/>
<circle cx="525.69" cy="506.82" r="0.85" fill="#6aaee0"/>
<circle cx="554.81" cy="448.14" r="0.85" fill="#d9706b"/>
<circle cx="545.40" cy="464.12" r="0.85" fill="#d9706b"/>
<circle cx="547.15" cy="463.47" r="0.85" fill="#d9706b"/>
<circle cx="546.49" cy="471.13" r="0.85" fill="#d9706b"/>
<circle cx="548.68" cy="477.04" r="0.85" fill="#d9706b"/>
<circle cx="569.48" cy="470.69" r="0.85" fill="#d9706b"/>
<circle cx="572.11" cy="481.64" r="0.85" fill="#d9706b"/>
<circle cx="545.83" cy="481.64" r="0.85" fill="#d9706b"/>
<circle cx="573.42" cy="486.89" r="0.85" fill="#d9706b"/>
<circle cx="546.05" cy="486.89" r="0.85" fill="#d9706b"/>
<circle cx="551.96" cy="486.89" r="0.85" fill="#d9706b"/>
<circle cx="544.30" cy="493.02" r="0.85" fill="#d9706b"/>
<circle cx="545.83" cy="493.02" r="0.85" fill="#d9706b"/>
<circle cx="559.63" cy="497.84" r="0.85" fill="#d9706b"/>
<circle cx="562.91" cy="502.88" r="0.85" fill="#d9706b"/>
<circle cx="564.01" cy="502.88" r="0.85" fill="#d9706b"/>
<circle cx="558.10" cy="504.63" r="0.85" fill="#d9706b"/>
<circle cx="554.15" cy="502.88" r="0.85" fill="#d9706b"/>
<circle cx="550.87" cy="505.51" r="0.85" fill="#d9706b"/>
<circle cx="546.05" cy="505.51" r="0.85" fill="#d9706b"/>
<circle cx="544.30" cy="506.82" r="0.85" fill="#d9706b"/>
<circle cx="547.58" cy="506.16" r="0.85" fill="#d9706b"/>
<circle cx="544.96" cy="500.69" r="0.85" fill="#d9706b"/>
<circle cx="544.52" cy="497.40" r="0.85" fill="#d9706b"/>
<line x1="526.48" y1="438.9" x2="526.48" y2="508.4" stroke="#a8a8a8" stroke-width="0.5"/>
<line x1="544.22" y1="438.9" x2="544.22" y2="508.4" stroke="#a8a8a8" stroke-width="0.5"/>
<line x1="464.4" y1="506.60" x2="606.3" y2="506.60" stroke="#aaa" stroke-width="0.5"/>
<rect x="464.4" y="438.9" width="141.90" height="69.50" fill="none" stroke="#9a9a9a" stroke-width="0.7"/>
<path d="M464.4,438.9 L464.4,508.4 L606.3,508.4" fill="none" stroke="#333" stroke-width="0.9"/>
<line x1="462.9" y1="508.40" x2="464.4" y2="508.40" stroke="#333" stroke-width="0.5"/>
<text x="461.80" y="510.60" font-size="6.2" fill="#222" text-anchor="end" font-weight="normal" font-style="normal" >0</text>
<line x1="462.9" y1="491.02" x2="464.4" y2="491.02" stroke="#333" stroke-width="0.5"/>
<text x="461.80" y="493.22" font-size="6.2" fill="#222" text-anchor="end" font-weight="normal" font-style="normal" >10</text>
<line x1="462.9" y1="473.65" x2="464.4" y2="473.65" stroke="#333" stroke-width="0.5"/>
<text x="461.80" y="475.85" font-size="6.2" fill="#222" text-anchor="end" font-weight="normal" font-style="normal" >20</text>
<line x1="462.9" y1="456.27" x2="464.4" y2="456.27" stroke="#333" stroke-width="0.5"/>
<text x="461.80" y="458.47" font-size="6.2" fill="#222" text-anchor="end" font-weight="normal" font-style="normal" >30</text>
<line x1="462.9" y1="438.90" x2="464.4" y2="438.90" stroke="#333" stroke-width="0.5"/>
<text x="461.80" y="441.10" font-size="6.2" fill="#222" text-anchor="end" font-weight="normal" font-style="normal" >40</text>
<text x="464.40" y="515.80" font-size="6.2" fill="#222" text-anchor="middle" font-weight="normal" font-style="normal" >-8</text>
<text x="535.35" y="515.80" font-size="6.2" fill="#222" text-anchor="middle" font-weight="normal" font-style="normal" >0</text>
<text x="606.30" y="515.80" font-size="6.2" fill="#222" text-anchor="middle" font-weight="normal" font-style="normal" >8</text>
<text x="535.95" y="437.20" font-size="8.6" fill="#d8a559" text-anchor="middle" font-weight="bold" font-style="normal" >HLH2</text>
<text x="498.60" y="516.20" font-size="8" fill="#5b9bd0" text-anchor="middle" font-weight="normal" font-style="normal" >16.1 %</text>
<text x="573.00" y="516.20" font-size="8" fill="#c75d5d" text-anchor="middle" font-weight="normal" font-style="normal" >10.9 %</text>
<rect x="308.5" y="528.3" width="141.20" height="69.70" fill="#fff"/>
<circle cx="374.85" cy="594.51" r="1" fill="#fff" stroke="#a0a0a0" stroke-width="0.5"/>
<circle cx="382.35" cy="595.26" r="1" fill="#fff" stroke="#a0a0a0" stroke-width="0.5"/>
<circle cx="373.55" cy="595.33" r="1" fill="#fff" stroke="#a0a0a0" stroke-width="0.5"/>
<circle cx="372.87" cy="594.86" r="1" fill="#fff" stroke="#a0a0a0" stroke-width="0.5"/>
<circle cx="383.23" cy="596.64" r="1" fill="#fff" stroke="#a0a0a0" stroke-width="0.5"/>
<circle cx="379.65" cy="597.92" r="1" fill="#fff" stroke="#a0a0a0" stroke-width="0.5"/>
<circle cx="375.48" cy="596.00" r="1" fill="#fff" stroke="#a0a0a0" stroke-width="0.5"/>
<circle cx="385.06" cy="592.69" r="1" fill="#fff" stroke="#a0a0a0" stroke-width="0.5"/>
<circle cx="370.53" cy="592.39" r="1" fill="#fff" stroke="#a0a0a0" stroke-width="0.5"/>
<circle cx="372.86" cy="590.57" r="1" fill="#fff" stroke="#a0a0a0" stroke-width="0.5"/>
<circle cx="384.57" cy="592.26" r="1" fill="#fff" stroke="#a0a0a0" stroke-width="0.5"/>
<circle cx="384.86" cy="592.15" r="1" fill="#fff" stroke="#a0a0a0" stroke-width="0.5"/>
<circle cx="387.03" cy="588.08" r="1" fill="#fff" stroke="#a0a0a0" stroke-width="0.5"/>
<circle cx="374.81" cy="593.84" r="1" fill="#fff" stroke="#a0a0a0" stroke-width="0.5"/>
<circle cx="378.87" cy="597.95" r="1" fill="#fff" stroke="#a0a0a0" stroke-width="0.5"/>
<circle cx="380.23" cy="597.65" r="1" fill="#fff" stroke="#a0a0a0" stroke-width="0.5"/>
<circle cx="376.70" cy="596.93" r="1" fill="#fff" stroke="#a0a0a0" stroke-width="0.5"/>
<circle cx="375.81" cy="597.07" r="1" fill="#fff" stroke="#a0a0a0" stroke-width="0.5"/>
<circle cx="384.74" cy="592.02" r="1" fill="#fff" stroke="#a0a0a0" stroke-width="0.5"/>
<circle cx="387.67" cy="587.95" r="1" fill="#fff" stroke="#a0a0a0" stroke-width="0.5"/>
<circle cx="380.06" cy="597.60" r="1" fill="#fff" stroke="#a0a0a0" stroke-width="0.5"/>
<circle cx="372.66" cy="591.55" r="1" fill="#fff" stroke="#a0a0a0" stroke-width="0.5"/>
<circle cx="378.10" cy="597.82" r="1" fill="#fff" stroke="#a0a0a0" stroke-width="0.5"/>
<circle cx="373.85" cy="594.05" r="1" fill="#fff" stroke="#a0a0a0" stroke-width="0.5"/>
<circle cx="374.75" cy="595.26" r="1" fill="#fff" stroke="#a0a0a0" stroke-width="0.5"/>
<circle cx="380.96" cy="597.30" r="1" fill="#fff" stroke="#a0a0a0" stroke-width="0.5"/>
<circle cx="372.58" cy="592.76" r="1" fill="#fff" stroke="#a0a0a0" stroke-width="0.5"/>
<circle cx="374.43" cy="595.92" r="1" fill="#fff" stroke="#a0a0a0" stroke-width="0.5"/>
<circle cx="373.71" cy="594.72" r="1" fill="#fff" stroke="#a0a0a0" stroke-width="0.5"/>
<circle cx="371.57" cy="590.08" r="1" fill="#fff" stroke="#a0a0a0" stroke-width="0.5"/>
<circle cx="387.11" cy="591.83" r="1" fill="#fff" stroke="#a0a0a0" stroke-width="0.5"/>
<circle cx="382.96" cy="594.18" r="1" fill="#fff" stroke="#a0a0a0" stroke-width="0.5"/>
<circle cx="371.04" cy="594.19" r="1" fill="#fff" stroke="#a0a0a0" stroke-width="0.5"/>
<circle cx="384.50" cy="592.19" r="1" fill="#fff" stroke="#a0a0a0" stroke-width="0.5"/>
<circle cx="381.55" cy="597.33" r="1" fill="#fff" stroke="#a0a0a0" stroke-width="0.5"/>
<circle cx="377.57" cy="597.10" r="1" fill="#fff" stroke="#a0a0a0" stroke-width="0.5"/>
<circle cx="385.92" cy="590.03" r="1" fill="#fff" stroke="#a0a0a0" stroke-width="0.5"/>
<circle cx="373.86" cy="592.37" r="1" fill="#fff" stroke="#a0a0a0" stroke-width="0.5"/>
<circle cx="376.89" cy="596.65" r="1" fill="#fff" stroke="#a0a0a0" stroke-width="0.5"/>
<circle cx="372.69" cy="589.58" r="1" fill="#fff" stroke="#a0a0a0" stroke-width="0.5"/>
<circle cx="380.93" cy="596.98" r="1" fill="#fff" stroke="#a0a0a0" stroke-width="0.5"/>
<circle cx="374.01" cy="593.77" r="1" fill="#fff" stroke="#a0a0a0" stroke-width="0.5"/>
<circle cx="380.53" cy="597.39" r="1" fill="#fff" stroke="#a0a0a0" stroke-width="0.5"/>
<circle cx="376.62" cy="596.37" r="1" fill="#fff" stroke="#a0a0a0" stroke-width="0.5"/>
<circle cx="376.30" cy="596.91" r="1" fill="#fff" stroke="#a0a0a0" stroke-width="0.5"/>
<circle cx="373.18" cy="592.27" r="1" fill="#fff" stroke="#a0a0a0" stroke-width="0.5"/>
<circle cx="372.26" cy="594.38" r="1" fill="#fff" stroke="#a0a0a0" stroke-width="0.5"/>
<circle cx="371.50" cy="590.03" r="1" fill="#fff" stroke="#a0a0a0" stroke-width="0.5"/>
<circle cx="380.09" cy="597.67" r="1" fill="#fff" stroke="#a0a0a0" stroke-width="0.5"/>
<circle cx="370.96" cy="591.19" r="1" fill="#fff" stroke="#a0a0a0" stroke-width="0.5"/>
<circle cx="376.33" cy="597.33" r="1" fill="#fff" stroke="#a0a0a0" stroke-width="0.5"/>
<circle cx="370.33" cy="584.21" r="1" fill="#fff" stroke="#a0a0a0" stroke-width="0.5"/>
<circle cx="372.42" cy="593.95" r="1" fill="#fff" stroke="#a0a0a0" stroke-width="0.5"/>
<circle cx="375.02" cy="595.03" r="1" fill="#fff" stroke="#a0a0a0" stroke-width="0.5"/>
<circle cx="371.64" cy="591.76" r="1" fill="#fff" stroke="#a0a0a0" stroke-width="0.5"/>
<circle cx="376.75" cy="596.34" r="1" fill="#fff" stroke="#a0a0a0" stroke-width="0.5"/>
<circle cx="370.38" cy="591.59" r="1" fill="#fff" stroke="#a0a0a0" stroke-width="0.5"/>
<circle cx="379.04" cy="597.99" r="1" fill="#fff" stroke="#a0a0a0" stroke-width="0.5"/>
<circle cx="379.39" cy="597.95" r="1" fill="#fff" stroke="#a0a0a0" stroke-width="0.5"/>
<circle cx="382.09" cy="596.80" r="1" fill="#fff" stroke="#a0a0a0" stroke-width="0.5"/>
<circle cx="370.84" cy="590.41" r="1" fill="#fff" stroke="#a0a0a0" stroke-width="0.5"/>
<circle cx="386.34" cy="589.80" r="1" fill="#fff" stroke="#a0a0a0" stroke-width="0.5"/>
<circle cx="374.83" cy="594.50" r="1" fill="#fff" stroke="#a0a0a0" stroke-width="0.5"/>
<circle cx="385.26" cy="594.69" r="1" fill="#fff" stroke="#a0a0a0" stroke-width="0.5"/>
<circle cx="380.65" cy="597.50" r="1" fill="#fff" stroke="#a0a0a0" stroke-width="0.5"/>
<circle cx="374.59" cy="595.81" r="1" fill="#fff" stroke="#a0a0a0" stroke-width="0.5"/>
<circle cx="373.87" cy="594.95" r="1" fill="#fff" stroke="#a0a0a0" stroke-width="0.5"/>
<circle cx="370.95" cy="591.59" r="1" fill="#fff" stroke="#a0a0a0" stroke-width="0.5"/>
<circle cx="371.81" cy="589.55" r="1" fill="#fff" stroke="#a0a0a0" stroke-width="0.5"/>
<circle cx="380.86" cy="597.75" r="1" fill="#fff" stroke="#a0a0a0" stroke-width="0.5"/>
<circle cx="327.09" cy="533.76" r="0.85" fill="#6aaee0"/>
<circle cx="338.69" cy="539.67" r="0.85" fill="#6aaee0"/>
<circle cx="319.86" cy="544.71" r="0.85" fill="#6aaee0"/>
<circle cx="353.80" cy="547.99" r="0.85" fill="#6aaee0"/>
<circle cx="316.58" cy="554.56" r="0.85" fill="#6aaee0"/>
<circle cx="350.51" cy="558.28" r="0.85" fill="#6aaee0"/>
<circle cx="336.50" cy="565.95" r="0.85" fill="#6aaee0"/>
<circle cx="361.68" cy="571.64" r="0.85" fill="#6aaee0"/>
<circle cx="368.03" cy="579.74" r="0.85" fill="#6aaee0"/>
<circle cx="368.69" cy="582.37" r="0.85" fill="#6aaee0"/>
<circle cx="350.08" cy="584.12" r="0.85" fill="#6aaee0"/>
<circle cx="355.99" cy="583.46" r="0.85" fill="#6aaee0"/>
<circle cx="366.06" cy="583.02" r="0.85" fill="#6aaee0"/>
<circle cx="369.78" cy="585.21" r="0.85" fill="#6aaee0"/>
<circle cx="369.78" cy="588.50" r="0.85" fill="#6aaee0"/>
<circle cx="354.46" cy="590.69" r="0.85" fill="#6aaee0"/>
<circle cx="363.21" cy="590.69" r="0.85" fill="#6aaee0"/>
<circle cx="368.25" cy="591.78" r="0.85" fill="#6aaee0"/>
<circle cx="359.49" cy="595.51" r="0.85" fill="#6aaee0"/>
<circle cx="363.21" cy="596.16" r="0.85" fill="#6aaee0"/>
<circle cx="400.00" cy="549.09" r="0.85" fill="#d9706b"/>
<circle cx="400.00" cy="553.47" r="0.85" fill="#d9706b"/>
<circle cx="394.31" cy="559.38" r="0.85" fill="#d9706b"/>
<circle cx="413.14" cy="561.57" r="0.85" fill="#d9706b"/>
<circle cx="401.97" cy="569.89" r="0.85" fill="#d9706b"/>
<circle cx="399.78" cy="572.08" r="0.85" fill="#d9706b"/>
<circle cx="391.68" cy="571.42" r="0.85" fill="#d9706b"/>
<circle cx="388.83" cy="578.65" r="0.85" fill="#d9706b"/>
<circle cx="391.24" cy="580.84" r="0.85" fill="#d9706b"/>
<circle cx="389.49" cy="586.31" r="0.85" fill="#d9706b"/>
<circle cx="388.40" cy="591.78" r="0.85" fill="#d9706b"/>
<circle cx="392.34" cy="595.51" r="0.85" fill="#d9706b"/>
<circle cx="396.72" cy="596.16" r="0.85" fill="#d9706b"/>
<circle cx="390.15" cy="596.82" r="0.85" fill="#d9706b"/>
<line x1="370.28" y1="528.3" x2="370.28" y2="598.0" stroke="#a8a8a8" stroke-width="0.5"/>
<line x1="387.93" y1="528.3" x2="387.93" y2="598.0" stroke="#a8a8a8" stroke-width="0.5"/>
<line x1="308.5" y1="596.20" x2="449.7" y2="596.20" stroke="#aaa" stroke-width="0.5"/>
<rect x="308.5" y="528.3" width="141.20" height="69.70" fill="none" stroke="#9a9a9a" stroke-width="0.7"/>
<path d="M308.5,528.3 L308.5,598.0 L449.7,598.0" fill="none" stroke="#333" stroke-width="0.9"/>
<line x1="307.0" y1="598.00" x2="308.5" y2="598.00" stroke="#333" stroke-width="0.5"/>
<text x="305.90" y="600.20" font-size="6.2" fill="#222" text-anchor="end" font-weight="normal" font-style="normal" >0</text>
<line x1="307.0" y1="574.77" x2="308.5" y2="574.77" stroke="#333" stroke-width="0.5"/>
<text x="305.90" y="576.97" font-size="6.2" fill="#222" text-anchor="end" font-weight="normal" font-style="normal" >20</text>
<line x1="307.0" y1="551.53" x2="308.5" y2="551.53" stroke="#333" stroke-width="0.5"/>
<text x="305.90" y="553.73" font-size="6.2" fill="#222" text-anchor="end" font-weight="normal" font-style="normal" >40</text>
<line x1="307.0" y1="528.30" x2="308.5" y2="528.30" stroke="#333" stroke-width="0.5"/>
<text x="305.90" y="530.50" font-size="6.2" fill="#222" text-anchor="end" font-weight="normal" font-style="normal" >60</text>
<text x="308.50" y="605.40" font-size="6.2" fill="#222" text-anchor="middle" font-weight="normal" font-style="normal" >-8</text>
<text x="379.10" y="605.40" font-size="6.2" fill="#222" text-anchor="middle" font-weight="normal" font-style="normal" >0</text>
<text x="449.70" y="605.40" font-size="6.2" fill="#222" text-anchor="middle" font-weight="normal" font-style="normal" >8</text>
<text x="378.50" y="526.60" font-size="8.6" fill="#8c87d9" text-anchor="middle" font-weight="bold" font-style="normal" >GATA Znf3</text>
<text x="342.30" y="605.80" font-size="8" fill="#5b9bd0" text-anchor="middle" font-weight="normal" font-style="normal" >20.3 %</text>
<text x="416.90" y="605.80" font-size="8" fill="#c75d5d" text-anchor="middle" font-weight="normal" font-style="normal" >12.7 %</text>
<rect x="466.4" y="528.3" width="141.90" height="69.70" fill="#fff"/>
<circle cx="530.38" cy="589.20" r="0.75" fill="#bdbdbd"/>
<circle cx="540.05" cy="595.21" r="0.75" fill="#bdbdbd"/>
<circle cx="533.29" cy="595.41" r="0.75" fill="#bdbdbd"/>
<circle cx="541.50" cy="593.90" r="0.75" fill="#bdbdbd"/>
<circle cx="533.86" cy="594.71" r="0.75" fill="#bdbdbd"/>
<circle cx="535.52" cy="596.56" r="0.75" fill="#bdbdbd"/>
<circle cx="530.58" cy="592.92" r="0.75" fill="#bdbdbd"/>
<circle cx="544.47" cy="591.53" r="0.75" fill="#bdbdbd"/>
<circle cx="533.10" cy="593.23" r="0.75" fill="#bdbdbd"/>
<circle cx="539.69" cy="596.97" r="0.75" fill="#bdbdbd"/>
<circle cx="538.26" cy="597.51" r="0.75" fill="#bdbdbd"/>
<circle cx="531.41" cy="591.26" r="0.75" fill="#bdbdbd"/>
<circle cx="530.66" cy="592.22" r="0.75" fill="#bdbdbd"/>
<circle cx="529.96" cy="592.41" r="0.75" fill="#bdbdbd"/>
<circle cx="545.83" cy="589.31" r="0.75" fill="#bdbdbd"/>
<circle cx="546.05" cy="588.64" r="0.75" fill="#bdbdbd"/>
<circle cx="539.26" cy="596.36" r="0.75" fill="#bdbdbd"/>
<circle cx="540.66" cy="596.42" r="0.75" fill="#bdbdbd"/>
<circle cx="538.93" cy="596.96" r="0.75" fill="#bdbdbd"/>
<circle cx="531.70" cy="594.76" r="0.75" fill="#bdbdbd"/>
<circle cx="544.00" cy="591.06" r="0.75" fill="#bdbdbd"/>
<circle cx="531.92" cy="593.09" r="0.75" fill="#bdbdbd"/>
<circle cx="532.35" cy="592.04" r="0.75" fill="#bdbdbd"/>
<circle cx="537.36" cy="598.00" r="0.75" fill="#bdbdbd"/>
<circle cx="542.99" cy="594.79" r="0.75" fill="#bdbdbd"/>
<circle cx="533.46" cy="596.29" r="0.75" fill="#bdbdbd"/>
<circle cx="541.61" cy="595.74" r="0.75" fill="#bdbdbd"/>
<circle cx="537.81" cy="597.90" r="0.75" fill="#bdbdbd"/>
<circle cx="537.00" cy="597.87" r="0.75" fill="#bdbdbd"/>
<circle cx="537.97" cy="597.76" r="0.75" fill="#bdbdbd"/>
<circle cx="537.08" cy="597.93" r="0.75" fill="#bdbdbd"/>
<circle cx="539.04" cy="597.40" r="0.75" fill="#bdbdbd"/>
<circle cx="536.90" cy="597.88" r="0.75" fill="#bdbdbd"/>
<circle cx="543.83" cy="588.49" r="0.75" fill="#bdbdbd"/>
<circle cx="529.66" cy="592.60" r="0.75" fill="#bdbdbd"/>
<circle cx="540.96" cy="594.88" r="0.75" fill="#bdbdbd"/>
<circle cx="528.82" cy="586.31" r="0.75" fill="#bdbdbd"/>
<circle cx="545.22" cy="589.99" r="0.75" fill="#bdbdbd"/>
<circle cx="534.64" cy="595.92" r="0.75" fill="#bdbdbd"/>
<circle cx="545.14" cy="591.48" r="0.75" fill="#bdbdbd"/>
<circle cx="533.84" cy="596.07" r="0.75" fill="#bdbdbd"/>
<circle cx="539.63" cy="596.52" r="0.75" fill="#bdbdbd"/>
<circle cx="533.02" cy="594.67" r="0.75" fill="#bdbdbd"/>
<circle cx="529.10" cy="590.47" r="0.75" fill="#bdbdbd"/>
<circle cx="545.92" cy="587.40" r="0.75" fill="#bdbdbd"/>
<circle cx="533.49" cy="593.41" r="0.75" fill="#bdbdbd"/>
<circle cx="534.84" cy="596.68" r="0.75" fill="#bdbdbd"/>
<circle cx="529.10" cy="592.02" r="0.75" fill="#bdbdbd"/>
<circle cx="532.01" cy="594.33" r="0.75" fill="#bdbdbd"/>
<circle cx="543.97" cy="592.80" r="0.75" fill="#bdbdbd"/>
<circle cx="532.89" cy="593.68" r="0.75" fill="#bdbdbd"/>
<circle cx="544.75" cy="591.71" r="0.75" fill="#bdbdbd"/>
<circle cx="541.99" cy="594.41" r="0.75" fill="#bdbdbd"/>
<circle cx="538.43" cy="597.41" r="0.75" fill="#bdbdbd"/>
<circle cx="545.20" cy="587.15" r="0.75" fill="#bdbdbd"/>
<circle cx="537.49" cy="597.96" r="0.75" fill="#bdbdbd"/>
<circle cx="534.98" cy="596.57" r="0.75" fill="#bdbdbd"/>
<circle cx="545.51" cy="588.46" r="0.75" fill="#bdbdbd"/>
<circle cx="542.20" cy="594.42" r="0.75" fill="#bdbdbd"/>
<circle cx="544.72" cy="589.21" r="0.75" fill="#bdbdbd"/>
<circle cx="532.87" cy="592.35" r="0.75" fill="#bdbdbd"/>
<circle cx="536.80" cy="597.82" r="0.75" fill="#bdbdbd"/>
<circle cx="533.14" cy="595.82" r="0.75" fill="#bdbdbd"/>
<circle cx="532.04" cy="592.04" r="0.75" fill="#bdbdbd"/>
<circle cx="530.98" cy="593.10" r="0.75" fill="#bdbdbd"/>
<circle cx="536.42" cy="597.54" r="0.75" fill="#bdbdbd"/>
<circle cx="535.23" cy="596.22" r="0.75" fill="#bdbdbd"/>
<circle cx="533.04" cy="594.76" r="0.75" fill="#bdbdbd"/>
<circle cx="536.02" cy="597.55" r="0.75" fill="#bdbdbd"/>
<circle cx="532.42" cy="595.09" r="0.75" fill="#bdbdbd"/>
<circle cx="541.35" cy="595.83" r="0.75" fill="#bdbdbd"/>
<circle cx="540.33" cy="596.39" r="0.75" fill="#bdbdbd"/>
<circle cx="539.96" cy="595.87" r="0.75" fill="#bdbdbd"/>
<circle cx="534.75" cy="595.37" r="0.75" fill="#bdbdbd"/>
<circle cx="540.13" cy="595.86" r="0.75" fill="#bdbdbd"/>
<circle cx="529.30" cy="589.89" r="0.75" fill="#bdbdbd"/>
<circle cx="533.20" cy="594.57" r="0.75" fill="#bdbdbd"/>
<circle cx="545.04" cy="586.56" r="0.75" fill="#bdbdbd"/>
<circle cx="529.58" cy="587.95" r="0.75" fill="#bdbdbd"/>
<circle cx="545.05" cy="589.23" r="0.75" fill="#bdbdbd"/>
<circle cx="530.20" cy="587.64" r="0.75" fill="#bdbdbd"/>
<circle cx="536.04" cy="596.96" r="0.75" fill="#bdbdbd"/>
<circle cx="543.99" cy="588.92" r="0.75" fill="#bdbdbd"/>
<circle cx="545.00" cy="593.27" r="0.75" fill="#bdbdbd"/>
<circle cx="542.56" cy="594.08" r="0.75" fill="#bdbdbd"/>
<circle cx="530.88" cy="592.21" r="0.75" fill="#bdbdbd"/>
<circle cx="538.93" cy="597.54" r="0.75" fill="#bdbdbd"/>
<circle cx="536.46" cy="597.47" r="0.75" fill="#bdbdbd"/>
<circle cx="537.27" cy="597.98" r="0.75" fill="#bdbdbd"/>
<circle cx="533.74" cy="593.71" r="0.75" fill="#bdbdbd"/>
<circle cx="532.88" cy="593.37" r="0.75" fill="#bdbdbd"/>
<circle cx="539.94" cy="597.09" r="0.75" fill="#bdbdbd"/>
<circle cx="546.16" cy="590.54" r="0.75" fill="#bdbdbd"/>
<circle cx="546.02" cy="583.82" r="0.75" fill="#bdbdbd"/>
<circle cx="544.46" cy="587.81" r="0.75" fill="#bdbdbd"/>
<circle cx="535.54" cy="596.95" r="0.75" fill="#bdbdbd"/>
<circle cx="534.61" cy="595.16" r="0.75" fill="#bdbdbd"/>
<circle cx="529.00" cy="592.00" r="0.75" fill="#bdbdbd"/>
<circle cx="545.45" cy="586.22" r="0.75" fill="#bdbdbd"/>
<circle cx="541.00" cy="593.65" r="0.75" fill="#bdbdbd"/>
<circle cx="537.77" cy="597.81" r="0.75" fill="#bdbdbd"/>
<circle cx="536.34" cy="597.31" r="0.75" fill="#bdbdbd"/>
<circle cx="529.72" cy="590.21" r="0.75" fill="#bdbdbd"/>
<circle cx="538.72" cy="597.03" r="0.75" fill="#bdbdbd"/>
<circle cx="535.98" cy="597.11" r="0.75" fill="#bdbdbd"/>
<circle cx="545.65" cy="589.42" r="0.75" fill="#bdbdbd"/>
<circle cx="532.02" cy="595.34" r="0.75" fill="#bdbdbd"/>
<circle cx="543.77" cy="591.64" r="0.75" fill="#bdbdbd"/>
<circle cx="535.36" cy="596.71" r="0.75" fill="#bdbdbd"/>
<circle cx="530.62" cy="592.97" r="0.75" fill="#bdbdbd"/>
<circle cx="532.66" cy="594.83" r="0.75" fill="#bdbdbd"/>
<circle cx="543.73" cy="593.18" r="0.75" fill="#bdbdbd"/>
<circle cx="530.09" cy="587.41" r="0.75" fill="#bdbdbd"/>
<circle cx="538.38" cy="597.73" r="0.75" fill="#bdbdbd"/>
<circle cx="540.46" cy="595.20" r="0.75" fill="#bdbdbd"/>
<circle cx="540.00" cy="595.59" r="0.75" fill="#bdbdbd"/>
<circle cx="536.00" cy="597.47" r="0.75" fill="#bdbdbd"/>
<circle cx="541.68" cy="593.77" r="0.75" fill="#bdbdbd"/>
<circle cx="540.96" cy="596.01" r="0.75" fill="#bdbdbd"/>
<circle cx="535.09" cy="596.20" r="0.75" fill="#bdbdbd"/>
<circle cx="535.30" cy="596.55" r="0.75" fill="#bdbdbd"/>
<circle cx="536.87" cy="597.78" r="0.75" fill="#bdbdbd"/>
<circle cx="534.66" cy="596.08" r="0.75" fill="#bdbdbd"/>
<circle cx="543.18" cy="593.39" r="0.75" fill="#bdbdbd"/>
<circle cx="531.60" cy="591.65" r="0.75" fill="#bdbdbd"/>
<circle cx="530.84" cy="588.99" r="0.75" fill="#bdbdbd"/>
<circle cx="533.36" cy="593.30" r="0.75" fill="#bdbdbd"/>
<circle cx="537.95" cy="597.85" r="0.75" fill="#bdbdbd"/>
<circle cx="537.72" cy="597.86" r="0.75" fill="#bdbdbd"/>
<circle cx="537.10" cy="597.92" r="0.75" fill="#bdbdbd"/>
<circle cx="535.03" cy="595.71" r="0.75" fill="#bdbdbd"/>
<circle cx="531.58" cy="590.71" r="0.75" fill="#bdbdbd"/>
<circle cx="528.90" cy="588.36" r="0.75" fill="#bdbdbd"/>
<circle cx="529.66" cy="592.70" r="0.75" fill="#bdbdbd"/>
<circle cx="538.92" cy="596.73" r="0.75" fill="#bdbdbd"/>
<circle cx="533.97" cy="595.60" r="0.75" fill="#bdbdbd"/>
<circle cx="536.92" cy="597.84" r="0.75" fill="#bdbdbd"/>
<circle cx="534.69" cy="596.39" r="0.75" fill="#bdbdbd"/>
<circle cx="543.62" cy="591.34" r="0.75" fill="#bdbdbd"/>
<circle cx="534.73" cy="595.55" r="0.75" fill="#bdbdbd"/>
<circle cx="546.20" cy="588.47" r="0.75" fill="#bdbdbd"/>
<circle cx="528.75" cy="590.10" r="0.75" fill="#bdbdbd"/>
<circle cx="544.41" cy="593.00" r="0.75" fill="#bdbdbd"/>
<circle cx="532.01" cy="591.48" r="0.75" fill="#bdbdbd"/>
<circle cx="530.51" cy="588.39" r="0.75" fill="#bdbdbd"/>
<circle cx="532.49" cy="594.09" r="0.75" fill="#bdbdbd"/>
<circle cx="539.02" cy="597.39" r="0.75" fill="#bdbdbd"/>
<circle cx="542.23" cy="593.84" r="0.75" fill="#bdbdbd"/>
<circle cx="542.14" cy="592.53" r="0.75" fill="#bdbdbd"/>
<circle cx="529.84" cy="587.27" r="0.75" fill="#bdbdbd"/>
<circle cx="543.04" cy="593.92" r="0.75" fill="#bdbdbd"/>
<circle cx="538.97" cy="597.33" r="0.75" fill="#bdbdbd"/>
<circle cx="538.03" cy="597.65" r="0.75" fill="#bdbdbd"/>
<circle cx="535.17" cy="596.51" r="0.75" fill="#bdbdbd"/>
<circle cx="530.81" cy="588.89" r="0.75" fill="#bdbdbd"/>
<circle cx="539.59" cy="596.01" r="0.75" fill="#bdbdbd"/>
<circle cx="529.91" cy="588.03" r="0.75" fill="#bdbdbd"/>
<circle cx="530.09" cy="589.81" r="0.75" fill="#bdbdbd"/>
<circle cx="532.57" cy="591.96" r="0.75" fill="#bdbdbd"/>
<circle cx="530.37" cy="590.86" r="0.75" fill="#bdbdbd"/>
<circle cx="536.83" cy="597.83" r="0.75" fill="#bdbdbd"/>
<circle cx="529.63" cy="588.15" r="0.75" fill="#bdbdbd"/>
<circle cx="545.72" cy="589.86" r="0.75" fill="#bdbdbd"/>
<circle cx="544.42" cy="591.74" r="0.75" fill="#bdbdbd"/>
<circle cx="533.33" cy="594.77" r="0.75" fill="#bdbdbd"/>
<circle cx="545.74" cy="585.88" r="0.75" fill="#bdbdbd"/>
<circle cx="539.70" cy="597.14" r="0.75" fill="#bdbdbd"/>
<circle cx="536.49" cy="597.80" r="0.75" fill="#bdbdbd"/>
<circle cx="529.58" cy="590.54" r="0.75" fill="#bdbdbd"/>
<circle cx="532.81" cy="595.58" r="0.75" fill="#bdbdbd"/>
<circle cx="537.56" cy="597.93" r="0.75" fill="#bdbdbd"/>
<circle cx="544.90" cy="586.42" r="0.75" fill="#bdbdbd"/>
<circle cx="536.04" cy="597.52" r="0.75" fill="#bdbdbd"/>
<circle cx="545.57" cy="589.49" r="0.75" fill="#bdbdbd"/>
<circle cx="534.57" cy="595.32" r="0.75" fill="#bdbdbd"/>
<circle cx="538.38" cy="597.27" r="0.75" fill="#bdbdbd"/>
<circle cx="540.92" cy="593.86" r="0.75" fill="#bdbdbd"/>
<circle cx="531.20" cy="589.14" r="0.75" fill="#bdbdbd"/>
<circle cx="538.09" cy="597.62" r="0.75" fill="#bdbdbd"/>
<circle cx="533.82" cy="595.90" r="0.75" fill="#bdbdbd"/>
<circle cx="533.74" cy="596.05" r="0.75" fill="#bdbdbd"/>
<circle cx="545.52" cy="592.34" r="0.75" fill="#bdbdbd"/>
<circle cx="532.79" cy="593.42" r="0.75" fill="#bdbdbd"/>
<circle cx="532.11" cy="594.50" r="0.75" fill="#bdbdbd"/>
<circle cx="532.97" cy="595.20" r="0.75" fill="#bdbdbd"/>
<circle cx="528.66" cy="585.66" r="0.75" fill="#bdbdbd"/>
<circle cx="540.17" cy="596.33" r="0.75" fill="#bdbdbd"/>
<circle cx="544.43" cy="590.08" r="0.75" fill="#bdbdbd"/>
<circle cx="532.38" cy="591.33" r="0.75" fill="#bdbdbd"/>
<circle cx="532.56" cy="592.33" r="0.75" fill="#bdbdbd"/>
<circle cx="542.96" cy="595.28" r="0.75" fill="#bdbdbd"/>
<circle cx="543.51" cy="592.34" r="0.75" fill="#bdbdbd"/>
<circle cx="537.39" cy="597.99" r="0.75" fill="#bdbdbd"/>
<circle cx="536.49" cy="597.71" r="0.75" fill="#bdbdbd"/>
<circle cx="529.36" cy="585.73" r="0.75" fill="#bdbdbd"/>
<circle cx="536.55" cy="597.57" r="0.75" fill="#bdbdbd"/>
<circle cx="539.85" cy="595.43" r="0.75" fill="#bdbdbd"/>
<circle cx="545.09" cy="585.85" r="0.75" fill="#bdbdbd"/>
<circle cx="537.43" cy="597.98" r="0.75" fill="#bdbdbd"/>
<circle cx="533.92" cy="596.31" r="0.75" fill="#bdbdbd"/>
<circle cx="539.82" cy="597.09" r="0.75" fill="#bdbdbd"/>
<circle cx="545.73" cy="590.20" r="0.75" fill="#bdbdbd"/>
<circle cx="536.00" cy="597.42" r="0.75" fill="#bdbdbd"/>
<circle cx="534.21" cy="595.51" r="0.75" fill="#bdbdbd"/>
<circle cx="542.69" cy="595.41" r="0.75" fill="#bdbdbd"/>
<circle cx="534.57" cy="596.49" r="0.75" fill="#bdbdbd"/>
<circle cx="545.48" cy="589.48" r="0.75" fill="#bdbdbd"/>
<circle cx="536.36" cy="597.32" r="0.75" fill="#bdbdbd"/>
<circle cx="535.35" cy="596.87" r="0.75" fill="#bdbdbd"/>
<circle cx="535.56" cy="597.20" r="0.75" fill="#bdbdbd"/>
<circle cx="540.97" cy="595.70" r="0.75" fill="#bdbdbd"/>
<circle cx="537.52" cy="597.96" r="0.75" fill="#bdbdbd"/>
<circle cx="542.08" cy="592.73" r="0.75" fill="#bdbdbd"/>
<circle cx="537.02" cy="597.85" r="0.75" fill="#bdbdbd"/>
<circle cx="545.26" cy="585.46" r="0.75" fill="#bdbdbd"/>
<circle cx="541.15" cy="595.02" r="0.75" fill="#bdbdbd"/>
<circle cx="534.86" cy="595.65" r="0.75" fill="#bdbdbd"/>
<circle cx="536.88" cy="597.79" r="0.75" fill="#bdbdbd"/>
<circle cx="535.36" cy="596.90" r="0.75" fill="#bdbdbd"/>
<circle cx="528.80" cy="586.03" r="0.75" fill="#bdbdbd"/>
<circle cx="533.62" cy="594.97" r="0.75" fill="#bdbdbd"/>
<circle cx="541.35" cy="593.52" r="0.75" fill="#bdbdbd"/>
<circle cx="545.24" cy="587.88" r="0.75" fill="#bdbdbd"/>
<circle cx="532.61" cy="591.91" r="0.75" fill="#bdbdbd"/>
<circle cx="529.45" cy="590.04" r="0.75" fill="#bdbdbd"/>
<circle cx="544.89" cy="587.02" r="0.75" fill="#bdbdbd"/>
<circle cx="539.03" cy="596.64" r="0.75" fill="#bdbdbd"/>
<circle cx="531.62" cy="595.00" r="0.75" fill="#bdbdbd"/>
<circle cx="533.74" cy="593.84" r="0.75" fill="#bdbdbd"/>
<circle cx="529.19" cy="590.47" r="0.75" fill="#bdbdbd"/>
<circle cx="537.49" cy="597.98" r="0.75" fill="#bdbdbd"/>
<circle cx="543.94" cy="593.90" r="0.75" fill="#bdbdbd"/>
<circle cx="530.00" cy="586.20" r="0.75" fill="#bdbdbd"/>
<circle cx="528.70" cy="590.85" r="0.75" fill="#bdbdbd"/>
<circle cx="535.72" cy="596.69" r="0.75" fill="#bdbdbd"/>
<circle cx="534.43" cy="595.69" r="0.75" fill="#bdbdbd"/>
<circle cx="542.75" cy="592.28" r="0.75" fill="#bdbdbd"/>
<circle cx="543.22" cy="595.03" r="0.75" fill="#bdbdbd"/>
<circle cx="538.09" cy="597.84" r="0.75" fill="#bdbdbd"/>
<circle cx="543.60" cy="594.70" r="0.75" fill="#bdbdbd"/>
<circle cx="530.16" cy="590.90" r="0.75" fill="#bdbdbd"/>
<circle cx="539.49" cy="597.28" r="0.75" fill="#bdbdbd"/>
<circle cx="539.83" cy="596.96" r="0.75" fill="#bdbdbd"/>
<circle cx="534.22" cy="596.71" r="0.75" fill="#bdbdbd"/>
<circle cx="541.38" cy="593.48" r="0.75" fill="#bdbdbd"/>
<circle cx="542.14" cy="594.45" r="0.75" fill="#bdbdbd"/>
<circle cx="532.91" cy="592.32" r="0.75" fill="#bdbdbd"/>
<circle cx="542.97" cy="590.06" r="0.75" fill="#bdbdbd"/>
<circle cx="535.84" cy="596.82" r="0.75" fill="#bdbdbd"/>
<circle cx="540.50" cy="594.91" r="0.75" fill="#bdbdbd"/>
<circle cx="537.57" cy="597.93" r="0.75" fill="#bdbdbd"/>
<circle cx="537.33" cy="598.00" r="0.75" fill="#bdbdbd"/>
<circle cx="536.95" cy="597.93" r="0.75" fill="#bdbdbd"/>
<circle cx="540.43" cy="596.05" r="0.75" fill="#bdbdbd"/>
<circle cx="531.68" cy="590.93" r="0.75" fill="#bdbdbd"/>
<circle cx="537.81" cy="597.87" r="0.75" fill="#bdbdbd"/>
<circle cx="544.85" cy="586.35" r="0.75" fill="#bdbdbd"/>
<circle cx="536.02" cy="597.25" r="0.75" fill="#bdbdbd"/>
<circle cx="528.49" cy="589.23" r="0.75" fill="#bdbdbd"/>
<circle cx="546.00" cy="588.01" r="0.75" fill="#bdbdbd"/>
<circle cx="480.61" cy="530.47" r="0.85" fill="#6aaee0"/>
<circle cx="476.89" cy="535.95" r="0.85" fill="#6aaee0"/>
<circle cx="481.71" cy="533.76" r="0.85" fill="#6aaee0"/>
<circle cx="482.80" cy="536.39" r="0.85" fill="#6aaee0"/>
<circle cx="490.90" cy="530.47" r="0.85" fill="#6aaee0"/>
<circle cx="495.28" cy="538.14" r="0.85" fill="#6aaee0"/>
<circle cx="498.13" cy="540.33" r="0.85" fill="#6aaee0"/>
<circle cx="471.85" cy="547.33" r="0.85" fill="#6aaee0"/>
<circle cx="502.95" cy="545.14" r="0.85" fill="#6aaee0"/>
<circle cx="501.41" cy="550.18" r="0.85" fill="#6aaee0"/>
<circle cx="496.38" cy="550.62" r="0.85" fill="#6aaee0"/>
<circle cx="487.18" cy="554.56" r="0.85" fill="#6aaee0"/>
<circle cx="493.31" cy="556.31" r="0.85" fill="#6aaee0"/>
<circle cx="499.66" cy="555.65" r="0.85" fill="#6aaee0"/>
<circle cx="475.14" cy="558.50" r="0.85" fill="#6aaee0"/>
<circle cx="484.99" cy="558.94" r="0.85" fill="#6aaee0"/>
<circle cx="511.70" cy="554.56" r="0.85" fill="#6aaee0"/>
<circle cx="515.21" cy="557.41" r="0.85" fill="#6aaee0"/>
<circle cx="519.59" cy="560.03" r="0.85" fill="#6aaee0"/>
<circle cx="522.21" cy="561.13" r="0.85" fill="#6aaee0"/>
<circle cx="522.21" cy="562.22" r="0.85" fill="#6aaee0"/>
<circle cx="500.98" cy="562.22" r="0.85" fill="#6aaee0"/>
<circle cx="496.38" cy="563.76" r="0.85" fill="#6aaee0"/>
<circle cx="503.60" cy="565.51" r="0.85" fill="#6aaee0"/>
<circle cx="505.35" cy="566.16" r="0.85" fill="#6aaee0"/>
<circle cx="470.76" cy="571.42" r="0.85" fill="#6aaee0"/>
<circle cx="476.89" cy="572.51" r="0.85" fill="#6aaee0"/>
<circle cx="491.56" cy="568.79" r="0.85" fill="#6aaee0"/>
<circle cx="497.03" cy="569.89" r="0.85" fill="#6aaee0"/>
<circle cx="512.36" cy="567.70" r="0.85" fill="#6aaee0"/>
<circle cx="514.11" cy="569.89" r="0.85" fill="#6aaee0"/>
<circle cx="520.02" cy="569.89" r="0.85" fill="#6aaee0"/>
<circle cx="522.21" cy="570.54" r="0.85" fill="#6aaee0"/>
<circle cx="488.71" cy="575.80" r="0.85" fill="#6aaee0"/>
<circle cx="494.41" cy="575.80" r="0.85" fill="#6aaee0"/>
<circle cx="501.41" cy="574.27" r="0.85" fill="#6aaee0"/>
<circle cx="506.89" cy="575.36" r="0.85" fill="#6aaee0"/>
<circle cx="509.08" cy="577.55" r="0.85" fill="#6aaee0"/>
<circle cx="516.30" cy="574.27" r="0.85" fill="#6aaee0"/>
<circle cx="521.12" cy="574.27" r="0.85" fill="#6aaee0"/>
<circle cx="476.23" cy="581.49" r="0.85" fill="#6aaee0"/>
<circle cx="478.42" cy="581.93" r="0.85" fill="#6aaee0"/>
<circle cx="487.18" cy="580.18" r="0.85" fill="#6aaee0"/>
<circle cx="494.41" cy="580.84" r="0.85" fill="#6aaee0"/>
<circle cx="499.22" cy="581.27" r="0.85" fill="#6aaee0"/>
<circle cx="504.70" cy="581.93" r="0.85" fill="#6aaee0"/>
<circle cx="489.37" cy="584.12" r="0.85" fill="#6aaee0"/>
<circle cx="474.04" cy="587.84" r="0.85" fill="#6aaee0"/>
<circle cx="482.80" cy="591.78" r="0.85" fill="#6aaee0"/>
<circle cx="497.03" cy="588.50" r="0.85" fill="#6aaee0"/>
<circle cx="502.51" cy="586.75" r="0.85" fill="#6aaee0"/>
<circle cx="509.08" cy="590.69" r="0.85" fill="#6aaee0"/>
<circle cx="505.79" cy="572.08" r="0.85" fill="#6aaee0"/>
<circle cx="507.98" cy="579.74" r="0.85" fill="#6aaee0"/>
<circle cx="512.36" cy="581.93" r="0.85" fill="#6aaee0"/>
<circle cx="502.51" cy="578.65" r="0.85" fill="#6aaee0"/>
<circle cx="492.65" cy="572.08" r="0.85" fill="#6aaee0"/>
<circle cx="517.84" cy="566.60" r="0.85" fill="#6aaee0"/>
<circle cx="510.17" cy="585.21" r="0.85" fill="#6aaee0"/>
<circle cx="505.79" cy="586.31" r="0.85" fill="#6aaee0"/>
<circle cx="514.55" cy="588.50" r="0.85" fill="#6aaee0"/>
<circle cx="499.22" cy="575.36" r="0.85" fill="#6aaee0"/>
<circle cx="490.47" cy="579.74" r="0.85" fill="#6aaee0"/>
<circle cx="483.90" cy="575.36" r="0.85" fill="#6aaee0"/>
<circle cx="510.61" cy="572.08" r="0.85" fill="#6aaee0"/>
<circle cx="567.76" cy="538.58" r="0.85" fill="#d9706b"/>
<circle cx="562.28" cy="542.52" r="0.85" fill="#d9706b"/>
<circle cx="566.44" cy="546.90" r="0.85" fill="#d9706b"/>
<circle cx="598.19" cy="567.70" r="0.85" fill="#d9706b"/>
<circle cx="591.84" cy="579.30" r="0.85" fill="#d9706b"/>
<circle cx="550.68" cy="563.98" r="0.85" fill="#d9706b"/>
<circle cx="552.87" cy="562.22" r="0.85" fill="#d9706b"/>
<circle cx="560.53" cy="562.66" r="0.85" fill="#d9706b"/>
<circle cx="566.66" cy="562.66" r="0.85" fill="#d9706b"/>
<circle cx="556.15" cy="568.79" r="0.85" fill="#d9706b"/>
<circle cx="555.06" cy="572.08" r="0.85" fill="#d9706b"/>
<circle cx="559.44" cy="570.98" r="0.85" fill="#d9706b"/>
<circle cx="562.72" cy="569.89" r="0.85" fill="#d9706b"/>
<circle cx="558.34" cy="574.27" r="0.85" fill="#d9706b"/>
<circle cx="548.49" cy="576.46" r="0.85" fill="#d9706b"/>
<circle cx="549.58" cy="574.27" r="0.85" fill="#d9706b"/>
<circle cx="551.77" cy="577.55" r="0.85" fill="#d9706b"/>
<circle cx="553.96" cy="578.65" r="0.85" fill="#d9706b"/>
<circle cx="557.25" cy="583.02" r="0.85" fill="#d9706b"/>
<circle cx="561.63" cy="581.93" r="0.85" fill="#d9706b"/>
<circle cx="564.91" cy="588.50" r="0.85" fill="#d9706b"/>
<circle cx="571.48" cy="590.69" r="0.85" fill="#d9706b"/>
<circle cx="575.42" cy="589.59" r="0.85" fill="#d9706b"/>
<circle cx="567.10" cy="592.88" r="0.85" fill="#d9706b"/>
<circle cx="561.63" cy="565.51" r="0.85" fill="#d9706b"/>
<circle cx="556.15" cy="579.74" r="0.85" fill="#d9706b"/>
<circle cx="559.44" cy="586.31" r="0.85" fill="#d9706b"/>
<circle cx="571.48" cy="595.07" r="0.85" fill="#d9706b"/>
<circle cx="574.77" cy="594.63" r="0.85" fill="#d9706b"/>
<circle cx="562.72" cy="595.51" r="0.85" fill="#d9706b"/>
<circle cx="558.34" cy="593.97" r="0.85" fill="#d9706b"/>
<circle cx="526.30" cy="597.13" r="0.85" fill="#6aaee0"/>
<circle cx="528.06" cy="596.56" r="0.85" fill="#6aaee0"/>
<circle cx="516.80" cy="582.25" r="0.85" fill="#6aaee0"/>
<circle cx="522.33" cy="582.79" r="0.85" fill="#6aaee0"/>
<circle cx="522.25" cy="591.38" r="0.85" fill="#6aaee0"/>
<circle cx="523.57" cy="595.71" r="0.85" fill="#6aaee0"/>
<circle cx="525.04" cy="579.57" r="0.85" fill="#6aaee0"/>
<circle cx="525.80" cy="586.53" r="0.85" fill="#6aaee0"/>
<circle cx="517.47" cy="593.93" r="0.85" fill="#6aaee0"/>
<circle cx="517.81" cy="583.67" r="0.85" fill="#6aaee0"/>
<circle cx="525.97" cy="584.96" r="0.85" fill="#6aaee0"/>
<circle cx="517.68" cy="588.38" r="0.85" fill="#6aaee0"/>
<circle cx="507.71" cy="594.26" r="0.85" fill="#6aaee0"/>
<circle cx="513.82" cy="585.55" r="0.85" fill="#6aaee0"/>
<circle cx="527.58" cy="575.35" r="0.85" fill="#6aaee0"/>
<circle cx="510.80" cy="592.03" r="0.85" fill="#6aaee0"/>
<circle cx="515.91" cy="593.19" r="0.85" fill="#6aaee0"/>
<circle cx="518.01" cy="593.32" r="0.85" fill="#6aaee0"/>
<circle cx="525.03" cy="584.11" r="0.85" fill="#6aaee0"/>
<circle cx="527.15" cy="593.59" r="0.85" fill="#6aaee0"/>
<circle cx="524.52" cy="596.02" r="0.85" fill="#6aaee0"/>
<circle cx="524.25" cy="588.43" r="0.85" fill="#6aaee0"/>
<circle cx="515.91" cy="594.50" r="0.85" fill="#6aaee0"/>
<circle cx="524.77" cy="592.62" r="0.85" fill="#6aaee0"/>
<circle cx="525.52" cy="595.55" r="0.85" fill="#6aaee0"/>
<circle cx="518.89" cy="589.10" r="0.85" fill="#6aaee0"/>
<circle cx="523.17" cy="593.61" r="0.85" fill="#6aaee0"/>
<circle cx="517.67" cy="591.06" r="0.85" fill="#6aaee0"/>
<circle cx="521.01" cy="583.71" r="0.85" fill="#6aaee0"/>
<circle cx="523.35" cy="597.26" r="0.85" fill="#6aaee0"/>
<circle cx="517.81" cy="594.16" r="0.85" fill="#6aaee0"/>
<circle cx="514.48" cy="594.32" r="0.85" fill="#6aaee0"/>
<circle cx="526.28" cy="592.81" r="0.85" fill="#6aaee0"/>
<circle cx="524.12" cy="585.30" r="0.85" fill="#6aaee0"/>
<circle cx="523.56" cy="594.59" r="0.85" fill="#6aaee0"/>
<circle cx="527.60" cy="587.04" r="0.85" fill="#6aaee0"/>
<circle cx="524.71" cy="583.23" r="0.85" fill="#6aaee0"/>
<circle cx="524.37" cy="587.32" r="0.85" fill="#6aaee0"/>
<circle cx="526.76" cy="577.94" r="0.85" fill="#6aaee0"/>
<circle cx="520.41" cy="596.29" r="0.85" fill="#6aaee0"/>
<circle cx="519.84" cy="596.22" r="0.85" fill="#6aaee0"/>
<circle cx="525.61" cy="589.68" r="0.85" fill="#6aaee0"/>
<circle cx="524.42" cy="597.02" r="0.85" fill="#6aaee0"/>
<circle cx="521.36" cy="587.84" r="0.85" fill="#6aaee0"/>
<circle cx="522.95" cy="577.86" r="0.85" fill="#6aaee0"/>
<circle cx="513.58" cy="595.24" r="0.85" fill="#6aaee0"/>
<circle cx="525.91" cy="581.67" r="0.85" fill="#6aaee0"/>
<circle cx="521.33" cy="589.87" r="0.85" fill="#6aaee0"/>
<circle cx="527.79" cy="572.67" r="0.85" fill="#6aaee0"/>
<circle cx="520.46" cy="590.29" r="0.85" fill="#6aaee0"/>
<circle cx="526.68" cy="580.80" r="0.85" fill="#6aaee0"/>
<circle cx="523.57" cy="594.38" r="0.85" fill="#6aaee0"/>
<circle cx="521.90" cy="585.35" r="0.85" fill="#6aaee0"/>
<circle cx="524.10" cy="586.31" r="0.85" fill="#6aaee0"/>
<circle cx="525.36" cy="596.90" r="0.85" fill="#6aaee0"/>
<circle cx="510.70" cy="593.70" r="0.85" fill="#6aaee0"/>
<circle cx="525.64" cy="593.94" r="0.85" fill="#6aaee0"/>
<circle cx="525.47" cy="575.25" r="0.85" fill="#6aaee0"/>
<circle cx="516.14" cy="590.10" r="0.85" fill="#6aaee0"/>
<circle cx="526.47" cy="577.72" r="0.85" fill="#6aaee0"/>
<circle cx="525.84" cy="575.56" r="0.85" fill="#6aaee0"/>
<circle cx="524.99" cy="595.42" r="0.85" fill="#6aaee0"/>
<circle cx="524.06" cy="583.26" r="0.85" fill="#6aaee0"/>
<circle cx="524.30" cy="586.27" r="0.85" fill="#6aaee0"/>
<circle cx="526.17" cy="588.00" r="0.85" fill="#6aaee0"/>
<circle cx="523.22" cy="592.25" r="0.85" fill="#6aaee0"/>
<circle cx="518.57" cy="586.60" r="0.85" fill="#6aaee0"/>
<circle cx="525.82" cy="588.79" r="0.85" fill="#6aaee0"/>
<circle cx="525.57" cy="593.83" r="0.85" fill="#6aaee0"/>
<circle cx="525.85" cy="581.09" r="0.85" fill="#6aaee0"/>
<circle cx="525.60" cy="591.37" r="0.85" fill="#6aaee0"/>
<circle cx="519.82" cy="595.95" r="0.85" fill="#6aaee0"/>
<circle cx="522.09" cy="579.03" r="0.85" fill="#6aaee0"/>
<circle cx="521.71" cy="582.77" r="0.85" fill="#6aaee0"/>
<circle cx="522.34" cy="594.05" r="0.85" fill="#6aaee0"/>
<circle cx="525.60" cy="591.13" r="0.85" fill="#6aaee0"/>
<circle cx="508.37" cy="597.02" r="0.85" fill="#6aaee0"/>
<circle cx="524.23" cy="594.65" r="0.85" fill="#6aaee0"/>
<circle cx="520.33" cy="596.70" r="0.85" fill="#6aaee0"/>
<circle cx="522.20" cy="597.12" r="0.85" fill="#6aaee0"/>
<circle cx="526.80" cy="577.86" r="0.85" fill="#6aaee0"/>
<circle cx="527.66" cy="581.89" r="0.85" fill="#6aaee0"/>
<circle cx="519.98" cy="580.22" r="0.85" fill="#6aaee0"/>
<circle cx="522.92" cy="594.31" r="0.85" fill="#6aaee0"/>
<circle cx="521.17" cy="588.70" r="0.85" fill="#6aaee0"/>
<circle cx="524.42" cy="583.92" r="0.85" fill="#6aaee0"/>
<circle cx="519.75" cy="593.60" r="0.85" fill="#6aaee0"/>
<circle cx="519.64" cy="580.51" r="0.85" fill="#6aaee0"/>
<circle cx="524.33" cy="596.86" r="0.85" fill="#6aaee0"/>
<circle cx="515.61" cy="596.90" r="0.85" fill="#6aaee0"/>
<circle cx="520.10" cy="597.03" r="0.85" fill="#6aaee0"/>
<circle cx="526.46" cy="595.29" r="0.85" fill="#6aaee0"/>
<circle cx="520.27" cy="594.01" r="0.85" fill="#6aaee0"/>
<circle cx="519.50" cy="595.74" r="0.85" fill="#6aaee0"/>
<circle cx="527.46" cy="578.19" r="0.85" fill="#6aaee0"/>
<circle cx="524.57" cy="576.68" r="0.85" fill="#6aaee0"/>
<circle cx="526.93" cy="584.14" r="0.85" fill="#6aaee0"/>
<circle cx="525.36" cy="578.04" r="0.85" fill="#6aaee0"/>
<circle cx="517.72" cy="597.20" r="0.85" fill="#6aaee0"/>
<circle cx="520.02" cy="589.43" r="0.85" fill="#6aaee0"/>
<circle cx="527.78" cy="595.95" r="0.85" fill="#6aaee0"/>
<circle cx="520.10" cy="579.50" r="0.85" fill="#6aaee0"/>
<circle cx="525.78" cy="581.33" r="0.85" fill="#6aaee0"/>
<circle cx="522.38" cy="595.23" r="0.85" fill="#6aaee0"/>
<circle cx="519.19" cy="588.23" r="0.85" fill="#6aaee0"/>
<circle cx="520.17" cy="590.91" r="0.85" fill="#6aaee0"/>
<circle cx="524.57" cy="596.53" r="0.85" fill="#6aaee0"/>
<circle cx="521.16" cy="595.56" r="0.85" fill="#6aaee0"/>
<circle cx="520.35" cy="596.73" r="0.85" fill="#6aaee0"/>
<circle cx="517.47" cy="582.07" r="0.85" fill="#6aaee0"/>
<circle cx="525.56" cy="575.17" r="0.85" fill="#6aaee0"/>
<circle cx="526.79" cy="572.61" r="0.85" fill="#6aaee0"/>
<circle cx="527.13" cy="593.47" r="0.85" fill="#6aaee0"/>
<circle cx="518.43" cy="596.01" r="0.85" fill="#6aaee0"/>
<circle cx="514.09" cy="595.48" r="0.85" fill="#6aaee0"/>
<circle cx="520.88" cy="594.83" r="0.85" fill="#6aaee0"/>
<circle cx="525.33" cy="575.35" r="0.85" fill="#6aaee0"/>
<circle cx="522.58" cy="594.52" r="0.85" fill="#6aaee0"/>
<circle cx="527.07" cy="581.17" r="0.85" fill="#6aaee0"/>
<circle cx="525.74" cy="595.99" r="0.85" fill="#6aaee0"/>
<circle cx="520.51" cy="593.71" r="0.85" fill="#6aaee0"/>
<circle cx="511.80" cy="593.40" r="0.85" fill="#6aaee0"/>
<circle cx="525.27" cy="591.98" r="0.85" fill="#6aaee0"/>
<circle cx="519.83" cy="581.04" r="0.85" fill="#6aaee0"/>
<circle cx="522.54" cy="580.56" r="0.85" fill="#6aaee0"/>
<circle cx="528.10" cy="596.89" r="0.85" fill="#6aaee0"/>
<circle cx="524.94" cy="574.47" r="0.85" fill="#6aaee0"/>
<circle cx="521.92" cy="597.08" r="0.85" fill="#6aaee0"/>
<circle cx="526.15" cy="587.26" r="0.85" fill="#6aaee0"/>
<circle cx="520.66" cy="583.64" r="0.85" fill="#6aaee0"/>
<circle cx="526.35" cy="593.39" r="0.85" fill="#6aaee0"/>
<circle cx="526.18" cy="596.04" r="0.85" fill="#6aaee0"/>
<circle cx="519.50" cy="595.02" r="0.85" fill="#6aaee0"/>
<circle cx="525.12" cy="591.90" r="0.85" fill="#6aaee0"/>
<circle cx="527.39" cy="591.40" r="0.85" fill="#6aaee0"/>
<circle cx="519.84" cy="587.35" r="0.85" fill="#6aaee0"/>
<circle cx="525.63" cy="576.04" r="0.85" fill="#6aaee0"/>
<circle cx="516.85" cy="586.67" r="0.85" fill="#6aaee0"/>
<circle cx="520.56" cy="582.66" r="0.85" fill="#6aaee0"/>
<circle cx="523.87" cy="596.56" r="0.85" fill="#6aaee0"/>
<circle cx="524.73" cy="596.01" r="0.85" fill="#6aaee0"/>
<circle cx="526.75" cy="597.21" r="0.85" fill="#6aaee0"/>
<circle cx="527.00" cy="587.81" r="0.85" fill="#6aaee0"/>
<circle cx="526.75" cy="584.71" r="0.85" fill="#6aaee0"/>
<circle cx="518.05" cy="597.24" r="0.85" fill="#6aaee0"/>
<circle cx="525.65" cy="590.10" r="0.85" fill="#6aaee0"/>
<circle cx="519.40" cy="594.66" r="0.85" fill="#6aaee0"/>
<circle cx="514.72" cy="589.51" r="0.85" fill="#6aaee0"/>
<circle cx="520.51" cy="588.84" r="0.85" fill="#6aaee0"/>
<circle cx="525.27" cy="593.29" r="0.85" fill="#6aaee0"/>
<circle cx="521.86" cy="581.89" r="0.85" fill="#6aaee0"/>
<circle cx="519.99" cy="583.17" r="0.85" fill="#6aaee0"/>
<circle cx="516.65" cy="593.81" r="0.85" fill="#6aaee0"/>
<circle cx="520.04" cy="579.50" r="0.85" fill="#6aaee0"/>
<circle cx="523.62" cy="587.91" r="0.85" fill="#6aaee0"/>
<circle cx="525.91" cy="586.30" r="0.85" fill="#6aaee0"/>
<circle cx="520.66" cy="587.79" r="0.85" fill="#6aaee0"/>
<circle cx="527.65" cy="585.66" r="0.85" fill="#6aaee0"/>
<circle cx="526.13" cy="588.50" r="0.85" fill="#6aaee0"/>
<circle cx="521.47" cy="597.21" r="0.85" fill="#6aaee0"/>
<circle cx="528.07" cy="575.25" r="0.85" fill="#6aaee0"/>
<circle cx="525.50" cy="587.19" r="0.85" fill="#6aaee0"/>
<circle cx="521.34" cy="588.17" r="0.85" fill="#6aaee0"/>
<circle cx="524.90" cy="596.11" r="0.85" fill="#6aaee0"/>
<circle cx="522.94" cy="592.83" r="0.85" fill="#6aaee0"/>
<circle cx="520.31" cy="589.61" r="0.85" fill="#6aaee0"/>
<circle cx="507.09" cy="593.95" r="0.85" fill="#6aaee0"/>
<circle cx="527.38" cy="597.11" r="0.85" fill="#6aaee0"/>
<circle cx="524.67" cy="594.75" r="0.85" fill="#6aaee0"/>
<circle cx="522.45" cy="591.67" r="0.85" fill="#6aaee0"/>
<circle cx="517.50" cy="591.48" r="0.85" fill="#6aaee0"/>
<circle cx="519.89" cy="582.24" r="0.85" fill="#6aaee0"/>
<circle cx="523.84" cy="583.16" r="0.85" fill="#6aaee0"/>
<circle cx="527.69" cy="575.90" r="0.85" fill="#6aaee0"/>
<circle cx="525.43" cy="588.22" r="0.85" fill="#6aaee0"/>
<circle cx="522.40" cy="595.80" r="0.85" fill="#6aaee0"/>
<circle cx="528.06" cy="572.24" r="0.85" fill="#6aaee0"/>
<circle cx="525.33" cy="581.88" r="0.85" fill="#6aaee0"/>
<circle cx="516.67" cy="587.83" r="0.85" fill="#6aaee0"/>
<circle cx="527.01" cy="587.81" r="0.85" fill="#6aaee0"/>
<circle cx="528.02" cy="585.51" r="0.85" fill="#6aaee0"/>
<circle cx="519.29" cy="592.24" r="0.85" fill="#6aaee0"/>
<circle cx="526.54" cy="583.14" r="0.85" fill="#6aaee0"/>
<circle cx="518.21" cy="594.79" r="0.85" fill="#6aaee0"/>
<circle cx="519.32" cy="579.90" r="0.85" fill="#6aaee0"/>
<circle cx="518.94" cy="585.75" r="0.85" fill="#6aaee0"/>
<circle cx="522.82" cy="591.07" r="0.85" fill="#6aaee0"/>
<circle cx="517.14" cy="589.57" r="0.85" fill="#6aaee0"/>
<circle cx="507.93" cy="596.88" r="0.85" fill="#6aaee0"/>
<circle cx="523.02" cy="576.11" r="0.85" fill="#6aaee0"/>
<circle cx="523.69" cy="586.66" r="0.85" fill="#6aaee0"/>
<circle cx="523.41" cy="577.19" r="0.85" fill="#6aaee0"/>
<circle cx="518.81" cy="587.58" r="0.85" fill="#6aaee0"/>
<circle cx="519.30" cy="585.02" r="0.85" fill="#6aaee0"/>
<circle cx="527.32" cy="584.44" r="0.85" fill="#6aaee0"/>
<circle cx="525.97" cy="593.94" r="0.85" fill="#6aaee0"/>
<circle cx="515.67" cy="583.51" r="0.85" fill="#6aaee0"/>
<circle cx="524.51" cy="595.68" r="0.85" fill="#6aaee0"/>
<circle cx="523.25" cy="588.12" r="0.85" fill="#6aaee0"/>
<circle cx="525.53" cy="579.46" r="0.85" fill="#6aaee0"/>
<circle cx="548.76" cy="581.42" r="0.85" fill="#d9706b"/>
<circle cx="551.22" cy="595.69" r="0.85" fill="#d9706b"/>
<circle cx="553.53" cy="586.78" r="0.85" fill="#d9706b"/>
<circle cx="560.49" cy="596.93" r="0.85" fill="#d9706b"/>
<circle cx="548.37" cy="592.54" r="0.85" fill="#d9706b"/>
<circle cx="548.08" cy="591.47" r="0.85" fill="#d9706b"/>
<circle cx="549.72" cy="583.61" r="0.85" fill="#d9706b"/>
<circle cx="551.50" cy="588.28" r="0.85" fill="#d9706b"/>
<circle cx="547.36" cy="596.09" r="0.85" fill="#d9706b"/>
<circle cx="549.07" cy="583.49" r="0.85" fill="#d9706b"/>
<circle cx="546.89" cy="594.85" r="0.85" fill="#d9706b"/>
<circle cx="553.30" cy="588.88" r="0.85" fill="#d9706b"/>
<circle cx="551.70" cy="592.07" r="0.85" fill="#d9706b"/>
<circle cx="549.58" cy="589.97" r="0.85" fill="#d9706b"/>
<circle cx="548.56" cy="579.68" r="0.85" fill="#d9706b"/>
<circle cx="554.33" cy="595.65" r="0.85" fill="#d9706b"/>
<circle cx="550.37" cy="593.19" r="0.85" fill="#d9706b"/>
<circle cx="548.43" cy="581.79" r="0.85" fill="#d9706b"/>
<circle cx="548.06" cy="588.82" r="0.85" fill="#d9706b"/>
<circle cx="546.84" cy="589.65" r="0.85" fill="#d9706b"/>
<circle cx="548.40" cy="591.64" r="0.85" fill="#d9706b"/>
<circle cx="554.39" cy="585.62" r="0.85" fill="#d9706b"/>
<circle cx="547.83" cy="595.93" r="0.85" fill="#d9706b"/>
<circle cx="552.88" cy="596.54" r="0.85" fill="#d9706b"/>
<circle cx="557.15" cy="591.04" r="0.85" fill="#d9706b"/>
<circle cx="549.66" cy="590.16" r="0.85" fill="#d9706b"/>
<circle cx="548.33" cy="595.18" r="0.85" fill="#d9706b"/>
<circle cx="549.87" cy="594.90" r="0.85" fill="#d9706b"/>
<circle cx="547.13" cy="589.02" r="0.85" fill="#d9706b"/>
<circle cx="551.84" cy="594.54" r="0.85" fill="#d9706b"/>
<circle cx="552.21" cy="586.40" r="0.85" fill="#d9706b"/>
<circle cx="554.18" cy="595.19" r="0.85" fill="#d9706b"/>
<circle cx="548.85" cy="587.30" r="0.85" fill="#d9706b"/>
<circle cx="547.51" cy="586.65" r="0.85" fill="#d9706b"/>
<circle cx="550.89" cy="588.82" r="0.85" fill="#d9706b"/>
<circle cx="555.77" cy="587.09" r="0.85" fill="#d9706b"/>
<circle cx="546.87" cy="582.53" r="0.85" fill="#d9706b"/>
<circle cx="549.56" cy="585.25" r="0.85" fill="#d9706b"/>
<circle cx="547.22" cy="595.18" r="0.85" fill="#d9706b"/>
<circle cx="552.23" cy="591.91" r="0.85" fill="#d9706b"/>
<circle cx="550.65" cy="592.96" r="0.85" fill="#d9706b"/>
<circle cx="547.03" cy="580.47" r="0.85" fill="#d9706b"/>
<circle cx="552.89" cy="590.89" r="0.85" fill="#d9706b"/>
<circle cx="547.04" cy="588.92" r="0.85" fill="#d9706b"/>
<circle cx="549.89" cy="581.98" r="0.85" fill="#d9706b"/>
<circle cx="557.72" cy="593.21" r="0.85" fill="#d9706b"/>
<circle cx="556.63" cy="591.44" r="0.85" fill="#d9706b"/>
<circle cx="549.05" cy="579.45" r="0.85" fill="#d9706b"/>
<circle cx="553.47" cy="587.41" r="0.85" fill="#d9706b"/>
<circle cx="551.74" cy="593.38" r="0.85" fill="#d9706b"/>
<circle cx="551.33" cy="582.31" r="0.85" fill="#d9706b"/>
<circle cx="546.81" cy="582.93" r="0.85" fill="#d9706b"/>
<circle cx="552.00" cy="596.65" r="0.85" fill="#d9706b"/>
<circle cx="555.32" cy="589.76" r="0.85" fill="#d9706b"/>
<circle cx="561.17" cy="596.30" r="0.85" fill="#d9706b"/>
<circle cx="551.56" cy="593.40" r="0.85" fill="#d9706b"/>
<circle cx="549.96" cy="591.02" r="0.85" fill="#d9706b"/>
<circle cx="551.08" cy="595.41" r="0.85" fill="#d9706b"/>
<circle cx="548.19" cy="586.94" r="0.85" fill="#d9706b"/>
<circle cx="547.10" cy="581.29" r="0.85" fill="#d9706b"/>
<circle cx="549.13" cy="580.07" r="0.85" fill="#d9706b"/>
<circle cx="551.72" cy="585.29" r="0.85" fill="#d9706b"/>
<circle cx="549.18" cy="580.16" r="0.85" fill="#d9706b"/>
<circle cx="552.98" cy="592.06" r="0.85" fill="#d9706b"/>
<circle cx="554.62" cy="594.13" r="0.85" fill="#d9706b"/>
<circle cx="554.02" cy="593.09" r="0.85" fill="#d9706b"/>
<circle cx="551.00" cy="587.26" r="0.85" fill="#d9706b"/>
<circle cx="553.65" cy="593.23" r="0.85" fill="#d9706b"/>
<circle cx="548.19" cy="584.86" r="0.85" fill="#d9706b"/>
<circle cx="555.48" cy="592.58" r="0.85" fill="#d9706b"/>
<circle cx="546.61" cy="588.47" r="0.85" fill="#d9706b"/>
<circle cx="548.56" cy="580.88" r="0.85" fill="#d9706b"/>
<circle cx="552.45" cy="592.59" r="0.85" fill="#d9706b"/>
<circle cx="553.02" cy="585.89" r="0.85" fill="#d9706b"/>
<circle cx="549.85" cy="589.64" r="0.85" fill="#d9706b"/>
<circle cx="549.63" cy="592.58" r="0.85" fill="#d9706b"/>
<circle cx="548.66" cy="594.62" r="0.85" fill="#d9706b"/>
<circle cx="552.31" cy="583.79" r="0.85" fill="#d9706b"/>
<circle cx="550.59" cy="595.67" r="0.85" fill="#d9706b"/>
<circle cx="547.09" cy="594.80" r="0.85" fill="#d9706b"/>
<circle cx="550.66" cy="584.62" r="0.85" fill="#d9706b"/>
<circle cx="548.86" cy="579.13" r="0.85" fill="#d9706b"/>
<circle cx="552.27" cy="596.49" r="0.85" fill="#d9706b"/>
<circle cx="555.01" cy="597.06" r="0.85" fill="#d9706b"/>
<circle cx="548.63" cy="594.50" r="0.85" fill="#d9706b"/>
<circle cx="550.59" cy="590.52" r="0.85" fill="#d9706b"/>
<circle cx="548.06" cy="588.45" r="0.85" fill="#d9706b"/>
<circle cx="552.06" cy="586.99" r="0.85" fill="#d9706b"/>
<circle cx="551.82" cy="597.05" r="0.85" fill="#d9706b"/>
<circle cx="550.00" cy="595.12" r="0.85" fill="#d9706b"/>
<circle cx="548.90" cy="580.91" r="0.85" fill="#d9706b"/>
<circle cx="548.87" cy="597.16" r="0.85" fill="#d9706b"/>
<circle cx="548.62" cy="597.21" r="0.85" fill="#d9706b"/>
<circle cx="546.72" cy="578.62" r="0.85" fill="#d9706b"/>
<circle cx="557.03" cy="592.19" r="0.85" fill="#d9706b"/>
<circle cx="546.72" cy="587.25" r="0.85" fill="#d9706b"/>
<circle cx="546.58" cy="594.55" r="0.85" fill="#d9706b"/>
<circle cx="547.05" cy="585.02" r="0.85" fill="#d9706b"/>
<circle cx="549.99" cy="592.17" r="0.85" fill="#d9706b"/>
<circle cx="546.67" cy="584.75" r="0.85" fill="#d9706b"/>
<circle cx="554.29" cy="597.03" r="0.85" fill="#d9706b"/>
<circle cx="550.31" cy="594.61" r="0.85" fill="#d9706b"/>
<circle cx="550.48" cy="587.61" r="0.85" fill="#d9706b"/>
<circle cx="554.34" cy="588.06" r="0.85" fill="#d9706b"/>
<circle cx="546.59" cy="592.84" r="0.85" fill="#d9706b"/>
<circle cx="546.74" cy="596.59" r="0.85" fill="#d9706b"/>
<circle cx="552.62" cy="593.16" r="0.85" fill="#d9706b"/>
<circle cx="552.51" cy="585.19" r="0.85" fill="#d9706b"/>
<circle cx="552.29" cy="583.26" r="0.85" fill="#d9706b"/>
<circle cx="547.51" cy="591.93" r="0.85" fill="#d9706b"/>
<circle cx="550.88" cy="585.21" r="0.85" fill="#d9706b"/>
<circle cx="556.32" cy="594.94" r="0.85" fill="#d9706b"/>
<circle cx="555.15" cy="592.30" r="0.85" fill="#d9706b"/>
<circle cx="549.54" cy="591.50" r="0.85" fill="#d9706b"/>
<circle cx="550.37" cy="586.92" r="0.85" fill="#d9706b"/>
<circle cx="547.88" cy="592.25" r="0.85" fill="#d9706b"/>
<circle cx="552.80" cy="585.33" r="0.85" fill="#d9706b"/>
<circle cx="552.88" cy="586.86" r="0.85" fill="#d9706b"/>
<circle cx="553.53" cy="589.21" r="0.85" fill="#d9706b"/>
<circle cx="546.60" cy="582.93" r="0.85" fill="#d9706b"/>
<circle cx="547.37" cy="597.11" r="0.85" fill="#d9706b"/>
<circle cx="546.97" cy="578.00" r="0.85" fill="#d9706b"/>
<circle cx="548.03" cy="593.23" r="0.85" fill="#d9706b"/>
<circle cx="548.36" cy="595.80" r="0.85" fill="#d9706b"/>
<circle cx="547.65" cy="584.35" r="0.85" fill="#d9706b"/>
<circle cx="549.23" cy="595.74" r="0.85" fill="#d9706b"/>
<circle cx="548.27" cy="591.61" r="0.85" fill="#d9706b"/>
<circle cx="547.03" cy="593.75" r="0.85" fill="#d9706b"/>
<circle cx="550.56" cy="595.02" r="0.85" fill="#d9706b"/>
<circle cx="547.54" cy="592.20" r="0.85" fill="#d9706b"/>
<line x1="528.48" y1="528.3" x2="528.48" y2="598.0" stroke="#a8a8a8" stroke-width="0.5"/>
<line x1="546.22" y1="528.3" x2="546.22" y2="598.0" stroke="#a8a8a8" stroke-width="0.5"/>
<line x1="466.4" y1="596.20" x2="608.3" y2="596.20" stroke="#aaa" stroke-width="0.5"/>
<rect x="466.4" y="528.3" width="141.90" height="69.70" fill="none" stroke="#9a9a9a" stroke-width="0.7"/>
<path d="M466.4,528.3 L466.4,598.0 L608.3,598.0" fill="none" stroke="#333" stroke-width="0.9"/>
<line x1="464.9" y1="598.00" x2="466.4" y2="598.00" stroke="#333" stroke-width="0.5"/>
<text x="463.80" y="600.20" font-size="6.2" fill="#222" text-anchor="end" font-weight="normal" font-style="normal" >0</text>
<line x1="464.9" y1="584.06" x2="466.4" y2="584.06" stroke="#333" stroke-width="0.5"/>
<text x="463.80" y="586.26" font-size="6.2" fill="#222" text-anchor="end" font-weight="normal" font-style="normal" >20</text>
<line x1="464.9" y1="570.12" x2="466.4" y2="570.12" stroke="#333" stroke-width="0.5"/>
<text x="463.80" y="572.32" font-size="6.2" fill="#222" text-anchor="end" font-weight="normal" font-style="normal" >40</text>
<line x1="464.9" y1="556.18" x2="466.4" y2="556.18" stroke="#333" stroke-width="0.5"/>
<text x="463.80" y="558.38" font-size="6.2" fill="#222" text-anchor="end" font-weight="normal" font-style="normal" >60</text>
<line x1="464.9" y1="542.24" x2="466.4" y2="542.24" stroke="#333" stroke-width="0.5"/>
<text x="463.80" y="544.44" font-size="6.2" fill="#222" text-anchor="end" font-weight="normal" font-style="normal" >80</text>
<line x1="464.9" y1="528.30" x2="466.4" y2="528.30" stroke="#333" stroke-width="0.5"/>
<text x="463.80" y="530.50" font-size="6.2" fill="#222" text-anchor="end" font-weight="normal" font-style="normal" >100</text>
<text x="466.40" y="605.40" font-size="6.2" fill="#222" text-anchor="middle" font-weight="normal" font-style="normal" >-8</text>
<text x="537.35" y="605.40" font-size="6.2" fill="#222" text-anchor="middle" font-weight="normal" font-style="normal" >0</text>
<text x="608.30" y="605.40" font-size="6.2" fill="#222" text-anchor="middle" font-weight="normal" font-style="normal" >8</text>
<text x="534.65" y="526.60" font-size="8.6" fill="#8c87d9" text-anchor="middle" font-weight="bold" font-style="normal" >GATA Znf10</text>
<text x="501.20" y="605.80" font-size="8" fill="#5b9bd0" text-anchor="middle" font-weight="normal" font-style="normal" >18.0 %</text>
<text x="575.60" y="605.80" font-size="8" fill="#c75d5d" text-anchor="middle" font-weight="normal" font-style="normal" >11.5 %</text>
<text x="0" y="0" font-size="6.3" fill="#222" text-anchor="middle" transform="translate(291.3,477) rotate(-90)">-log10(P-value)</text>
<text x="0" y="0" font-size="6.3" fill="#222" text-anchor="middle" transform="translate(294.3,563.2) rotate(-90)">-log10(P-value)</text>
<text x="379.30" y="618.00" font-size="8" fill="#222" text-anchor="middle" font-weight="normal" font-style="normal" >log2FC</text>
<text x="537.30" y="618.00" font-size="8" fill="#222" text-anchor="middle" font-weight="normal" font-style="normal" >log2FC</text>
<text x="20.80" y="627.80" font-size="16" fill="#000" text-anchor="start" font-weight="normal" font-style="normal" >f</text>
<rect x="30.3" y="639.2" width="154.70" height="87.10" fill="none" stroke="#3a3a3a" stroke-width="1"/>
<text x="103.50" y="634.80" font-size="10" fill="#000" text-anchor="middle" font-weight="normal" font-style="italic" >zrt1</text>
<line x1="60.70" y1="645.60" x2="69.20" y2="645.60" stroke="#8c8c8c" stroke-width="0.9"/>
<rect x="60.70" y="643.40" width="2.80" height="4.4" fill="#8c8c8c"/>
<rect x="64.90" y="643.40" width="4.30" height="4.4" fill="#8c8c8c"/>
<line x1="67.05" y1="644.30" x2="67.05" y2="646.90" stroke="#d2d2d2" stroke-width="0.45"/>
<rect x="96.4" y="640.9" width="45.20" height="10.40" fill="none" stroke="#f3b550" stroke-width="0.9"/>
<line x1="99.00" y1="645.60" x2="141.30" y2="645.60" stroke="#8c8c8c" stroke-width="0.9"/>
<rect x="99.80" y="644.40" width="2.30" height="2.4" fill="#8c8c8c"/>
<rect x="103.40" y="643.40" width="3.80" height="4.4" fill="#8c8c8c"/>
<line x1="105.30" y1="644.30" x2="105.30" y2="646.90" stroke="#d2d2d2" stroke-width="0.45"/>
<rect x="112.00" y="643.40" width="6.60" height="4.4" fill="#8c8c8c"/>
<line x1="113.65" y1="644.30" x2="113.65" y2="646.90" stroke="#d2d2d2" stroke-width="0.45"/>
<line x1="115.30" y1="644.30" x2="115.30" y2="646.90" stroke="#d2d2d2" stroke-width="0.45"/>
<line x1="116.95" y1="644.30" x2="116.95" y2="646.90" stroke="#d2d2d2" stroke-width="0.45"/>
<rect x="119.10" y="643.40" width="15.60" height="4.4" fill="#8c8c8c"/>
<line x1="120.66" y1="644.30" x2="120.66" y2="646.90" stroke="#d2d2d2" stroke-width="0.45"/>
<line x1="122.22" y1="644.30" x2="122.22" y2="646.90" stroke="#d2d2d2" stroke-width="0.45"/>
<line x1="123.78" y1="644.30" x2="123.78" y2="646.90" stroke="#d2d2d2" stroke-width="0.45"/>
<line x1="125.34" y1="644.30" x2="125.34" y2="646.90" stroke="#d2d2d2" stroke-width="0.45"/>
<line x1="126.90" y1="644.30" x2="126.90" y2="646.90" stroke="#d2d2d2" stroke-width="0.45"/>
<line x1="128.46" y1="644.30" x2="128.46" y2="646.90" stroke="#d2d2d2" stroke-width="0.45"/>
<line x1="130.02" y1="644.30" x2="130.02" y2="646.90" stroke="#d2d2d2" stroke-width="0.45"/>
<line x1="131.58" y1="644.30" x2="131.58" y2="646.90" stroke="#d2d2d2" stroke-width="0.45"/>
<line x1="133.14" y1="644.30" x2="133.14" y2="646.90" stroke="#d2d2d2" stroke-width="0.45"/>
<rect x="134.70" y="644.40" width="6.10" height="2.4" fill="#8c8c8c"/>
<line x1="138.50" y1="654.10" x2="154.60" y2="654.10" stroke="#8c8c8c" stroke-width="0.9"/>
<rect x="139.80" y="651.90" width="4.80" height="4.4" fill="#8c8c8c"/>
<line x1="141.40" y1="652.80" x2="141.40" y2="655.40" stroke="#d2d2d2" stroke-width="0.45"/>
<line x1="143.00" y1="652.80" x2="143.00" y2="655.40" stroke="#d2d2d2" stroke-width="0.45"/>
<rect x="145.70" y="651.90" width="4.20" height="4.4" fill="#8c8c8c"/>
<line x1="147.80" y1="652.80" x2="147.80" y2="655.40" stroke="#d2d2d2" stroke-width="0.45"/>
<rect x="150.80" y="651.90" width="3.20" height="4.4" fill="#8c8c8c"/>
<line x1="152.40" y1="652.80" x2="152.40" y2="655.40" stroke="#d2d2d2" stroke-width="0.45"/>
<line x1="153.10" y1="645.60" x2="182.50" y2="645.60" stroke="#8c8c8c" stroke-width="0.9"/>
<rect x="153.10" y="644.40" width="3.40" height="2.4" fill="#8c8c8c"/>
<rect x="156.50" y="643.40" width="26.00" height="4.4" fill="#8c8c8c"/>
<line x1="158.03" y1="644.30" x2="158.03" y2="646.90" stroke="#d2d2d2" stroke-width="0.45"/>
<line x1="159.56" y1="644.30" x2="159.56" y2="646.90" stroke="#d2d2d2" stroke-width="0.45"/>
<line x1="161.09" y1="644.30" x2="161.09" y2="646.90" stroke="#d2d2d2" stroke-width="0.45"/>
<line x1="162.62" y1="644.30" x2="162.62" y2="646.90" stroke="#d2d2d2" stroke-width="0.45"/>
<line x1="164.15" y1="644.30" x2="164.15" y2="646.90" stroke="#d2d2d2" stroke-width="0.45"/>
<line x1="165.68" y1="644.30" x2="165.68" y2="646.90" stroke="#d2d2d2" stroke-width="0.45"/>
<line x1="167.21" y1="644.30" x2="167.21" y2="646.90" stroke="#d2d2d2" stroke-width="0.45"/>
<line x1="168.74" y1="644.30" x2="168.74" y2="646.90" stroke="#d2d2d2" stroke-width="0.45"/>
<line x1="170.26" y1="644.30" x2="170.26" y2="646.90" stroke="#d2d2d2" stroke-width="0.45"/>
<line x1="171.79" y1="644.30" x2="171.79" y2="646.90" stroke="#d2d2d2" stroke-width="0.45"/>
<line x1="173.32" y1="644.30" x2="173.32" y2="646.90" stroke="#d2d2d2" stroke-width="0.45"/>
<line x1="174.85" y1="644.30" x2="174.85" y2="646.90" stroke="#d2d2d2" stroke-width="0.45"/>
<line x1="176.38" y1="644.30" x2="176.38" y2="646.90" stroke="#d2d2d2" stroke-width="0.45"/>
<line x1="177.91" y1="644.30" x2="177.91" y2="646.90" stroke="#d2d2d2" stroke-width="0.45"/>
<line x1="179.44" y1="644.30" x2="179.44" y2="646.90" stroke="#d2d2d2" stroke-width="0.45"/>
<line x1="180.97" y1="644.30" x2="180.97" y2="646.90" stroke="#d2d2d2" stroke-width="0.45"/>
<text x="52.10" y="672.30" font-size="5.6" fill="#000" text-anchor="end" font-weight="normal" font-style="normal" >Control</text>
<text x="52.10" y="688.00" font-size="5.3" fill="#f0a020" text-anchor="end" font-weight="normal" font-style="italic" >Znf1</text>
<text x="46.60" y="707.30" font-size="6.6" fill="#f7a0a6" text-anchor="end" font-weight="normal" font-style="normal" >RNA</text>
<rect x="50.30" y="705.00" width="1.8" height="0.7" fill="#222"/>
<text x="46.60" y="717.80" font-size="6.6" fill="#f7a0a6" text-anchor="end" font-weight="normal" font-style="normal" >RNA</text>
<text x="53.30" y="717.80" font-size="6.5" fill="#222" text-anchor="end" font-weight="bold" font-style="normal" >+</text>
<text x="59.50" y="724.00" font-size="5.4" fill="#f0a020" text-anchor="end">ZnSO<tspan font-size="3.5">4</tspan></text>
<text x="56.80" y="665.80" font-size="3.2" fill="#444" text-anchor="middle" font-weight="normal" font-style="normal" >10</text>
<text x="56.80" y="677.70" font-size="3.2" fill="#444" text-anchor="middle" font-weight="normal" font-style="normal" >10</text>
<text x="57.30" y="701.80" font-size="3.2" fill="#444" text-anchor="middle" font-weight="normal" font-style="normal" >4000</text>
<text x="57.30" y="711.30" font-size="3.2" fill="#444" text-anchor="middle" font-weight="normal" font-style="normal" >4000</text>
<line x1="60.50" y1="697.50" x2="183.00" y2="697.50" stroke="#eee" stroke-width="0.5"/>
<line x1="60.5" y1="674.5" x2="183" y2="674.5" stroke="#222" stroke-width="1"/>
<line x1="60.50" y1="686.20" x2="183.00" y2="686.20" stroke="#f8d49a" stroke-width="0.6"/>
<path d="M60.50,686.20 L61.27,686.20 L62.03,686.20 L62.80,686.20 L63.56,686.20 L64.33,686.20 L65.09,686.20 L65.86,686.20 L66.62,686.20 L67.39,686.20 L68.16,686.20 L68.92,686.20 L69.69,686.20 L70.45,686.20 L71.22,686.20 L71.98,686.20 L72.75,686.20 L73.52,686.20 L74.28,686.20 L75.05,686.20 L75.81,686.19 L76.58,686.17 L77.34,686.14 L78.11,686.09 L78.88,685.99 L79.64,685.83 L80.41,685.61 L81.17,685.32 L81.94,684.97 L82.70,684.61 L83.47,684.25 L84.23,683.88 L85.00,683.39 L85.77,682.52 L86.53,681.05 L87.30,679.11 L88.06,677.36 L88.83,676.73 L89.59,677.70 L90.36,679.89 L91.12,682.34 L91.89,684.20 L92.66,685.13 L93.42,685.06 L94.19,684.04 L94.95,682.44 L95.72,681.18 L96.48,681.19 L97.25,682.46 L98.02,684.11 L98.78,685.29 L99.55,685.77 L100.31,685.71 L101.08,685.26 L101.84,684.55 L102.61,683.81 L103.38,683.37 L104.14,683.42 L104.91,683.91 L105.67,684.54 L106.44,685.05 L107.20,685.35 L107.97,685.50 L108.73,685.61 L109.50,685.73 L110.27,685.86 L111.03,685.98 L111.80,686.08 L112.56,686.14 L113.33,686.17 L114.09,686.19 L114.86,686.20 L115.62,686.20 L116.39,686.20 L117.16,686.20 L117.92,686.20 L118.69,686.20 L119.45,686.20 L120.22,686.20 L120.98,686.20 L121.75,686.20 L122.52,686.20 L123.28,686.20 L124.05,686.20 L124.81,686.20 L125.58,686.20 L126.34,686.20 L127.11,686.20 L127.88,686.20 L128.64,686.20 L129.41,686.19 L130.17,686.17 L130.94,686.13 L131.70,686.01 L132.47,685.74 L133.23,685.17 L134.00,684.13 L134.77,682.53 L135.53,680.54 L136.30,678.51 L137.06,676.88 L137.83,675.93 L138.59,675.74 L139.36,676.32 L140.12,677.63 L140.89,679.51 L141.66,681.58 L142.42,683.41 L143.19,684.72 L143.95,685.51 L144.72,685.91 L145.48,686.08 L146.25,686.16 L147.02,686.18 L147.78,686.19 L148.55,686.20 L149.31,686.19 L150.08,686.15 L150.84,685.99 L151.61,685.49 L152.38,684.30 L153.14,682.22 L153.91,679.64 L154.67,677.73 L155.44,677.60 L156.20,679.36 L156.97,681.92 L157.73,684.10 L158.50,685.39 L159.27,685.96 L160.03,686.14 L160.80,686.19 L161.56,686.20 L162.33,686.20 L163.09,686.20 L163.86,686.20 L164.62,686.20 L165.39,686.20 L166.16,686.20 L166.92,686.20 L167.69,686.20 L168.45,686.20 L169.22,686.20 L169.98,686.20 L170.75,686.20 L171.52,686.20 L172.28,686.20 L173.05,686.20 L173.81,686.20 L174.58,686.20 L175.34,686.20 L176.11,686.20 L176.88,686.20 L177.64,686.20 L178.41,686.20 L179.17,686.20 L179.94,686.20 L180.70,686.20 L181.47,686.20 L182.23,686.20 L183.00,686.20 L183.00,686.20 L60.50,686.20 Z" fill="#f0a020"/>
<rect x="82.7" y="688" width="16" height="2.6" fill="#fbd597"/>
<rect x="95.7" y="688" width="1.8" height="2.6" fill="#9ad6a0"/>
<rect x="134.7" y="688" width="8.2" height="2.6" fill="#fbd597"/>
<rect x="138" y="688" width="1.2" height="2.6" fill="#9ad6a0"/>
<rect x="152.5" y="688" width="5.5" height="2.6" fill="#fbd597"/>
<line x1="60.50" y1="709.20" x2="183.00" y2="709.20" stroke="#d9d0d0" stroke-width="0.6"/>
<path d="M111.30,709.20 L111.30,708.73 L112.20,707.47 L113.10,705.90 L114.00,705.27 L114.00,709.20 Z" fill="#f78f95"/>
<path d="M114.00,709.20 L114.00,704.89 L115.00,705.44 L116.00,705.75 L117.00,706.38 L117.00,709.20 Z" fill="#f78f95"/>
<path d="M117.00,709.20 L117.00,706.72 L117.90,706.51 L118.80,706.17 L119.70,706.06 L120.60,705.73 L121.50,705.39 L122.40,705.78 L123.30,705.36 L124.20,705.37 L125.10,705.22 L126.00,705.06 L126.00,709.20 Z" fill="#f78f95"/>
<path d="M126.00,709.20 L126.00,704.89 L127.00,704.55 L128.00,704.25 L129.00,704.35 L130.00,703.56 L131.00,703.98 L132.00,703.76 L133.00,703.05 L134.00,703.33 L134.00,709.20 Z" fill="#f78f95"/>
<path d="M134.00,709.20 L134.00,703.30 L134.60,705.45 L135.20,708.43 L135.20,709.20 Z" fill="#f78f95"/>
<path d="M154.60,709.20 L154.60,708.06 L155.51,707.90 L156.41,707.52 L157.32,707.66 L158.22,708.05 L159.13,707.84 L160.04,708.04 L160.94,708.05 L161.85,707.64 L162.75,707.90 L163.66,707.93 L164.56,707.58 L165.47,707.94 L166.38,707.56 L167.28,707.81 L168.19,707.78 L169.09,708.21 L170.00,707.68 L170.00,709.20 Z" fill="#f78f95"/>
<path d="M170.00,709.20 L170.00,708.25 L170.93,708.24 L171.86,708.11 L172.79,708.58 L173.71,708.33 L174.64,708.01 L175.57,708.35 L176.50,708.17 L177.43,708.05 L178.36,708.44 L179.29,708.38 L180.21,708.30 L181.14,708.21 L182.07,708.07 L183.00,708.68 L183.00,709.20 Z" fill="#f78f95"/>
<path d="M60.50,709.20 L60.50,708.90 L61.46,708.65 L62.41,708.75 L63.37,708.70 L64.33,708.90 L65.29,708.88 L66.24,708.62 L67.20,708.63 L67.20,709.20 Z" fill="#f78f95"/>
<line x1="60.50" y1="720.80" x2="183.00" y2="720.80" stroke="#d9d0d0" stroke-width="0.6"/>
<path d="M141.70,720.80 L141.70,720.23 L142.62,719.94 L143.53,719.94 L144.45,720.36 L145.36,719.91 L146.28,719.97 L147.19,719.77 L148.11,719.75 L149.02,719.88 L149.94,720.16 L150.85,720.07 L151.77,719.67 L152.68,719.74 L153.60,719.83 L153.60,720.80 Z" fill="#f78f95"/>
<path d="M154.60,720.80 L154.60,720.06 L155.73,719.49 L156.87,718.71 L158.00,718.45 L158.00,720.80 Z" fill="#f78f95"/>
<path d="M158.00,720.80 L158.00,718.29 L158.93,718.87 L159.87,718.25 L160.80,718.67 L161.73,718.57 L162.67,718.76 L163.60,718.69 L164.53,718.69 L165.47,718.49 L166.40,718.61 L167.33,718.96 L168.27,718.55 L169.20,718.85 L170.13,718.48 L171.07,718.94 L172.00,719.00 L172.00,720.80 Z" fill="#f78f95"/>
<path d="M172.00,720.80 L172.00,719.74 L172.92,719.56 L173.83,719.56 L174.75,719.47 L175.67,719.67 L176.58,719.99 L177.50,719.85 L178.42,719.45 L179.33,719.93 L180.25,720.11 L181.17,719.64 L182.08,720.07 L183.00,720.03 L183.00,720.80 Z" fill="#f78f95"/>
<path d="M60.50,720.80 L60.50,720.50 L61.43,720.25 L62.36,720.35 L63.29,720.30 L64.21,720.50 L65.14,720.48 L66.07,720.22 L67.00,720.23 L67.00,720.80 Z" fill="#f78f95"/>
<rect x="172" y="723.5" width="9.3" height="1.6" fill="#000"/>
<rect x="189.4" y="639.4" width="154.90" height="87.20" fill="none" stroke="#3a3a3a" stroke-width="1"/>
<text x="272.40" y="634.80" font-size="10" fill="#000" text-anchor="middle" font-weight="normal" font-style="italic" >zrt2</text>
<line x1="219.20" y1="648.40" x2="239.30" y2="648.40" stroke="#8c8c8c" stroke-width="0.9"/>
<rect x="219.20" y="646.20" width="1.50" height="4.4" fill="#8c8c8c"/>
<rect x="221.60" y="646.20" width="2.90" height="4.4" fill="#8c8c8c"/>
<rect x="225.40" y="646.20" width="2.50" height="4.4" fill="#8c8c8c"/>
<rect x="228.70" y="647.20" width="1.90" height="2.4" fill="#8c8c8c"/>
<rect x="232.10" y="646.20" width="1.90" height="4.4" fill="#8c8c8c"/>
<rect x="235.50" y="646.20" width="3.80" height="4.4" fill="#8c8c8c"/>
<line x1="237.40" y1="647.10" x2="237.40" y2="649.70" stroke="#d2d2d2" stroke-width="0.45"/>
<rect x="252.4" y="643.3" width="90.70" height="10.80" fill="none" stroke="#f3b550" stroke-width="0.9"/>
<line x1="253.90" y1="648.40" x2="341.80" y2="648.40" stroke="#8c8c8c" stroke-width="0.9"/>
<rect x="253.90" y="647.20" width="5.70" height="2.4" fill="#8c8c8c"/>
<rect x="260.50" y="646.20" width="1.90" height="4.4" fill="#8c8c8c"/>
<rect x="264.70" y="646.20" width="1.90" height="4.4" fill="#8c8c8c"/>
<rect x="269.10" y="646.20" width="2.40" height="4.4" fill="#8c8c8c"/>
<rect x="273.80" y="646.20" width="17.10" height="4.4" fill="#8c8c8c"/>
<line x1="275.35" y1="647.10" x2="275.35" y2="649.70" stroke="#d2d2d2" stroke-width="0.45"/>
<line x1="276.91" y1="647.10" x2="276.91" y2="649.70" stroke="#d2d2d2" stroke-width="0.45"/>
<line x1="278.46" y1="647.10" x2="278.46" y2="649.70" stroke="#d2d2d2" stroke-width="0.45"/>
<line x1="280.02" y1="647.10" x2="280.02" y2="649.70" stroke="#d2d2d2" stroke-width="0.45"/>
<line x1="281.57" y1="647.10" x2="281.57" y2="649.70" stroke="#d2d2d2" stroke-width="0.45"/>
<line x1="283.13" y1="647.10" x2="283.13" y2="649.70" stroke="#d2d2d2" stroke-width="0.45"/>
<line x1="284.68" y1="647.10" x2="284.68" y2="649.70" stroke="#d2d2d2" stroke-width="0.45"/>
<line x1="286.24" y1="647.10" x2="286.24" y2="649.70" stroke="#d2d2d2" stroke-width="0.45"/>
<line x1="287.79" y1="647.10" x2="287.79" y2="649.70" stroke="#d2d2d2" stroke-width="0.45"/>
<line x1="289.35" y1="647.10" x2="289.35" y2="649.70" stroke="#d2d2d2" stroke-width="0.45"/>
<rect x="291.90" y="646.20" width="12.30" height="4.4" fill="#8c8c8c"/>
<line x1="293.44" y1="647.10" x2="293.44" y2="649.70" stroke="#d2d2d2" stroke-width="0.45"/>
<line x1="294.97" y1="647.10" x2="294.97" y2="649.70" stroke="#d2d2d2" stroke-width="0.45"/>
<line x1="296.51" y1="647.10" x2="296.51" y2="649.70" stroke="#d2d2d2" stroke-width="0.45"/>
<line x1="298.05" y1="647.10" x2="298.05" y2="649.70" stroke="#d2d2d2" stroke-width="0.45"/>
<line x1="299.59" y1="647.10" x2="299.59" y2="649.70" stroke="#d2d2d2" stroke-width="0.45"/>
<line x1="301.12" y1="647.10" x2="301.12" y2="649.70" stroke="#d2d2d2" stroke-width="0.45"/>
<line x1="302.66" y1="647.10" x2="302.66" y2="649.70" stroke="#d2d2d2" stroke-width="0.45"/>
<rect x="304.20" y="647.20" width="2.80" height="2.4" fill="#8c8c8c"/>
<rect x="309.90" y="647.20" width="4.70" height="2.4" fill="#8c8c8c"/>
<rect x="315.60" y="646.20" width="13.30" height="4.4" fill="#8c8c8c"/>
<line x1="317.26" y1="647.10" x2="317.26" y2="649.70" stroke="#d2d2d2" stroke-width="0.45"/>
<line x1="318.93" y1="647.10" x2="318.93" y2="649.70" stroke="#d2d2d2" stroke-width="0.45"/>
<line x1="320.59" y1="647.10" x2="320.59" y2="649.70" stroke="#d2d2d2" stroke-width="0.45"/>
<line x1="322.25" y1="647.10" x2="322.25" y2="649.70" stroke="#d2d2d2" stroke-width="0.45"/>
<line x1="323.91" y1="647.10" x2="323.91" y2="649.70" stroke="#d2d2d2" stroke-width="0.45"/>
<line x1="325.57" y1="647.10" x2="325.57" y2="649.70" stroke="#d2d2d2" stroke-width="0.45"/>
<line x1="327.24" y1="647.10" x2="327.24" y2="649.70" stroke="#d2d2d2" stroke-width="0.45"/>
<rect x="329.80" y="646.20" width="12.00" height="4.4" fill="#8c8c8c"/>
<line x1="331.30" y1="647.10" x2="331.30" y2="649.70" stroke="#d2d2d2" stroke-width="0.45"/>
<line x1="332.80" y1="647.10" x2="332.80" y2="649.70" stroke="#d2d2d2" stroke-width="0.45"/>
<line x1="334.30" y1="647.10" x2="334.30" y2="649.70" stroke="#d2d2d2" stroke-width="0.45"/>
<line x1="335.80" y1="647.10" x2="335.80" y2="649.70" stroke="#d2d2d2" stroke-width="0.45"/>
<line x1="337.30" y1="647.10" x2="337.30" y2="649.70" stroke="#d2d2d2" stroke-width="0.45"/>
<line x1="338.80" y1="647.10" x2="338.80" y2="649.70" stroke="#d2d2d2" stroke-width="0.45"/>
<line x1="340.30" y1="647.10" x2="340.30" y2="649.70" stroke="#d2d2d2" stroke-width="0.45"/>
<text x="211.20" y="672.50" font-size="5.6" fill="#000" text-anchor="end" font-weight="normal" font-style="normal" >Control</text>
<text x="211.20" y="688.20" font-size="5.3" fill="#f0a020" text-anchor="end" font-weight="normal" font-style="italic" >Znf1</text>
<text x="205.70" y="708.70" font-size="6.6" fill="#f7a0a6" text-anchor="end" font-weight="normal" font-style="normal" >RNA</text>
<rect x="209.40" y="706.40" width="1.8" height="0.7" fill="#222"/>
<text x="205.70" y="718.00" font-size="6.6" fill="#f7a0a6" text-anchor="end" font-weight="normal" font-style="normal" >RNA</text>
<text x="212.40" y="718.00" font-size="6.5" fill="#222" text-anchor="end" font-weight="bold" font-style="normal" >+</text>
<text x="218.60" y="723.80" font-size="5.4" fill="#f0a020" text-anchor="end">ZnSO<tspan font-size="3.5">4</tspan></text>
<text x="215.90" y="666.00" font-size="3.2" fill="#444" text-anchor="middle" font-weight="normal" font-style="normal" >10</text>
<text x="215.90" y="679.50" font-size="3.2" fill="#444" text-anchor="middle" font-weight="normal" font-style="normal" >10</text>
<text x="216.40" y="703.20" font-size="3.2" fill="#444" text-anchor="middle" font-weight="normal" font-style="normal" >600</text>
<text x="216.40" y="712.70" font-size="3.2" fill="#444" text-anchor="middle" font-weight="normal" font-style="normal" >400</text>
<line x1="219.30" y1="697.70" x2="341.90" y2="697.70" stroke="#eee" stroke-width="0.5"/>
<line x1="219.3" y1="676.3" x2="341.9" y2="676.3" stroke="#8a8a8a" stroke-width="1" stroke-dasharray="7,0.8,4,1.2"/>
<line x1="233" y1="676" x2="241" y2="676" stroke="#333" stroke-width="0.8"/>
<line x1="219.30" y1="687.40" x2="341.90" y2="687.40" stroke="#f8d49a" stroke-width="0.6"/>
<path d="M219.30,687.40 L220.07,687.40 L220.83,687.40 L221.60,687.40 L222.37,687.40 L223.13,687.40 L223.90,687.39 L224.66,687.38 L225.43,687.36 L226.20,687.33 L226.96,687.27 L227.73,687.17 L228.50,687.03 L229.26,686.86 L230.03,686.65 L230.79,686.44 L231.56,686.26 L232.33,686.14 L233.09,686.10 L233.86,686.16 L234.62,686.30 L235.39,686.49 L236.16,686.70 L236.92,686.90 L237.69,687.07 L238.46,687.20 L239.22,687.28 L239.99,687.34 L240.75,687.37 L241.52,687.39 L242.29,687.39 L243.05,687.40 L243.82,687.40 L244.59,687.40 L245.35,687.40 L246.12,687.40 L246.88,687.40 L247.65,687.39 L248.42,687.37 L249.18,687.30 L249.95,687.12 L250.72,686.73 L251.48,685.99 L252.25,684.77 L253.01,683.12 L253.78,681.28 L254.55,679.72 L255.31,678.93 L256.08,679.21 L256.85,680.45 L257.61,682.22 L258.38,684.02 L259.14,685.46 L259.91,686.42 L260.68,686.97 L261.44,687.23 L262.21,687.34 L262.98,687.38 L263.74,687.40 L264.51,687.40 L265.27,687.40 L266.04,687.40 L266.81,687.40 L267.57,687.40 L268.34,687.40 L269.11,687.40 L269.87,687.40 L270.64,687.40 L271.40,687.40 L272.17,687.40 L272.94,687.40 L273.70,687.40 L274.47,687.40 L275.24,687.40 L276.00,687.40 L276.77,687.40 L277.53,687.40 L278.30,687.40 L279.07,687.40 L279.83,687.40 L280.60,687.40 L281.37,687.40 L282.13,687.40 L282.90,687.40 L283.66,687.40 L284.43,687.40 L285.20,687.40 L285.96,687.40 L286.73,687.40 L287.50,687.40 L288.26,687.40 L289.03,687.40 L289.79,687.40 L290.56,687.40 L291.33,687.40 L292.09,687.40 L292.86,687.40 L293.63,687.40 L294.39,687.40 L295.16,687.40 L295.92,687.40 L296.69,687.40 L297.46,687.40 L298.22,687.40 L298.99,687.40 L299.76,687.40 L300.52,687.40 L301.29,687.40 L302.05,687.40 L302.82,687.40 L303.59,687.40 L304.35,687.40 L305.12,687.40 L305.89,687.40 L306.65,687.40 L307.42,687.40 L308.19,687.40 L308.95,687.40 L309.72,687.40 L310.48,687.40 L311.25,687.40 L312.02,687.40 L312.78,687.40 L313.55,687.40 L314.31,687.40 L315.08,687.40 L315.85,687.40 L316.61,687.40 L317.38,687.40 L318.15,687.40 L318.91,687.40 L319.68,687.40 L320.44,687.40 L321.21,687.40 L321.98,687.40 L322.74,687.40 L323.51,687.40 L324.28,687.40 L325.04,687.40 L325.81,687.40 L326.57,687.40 L327.34,687.40 L328.11,687.40 L328.87,687.40 L329.64,687.40 L330.41,687.40 L331.17,687.40 L331.94,687.40 L332.70,687.40 L333.47,687.40 L334.24,687.40 L335.00,687.40 L335.77,687.40 L336.54,687.40 L337.30,687.40 L338.07,687.40 L338.83,687.40 L339.60,687.40 L340.37,687.40 L341.13,687.40 L341.90,687.40 L341.90,687.40 L219.30,687.40 Z" fill="#f0a020"/>
<rect x="251" y="690" width="9.2" height="2.6" fill="#f6b94a"/>
<rect x="255" y="690" width="1" height="2.6" fill="#9ad6a0"/>
<line x1="219.30" y1="710.30" x2="341.90" y2="710.30" stroke="#d9d0d0" stroke-width="0.6"/>
<path d="M219.30,710.30 L219.30,704.97 L220.25,705.55 L221.21,705.03 L222.16,705.29 L223.12,705.31 L224.07,705.36 L225.03,704.71 L225.98,705.14 L226.94,705.15 L227.89,704.65 L228.85,704.60 L229.80,704.71 L229.80,710.30 Z" fill="#f78f95"/>
<path d="M231.10,710.30 L231.10,703.74 L232.09,703.61 L233.07,704.50 L234.06,704.90 L235.05,705.43 L236.04,705.86 L237.03,706.34 L238.01,706.18 L239.00,706.69 L239.00,710.30 Z" fill="#f78f95"/>
<path d="M259.20,710.30 L259.20,708.21 L260.12,708.52 L261.04,708.60 L261.97,708.09 L262.89,707.83 L263.81,708.36 L264.73,707.90 L265.66,708.08 L266.58,707.76 L267.50,707.57 L267.50,710.30 Z" fill="#f78f95"/>
<path d="M269.30,710.30 L269.30,708.35 L270.27,708.55 L271.25,708.57 L272.22,708.17 L273.19,708.42 L274.16,708.25 L275.14,708.06 L276.11,708.04 L277.08,708.50 L278.05,708.30 L279.03,708.25 L280.00,707.98 L280.00,710.30 Z" fill="#f78f95"/>
<path d="M280.00,710.30 L280.00,707.56 L280.95,707.40 L281.91,707.65 L282.86,707.38 L283.82,707.51 L284.77,707.37 L285.73,707.34 L286.68,707.20 L287.64,707.15 L288.59,706.80 L289.55,706.91 L290.50,706.48 L290.50,710.30 Z" fill="#f78f95"/>
<path d="M292.30,710.30 L292.30,706.29 L293.26,706.12 L294.21,705.83 L295.17,705.85 L296.13,705.67 L297.09,705.21 L298.04,704.81 L299.00,704.50 L299.00,710.30 Z" fill="#f78f95"/>
<path d="M299.00,710.30 L299.00,705.10 L300.00,705.00 L301.00,705.44 L302.00,705.93 L303.00,706.55 L304.00,706.93 L305.00,706.91 L306.00,707.21 L307.00,707.54 L307.00,710.30 Z" fill="#f78f95"/>
<path d="M313.50,710.30 L313.50,708.96 L314.46,709.18 L315.42,709.12 L316.38,709.04 L317.33,709.03 L318.29,708.66 L319.25,709.02 L320.21,708.77 L321.17,709.10 L322.12,708.68 L323.08,708.60 L324.04,708.53 L325.00,708.20 L325.00,710.30 Z" fill="#f78f95"/>
<path d="M325.00,710.30 L325.00,708.62 L325.94,708.42 L326.89,709.06 L327.83,708.81 L328.78,708.56 L329.72,708.71 L330.67,708.87 L331.61,708.93 L332.56,708.63 L333.50,708.62 L334.44,708.95 L335.39,709.26 L336.33,708.98 L337.28,709.33 L338.22,709.19 L339.17,709.33 L340.11,709.18 L341.06,709.39 L342.00,708.97 L342.00,710.30 Z" fill="#f78f95"/>
<line x1="219.30" y1="721.40" x2="341.90" y2="721.40" stroke="#d9d0d0" stroke-width="0.6"/>
<path d="M219.30,721.40 L219.30,716.07 L220.25,716.63 L221.21,716.09 L222.16,716.34 L223.12,716.34 L224.07,716.37 L225.03,715.70 L225.98,716.11 L226.94,716.10 L227.89,715.59 L228.85,715.52 L229.80,715.61 L229.80,721.40 Z" fill="#f78f95"/>
<path d="M231.10,721.40 L231.10,714.44 L232.09,714.33 L233.07,715.25 L234.06,715.68 L235.05,716.23 L236.04,716.68 L237.03,717.19 L238.01,717.05 L239.00,717.59 L239.00,721.40 Z" fill="#f78f95"/>
<path d="M262.00,721.40 L262.00,720.76 L262.90,720.90 L263.81,720.78 L264.71,721.10 L265.62,721.05 L266.52,720.86 L267.43,720.88 L268.33,720.76 L269.24,720.95 L270.14,721.08 L271.05,720.66 L271.95,721.03 L272.86,721.10 L273.76,720.76 L274.67,721.08 L275.57,721.10 L276.48,720.50 L277.38,721.07 L278.29,720.90 L279.19,720.63 L280.10,720.89 L281.00,720.40 L281.90,720.57 L282.81,720.67 L283.71,721.07 L284.62,720.83 L285.52,720.57 L286.43,720.70 L287.33,720.97 L288.24,720.87 L289.14,720.49 L290.05,720.57 L290.95,720.51 L291.86,720.32 L292.76,720.80 L293.67,720.36 L294.57,720.65 L295.48,720.44 L296.38,720.92 L297.29,720.83 L298.19,720.42 L299.10,720.35 L300.00,720.69 L300.00,721.40 Z" fill="#f78f95"/>
<path d="M300.00,721.40 L300.00,720.50 L300.92,720.75 L301.85,720.78 L302.77,720.54 L303.69,720.91 L304.62,720.55 L305.54,720.73 L306.46,720.90 L307.38,720.69 L308.31,720.94 L309.23,720.96 L310.15,720.54 L311.08,720.61 L312.00,720.93 L312.00,721.40 Z" fill="#f78f95"/>
<path d="M315.00,721.40 L315.00,720.06 L315.90,720.06 L316.81,719.90 L317.71,720.38 L318.62,719.79 L319.52,719.83 L320.43,719.88 L321.33,720.23 L322.24,719.67 L323.14,720.25 L324.05,720.24 L324.95,719.76 L325.86,719.75 L326.76,720.09 L327.67,720.08 L328.57,719.56 L329.48,719.53 L330.38,719.69 L331.29,719.61 L332.19,719.52 L333.10,719.30 L334.00,719.79 L334.00,721.40 Z" fill="#f78f95"/>
<path d="M334.00,721.40 L334.00,720.20 L335.00,719.91 L336.00,720.47 L337.00,720.13 L338.00,720.13 L339.00,720.15 L340.00,720.59 L341.00,720.10 L342.00,720.06 L342.00,721.40 Z" fill="#f78f95"/>
<rect x="325.2" y="723.6" width="16.7" height="1.6" fill="#000"/>
<rect x="347.8" y="639.4" width="155.20" height="86.80" fill="none" stroke="#3a3a3a" stroke-width="1"/>
<text x="424.40" y="634.80" font-size="10" fill="#000" text-anchor="middle" font-weight="normal" font-style="italic" >zrt3</text>
<line x1="376.20" y1="645.60" x2="402.40" y2="645.60" stroke="#8c8c8c" stroke-width="0.9"/>
<rect x="376.20" y="643.40" width="16.70" height="4.4" fill="#8c8c8c"/>
<line x1="377.72" y1="644.30" x2="377.72" y2="646.90" stroke="#d2d2d2" stroke-width="0.45"/>
<line x1="379.24" y1="644.30" x2="379.24" y2="646.90" stroke="#d2d2d2" stroke-width="0.45"/>
<line x1="380.75" y1="644.30" x2="380.75" y2="646.90" stroke="#d2d2d2" stroke-width="0.45"/>
<line x1="382.27" y1="644.30" x2="382.27" y2="646.90" stroke="#d2d2d2" stroke-width="0.45"/>
<line x1="383.79" y1="644.30" x2="383.79" y2="646.90" stroke="#d2d2d2" stroke-width="0.45"/>
<line x1="385.31" y1="644.30" x2="385.31" y2="646.90" stroke="#d2d2d2" stroke-width="0.45"/>
<line x1="386.83" y1="644.30" x2="386.83" y2="646.90" stroke="#d2d2d2" stroke-width="0.45"/>
<line x1="388.35" y1="644.30" x2="388.35" y2="646.90" stroke="#d2d2d2" stroke-width="0.45"/>
<line x1="389.86" y1="644.30" x2="389.86" y2="646.90" stroke="#d2d2d2" stroke-width="0.45"/>
<line x1="391.38" y1="644.30" x2="391.38" y2="646.90" stroke="#d2d2d2" stroke-width="0.45"/>
<rect x="393.80" y="643.40" width="3.80" height="4.4" fill="#8c8c8c"/>
<line x1="395.70" y1="644.30" x2="395.70" y2="646.90" stroke="#d2d2d2" stroke-width="0.45"/>
<rect x="399.50" y="643.40" width="2.90" height="4.4" fill="#8c8c8c"/>
<line x1="469.20" y1="645.60" x2="501.00" y2="645.60" stroke="#8c8c8c" stroke-width="0.9"/>
<rect x="469.20" y="644.40" width="2.40" height="2.4" fill="#8c8c8c"/>
<rect x="471.60" y="643.40" width="8.60" height="4.4" fill="#8c8c8c"/>
<line x1="473.32" y1="644.30" x2="473.32" y2="646.90" stroke="#d2d2d2" stroke-width="0.45"/>
<line x1="475.04" y1="644.30" x2="475.04" y2="646.90" stroke="#d2d2d2" stroke-width="0.45"/>
<line x1="476.76" y1="644.30" x2="476.76" y2="646.90" stroke="#d2d2d2" stroke-width="0.45"/>
<line x1="478.48" y1="644.30" x2="478.48" y2="646.90" stroke="#d2d2d2" stroke-width="0.45"/>
<rect x="481.10" y="643.40" width="2.90" height="4.4" fill="#8c8c8c"/>
<rect x="485.50" y="643.40" width="11.70" height="4.4" fill="#8c8c8c"/>
<line x1="487.17" y1="644.30" x2="487.17" y2="646.90" stroke="#d2d2d2" stroke-width="0.45"/>
<line x1="488.84" y1="644.30" x2="488.84" y2="646.90" stroke="#d2d2d2" stroke-width="0.45"/>
<line x1="490.51" y1="644.30" x2="490.51" y2="646.90" stroke="#d2d2d2" stroke-width="0.45"/>
<line x1="492.19" y1="644.30" x2="492.19" y2="646.90" stroke="#d2d2d2" stroke-width="0.45"/>
<line x1="493.86" y1="644.30" x2="493.86" y2="646.90" stroke="#d2d2d2" stroke-width="0.45"/>
<line x1="495.53" y1="644.30" x2="495.53" y2="646.90" stroke="#d2d2d2" stroke-width="0.45"/>
<rect x="498.20" y="644.40" width="2.80" height="2.4" fill="#8c8c8c"/>
<rect x="430.4" y="649.4" width="42.20" height="11.40" fill="none" stroke="#f3b550" stroke-width="0.9"/>
<line x1="434.60" y1="655.10" x2="469.70" y2="655.10" stroke="#8c8c8c" stroke-width="0.9"/>
<rect x="435.00" y="652.90" width="1.50" height="4.4" fill="#8c8c8c"/>
<rect x="438.80" y="652.90" width="5.30" height="4.4" fill="#8c8c8c"/>
<line x1="440.57" y1="653.80" x2="440.57" y2="656.40" stroke="#d2d2d2" stroke-width="0.45"/>
<line x1="442.33" y1="653.80" x2="442.33" y2="656.40" stroke="#d2d2d2" stroke-width="0.45"/>
<rect x="445.60" y="652.90" width="13.30" height="4.4" fill="#8c8c8c"/>
<line x1="447.26" y1="653.80" x2="447.26" y2="656.40" stroke="#d2d2d2" stroke-width="0.45"/>
<line x1="448.93" y1="653.80" x2="448.93" y2="656.40" stroke="#d2d2d2" stroke-width="0.45"/>
<line x1="450.59" y1="653.80" x2="450.59" y2="656.40" stroke="#d2d2d2" stroke-width="0.45"/>
<line x1="452.25" y1="653.80" x2="452.25" y2="656.40" stroke="#d2d2d2" stroke-width="0.45"/>
<line x1="453.91" y1="653.80" x2="453.91" y2="656.40" stroke="#d2d2d2" stroke-width="0.45"/>
<line x1="455.57" y1="653.80" x2="455.57" y2="656.40" stroke="#d2d2d2" stroke-width="0.45"/>
<line x1="457.24" y1="653.80" x2="457.24" y2="656.40" stroke="#d2d2d2" stroke-width="0.45"/>
<rect x="460.20" y="652.90" width="7.60" height="4.4" fill="#8c8c8c"/>
<line x1="461.72" y1="653.80" x2="461.72" y2="656.40" stroke="#d2d2d2" stroke-width="0.45"/>
<line x1="463.24" y1="653.80" x2="463.24" y2="656.40" stroke="#d2d2d2" stroke-width="0.45"/>
<line x1="464.76" y1="653.80" x2="464.76" y2="656.40" stroke="#d2d2d2" stroke-width="0.45"/>
<line x1="466.28" y1="653.80" x2="466.28" y2="656.40" stroke="#d2d2d2" stroke-width="0.45"/>
<rect x="467.80" y="653.60" width="1.90" height="3" fill="#8c8c8c"/>
<text x="369.60" y="676.50" font-size="5.6" fill="#000" text-anchor="end" font-weight="normal" font-style="normal" >Control</text>
<text x="369.60" y="689.40" font-size="5.3" fill="#f0a020" text-anchor="end" font-weight="normal" font-style="italic" >Znf1</text>
<text x="364.10" y="706.90" font-size="6.6" fill="#f7a0a6" text-anchor="end" font-weight="normal" font-style="normal" >RNA</text>
<rect x="367.80" y="704.60" width="1.8" height="0.7" fill="#222"/>
<text x="364.10" y="717.40" font-size="6.6" fill="#f7a0a6" text-anchor="end" font-weight="normal" font-style="normal" >RNA</text>
<text x="370.80" y="717.40" font-size="6.5" fill="#222" text-anchor="end" font-weight="bold" font-style="normal" >+</text>
<text x="377.00" y="723.80" font-size="5.4" fill="#f0a020" text-anchor="end">ZnSO<tspan font-size="3.5">4</tspan></text>
<text x="374.30" y="670.00" font-size="3.2" fill="#444" text-anchor="middle" font-weight="normal" font-style="normal" >10</text>
<text x="374.30" y="681.80" font-size="3.2" fill="#444" text-anchor="middle" font-weight="normal" font-style="normal" >10</text>
<text x="374.80" y="701.40" font-size="3.2" fill="#444" text-anchor="middle" font-weight="normal" font-style="normal" >1500</text>
<text x="374.80" y="710.90" font-size="3.2" fill="#444" text-anchor="middle" font-weight="normal" font-style="normal" >1500</text>
<line x1="376.00" y1="698.90" x2="500.80" y2="698.90" stroke="#eee" stroke-width="0.5"/>
<line x1="376" y1="678.3" x2="500.8" y2="678.3" stroke="#333" stroke-width="0.8"/>
<line x1="376.00" y1="688.30" x2="500.80" y2="688.30" stroke="#f8d49a" stroke-width="0.6"/>
<path d="M376.00,688.30 L376.78,688.30 L377.56,688.30 L378.34,688.30 L379.12,688.30 L379.90,688.30 L380.68,688.30 L381.46,688.29 L382.24,688.27 L383.02,688.23 L383.80,688.17 L384.58,688.09 L385.36,688.00 L386.14,687.93 L386.92,687.90 L387.70,687.92 L388.48,687.99 L389.26,688.07 L390.04,688.16 L390.82,688.22 L391.60,688.26 L392.38,688.28 L393.16,688.29 L393.94,688.30 L394.72,688.30 L395.50,688.30 L396.28,688.30 L397.06,688.30 L397.84,688.29 L398.62,688.25 L399.40,688.14 L400.18,687.88 L400.96,687.34 L401.74,686.37 L402.52,684.95 L403.30,683.27 L404.08,681.76 L404.86,680.95 L405.64,681.15 L406.42,682.28 L407.20,683.92 L407.98,685.54 L408.76,686.80 L409.54,687.59 L410.32,688.01 L411.10,688.19 L411.88,688.25 L412.66,688.22 L413.44,688.12 L414.22,687.91 L415.00,687.53 L415.78,686.98 L416.56,686.31 L417.34,685.68 L418.12,685.24 L418.90,685.09 L419.68,685.18 L420.46,685.34 L421.24,685.40 L422.02,685.33 L422.80,685.20 L423.58,685.13 L424.36,685.14 L425.14,685.06 L425.92,684.65 L426.70,683.77 L427.48,682.55 L428.26,681.42 L429.04,680.84 L429.82,681.08 L430.60,682.05 L431.38,683.43 L432.16,684.86 L432.94,686.07 L433.72,686.97 L434.50,687.57 L435.28,687.93 L436.06,688.13 L436.84,688.23 L437.62,688.28 L438.40,688.29 L439.18,688.30 L439.96,688.30 L440.74,688.30 L441.52,688.30 L442.30,688.30 L443.08,688.30 L443.86,688.30 L444.64,688.30 L445.42,688.30 L446.20,688.30 L446.98,688.30 L447.76,688.30 L448.54,688.30 L449.32,688.30 L450.10,688.30 L450.88,688.30 L451.66,688.30 L452.44,688.30 L453.22,688.30 L454.00,688.30 L454.78,688.30 L455.56,688.30 L456.34,688.30 L457.12,688.30 L457.90,688.30 L458.68,688.30 L459.46,688.30 L460.24,688.30 L461.02,688.30 L461.80,688.30 L462.58,688.30 L463.36,688.30 L464.14,688.29 L464.92,688.25 L465.70,688.13 L466.48,687.83 L467.26,687.22 L468.04,686.26 L468.82,685.13 L469.60,684.24 L470.38,684.02 L471.16,684.59 L471.94,685.65 L472.72,686.74 L473.50,687.55 L474.28,688.00 L475.06,688.20 L475.84,688.27 L476.62,688.29 L477.40,688.30 L478.18,688.30 L478.96,688.30 L479.74,688.30 L480.52,688.30 L481.30,688.30 L482.08,688.30 L482.86,688.30 L483.64,688.30 L484.42,688.30 L485.20,688.30 L485.98,688.30 L486.76,688.30 L487.54,688.30 L488.32,688.30 L489.10,688.30 L489.88,688.30 L490.66,688.30 L491.44,688.30 L492.22,688.30 L493.00,688.30 L493.78,688.30 L494.56,688.30 L495.34,688.30 L496.12,688.30 L496.90,688.30 L497.68,688.30 L498.46,688.30 L499.24,688.30 L500.02,688.30 L500.80,688.30 L500.80,688.30 L376.00,688.30 Z" fill="#f0a020"/>
<rect x="400.7" y="690.5" width="9.3" height="2.4" fill="#f3a52a"/>
<rect x="404.5" y="690.5" width="1" height="2.4" fill="#9ad6a0"/>
<rect x="419" y="690.5" width="14.8" height="2.4" fill="#fbe3bd"/>
<rect x="467.8" y="690.5" width="5.7" height="2.4" fill="#fbd597"/>
<rect x="470" y="690.5" width="1" height="2.4" fill="#9ad6a0"/>
<rect x="421" y="690.5" width="1" height="2.4" fill="#b5e3d0"/>
<line x1="376.00" y1="709.20" x2="500.80" y2="709.20" stroke="#d9d0d0" stroke-width="0.6"/>
<path d="M434.30,709.20 L434.30,706.16 L435.27,705.79 L436.25,705.73 L437.22,705.80 L438.19,705.84 L439.16,705.95 L440.14,705.58 L441.11,705.96 L442.08,705.55 L443.05,705.47 L444.03,705.73 L445.00,705.37 L445.00,709.20 Z" fill="#f78f95"/>
<path d="M445.00,709.20 L445.00,705.53 L445.94,705.26 L446.88,705.57 L447.81,705.84 L448.75,705.33 L449.69,705.33 L450.62,705.23 L451.56,705.85 L452.50,705.49 L453.44,705.34 L454.38,705.68 L455.31,705.48 L456.25,705.30 L457.19,705.28 L458.12,705.77 L459.06,705.33 L460.00,705.46 L460.00,709.20 Z" fill="#f78f95"/>
<path d="M460.00,709.20 L460.00,705.24 L460.98,705.09 L461.95,704.89 L462.93,704.96 L463.90,704.95 L464.88,704.79 L465.85,705.12 L466.82,705.11 L467.80,704.63 L467.80,709.20 Z" fill="#f78f95"/>
<line x1="376.00" y1="719.20" x2="500.80" y2="719.20" stroke="#d9d0d0" stroke-width="0.6"/>
<path d="M376.00,719.20 L376.00,718.90 L376.90,718.68 L377.80,718.90 L378.70,718.90 L379.60,718.63 L380.50,718.79 L381.40,718.86 L382.30,718.90 L383.20,718.67 L384.10,718.57 L385.00,718.43 L385.90,718.82 L386.80,718.64 L387.70,718.90 L388.60,718.82 L389.50,718.65 L390.40,718.77 L391.30,718.51 L392.20,718.90 L393.10,718.72 L394.00,718.72 L394.90,718.54 L395.80,718.72 L396.70,718.54 L397.60,718.82 L398.50,718.90 L399.40,718.80 L400.30,718.47 L401.20,718.62 L402.10,718.70 L403.00,718.86 L403.00,719.20 Z" fill="#f78f95"/>
<path d="M488.00,719.20 L488.00,718.79 L488.91,718.90 L489.83,718.62 L490.74,718.90 L491.66,718.60 L492.57,718.52 L493.49,718.70 L494.40,718.83 L495.31,718.61 L496.23,718.49 L497.14,718.90 L498.06,718.56 L498.97,718.78 L499.89,718.90 L500.80,718.90 L500.80,719.20 Z" fill="#f78f95"/>
<rect x="488.9" y="723" width="11.9" height="1.6" fill="#000"/>
<rect x="507.3" y="638.6" width="156.10" height="87.60" fill="none" stroke="#3a3a3a" stroke-width="1"/>
<text x="588.00" y="634.80" font-size="10" fill="#000" text-anchor="middle" font-weight="normal" font-style="italic" >zrg17</text>
<rect x="565.2" y="641.4" width="93.60" height="11.40" fill="none" stroke="#f3b550" stroke-width="0.9"/>
<line x1="567.10" y1="647.10" x2="655.30" y2="647.10" stroke="#8c8c8c" stroke-width="0.9"/>
<rect x="567.10" y="645.90" width="2.90" height="2.4" fill="#8c8c8c"/>
<rect x="570.00" y="644.90" width="18.00" height="4.4" fill="#8c8c8c"/>
<line x1="571.50" y1="645.80" x2="571.50" y2="648.40" stroke="#d2d2d2" stroke-width="0.45"/>
<line x1="573.00" y1="645.80" x2="573.00" y2="648.40" stroke="#d2d2d2" stroke-width="0.45"/>
<line x1="574.50" y1="645.80" x2="574.50" y2="648.40" stroke="#d2d2d2" stroke-width="0.45"/>
<line x1="576.00" y1="645.80" x2="576.00" y2="648.40" stroke="#d2d2d2" stroke-width="0.45"/>
<line x1="577.50" y1="645.80" x2="577.50" y2="648.40" stroke="#d2d2d2" stroke-width="0.45"/>
<line x1="579.00" y1="645.80" x2="579.00" y2="648.40" stroke="#d2d2d2" stroke-width="0.45"/>
<line x1="580.50" y1="645.80" x2="580.50" y2="648.40" stroke="#d2d2d2" stroke-width="0.45"/>
<line x1="582.00" y1="645.80" x2="582.00" y2="648.40" stroke="#d2d2d2" stroke-width="0.45"/>
<line x1="583.50" y1="645.80" x2="583.50" y2="648.40" stroke="#d2d2d2" stroke-width="0.45"/>
<line x1="585.00" y1="645.80" x2="585.00" y2="648.40" stroke="#d2d2d2" stroke-width="0.45"/>
<line x1="586.50" y1="645.80" x2="586.50" y2="648.40" stroke="#d2d2d2" stroke-width="0.45"/>
<rect x="591.80" y="644.90" width="20.80" height="4.4" fill="#8c8c8c"/>
<line x1="593.40" y1="645.80" x2="593.40" y2="648.40" stroke="#d2d2d2" stroke-width="0.45"/>
<line x1="595.00" y1="645.80" x2="595.00" y2="648.40" stroke="#d2d2d2" stroke-width="0.45"/>
<line x1="596.60" y1="645.80" x2="596.60" y2="648.40" stroke="#d2d2d2" stroke-width="0.45"/>
<line x1="598.20" y1="645.80" x2="598.20" y2="648.40" stroke="#d2d2d2" stroke-width="0.45"/>
<line x1="599.80" y1="645.80" x2="599.80" y2="648.40" stroke="#d2d2d2" stroke-width="0.45"/>
<line x1="601.40" y1="645.80" x2="601.40" y2="648.40" stroke="#d2d2d2" stroke-width="0.45"/>
<line x1="603.00" y1="645.80" x2="603.00" y2="648.40" stroke="#d2d2d2" stroke-width="0.45"/>
<line x1="604.60" y1="645.80" x2="604.60" y2="648.40" stroke="#d2d2d2" stroke-width="0.45"/>
<line x1="606.20" y1="645.80" x2="606.20" y2="648.40" stroke="#d2d2d2" stroke-width="0.45"/>
<line x1="607.80" y1="645.80" x2="607.80" y2="648.40" stroke="#d2d2d2" stroke-width="0.45"/>
<line x1="609.40" y1="645.80" x2="609.40" y2="648.40" stroke="#d2d2d2" stroke-width="0.45"/>
<line x1="611.00" y1="645.80" x2="611.00" y2="648.40" stroke="#d2d2d2" stroke-width="0.45"/>
<rect x="614.00" y="644.90" width="29.00" height="4.4" fill="#8c8c8c"/>
<line x1="615.53" y1="645.80" x2="615.53" y2="648.40" stroke="#d2d2d2" stroke-width="0.45"/>
<line x1="617.05" y1="645.80" x2="617.05" y2="648.40" stroke="#d2d2d2" stroke-width="0.45"/>
<line x1="618.58" y1="645.80" x2="618.58" y2="648.40" stroke="#d2d2d2" stroke-width="0.45"/>
<line x1="620.11" y1="645.80" x2="620.11" y2="648.40" stroke="#d2d2d2" stroke-width="0.45"/>
<line x1="621.63" y1="645.80" x2="621.63" y2="648.40" stroke="#d2d2d2" stroke-width="0.45"/>
<line x1="623.16" y1="645.80" x2="623.16" y2="648.40" stroke="#d2d2d2" stroke-width="0.45"/>
<line x1="624.68" y1="645.80" x2="624.68" y2="648.40" stroke="#d2d2d2" stroke-width="0.45"/>
<line x1="626.21" y1="645.80" x2="626.21" y2="648.40" stroke="#d2d2d2" stroke-width="0.45"/>
<line x1="627.74" y1="645.80" x2="627.74" y2="648.40" stroke="#d2d2d2" stroke-width="0.45"/>
<line x1="629.26" y1="645.80" x2="629.26" y2="648.40" stroke="#d2d2d2" stroke-width="0.45"/>
<line x1="630.79" y1="645.80" x2="630.79" y2="648.40" stroke="#d2d2d2" stroke-width="0.45"/>
<line x1="632.32" y1="645.80" x2="632.32" y2="648.40" stroke="#d2d2d2" stroke-width="0.45"/>
<line x1="633.84" y1="645.80" x2="633.84" y2="648.40" stroke="#d2d2d2" stroke-width="0.45"/>
<line x1="635.37" y1="645.80" x2="635.37" y2="648.40" stroke="#d2d2d2" stroke-width="0.45"/>
<line x1="636.89" y1="645.80" x2="636.89" y2="648.40" stroke="#d2d2d2" stroke-width="0.45"/>
<line x1="638.42" y1="645.80" x2="638.42" y2="648.40" stroke="#d2d2d2" stroke-width="0.45"/>
<line x1="639.95" y1="645.80" x2="639.95" y2="648.40" stroke="#d2d2d2" stroke-width="0.45"/>
<line x1="641.47" y1="645.80" x2="641.47" y2="648.40" stroke="#d2d2d2" stroke-width="0.45"/>
<rect x="645.90" y="644.90" width="7.50" height="4.4" fill="#8c8c8c"/>
<line x1="647.40" y1="645.80" x2="647.40" y2="648.40" stroke="#d2d2d2" stroke-width="0.45"/>
<line x1="648.90" y1="645.80" x2="648.90" y2="648.40" stroke="#d2d2d2" stroke-width="0.45"/>
<line x1="650.40" y1="645.80" x2="650.40" y2="648.40" stroke="#d2d2d2" stroke-width="0.45"/>
<line x1="651.90" y1="645.80" x2="651.90" y2="648.40" stroke="#d2d2d2" stroke-width="0.45"/>
<rect x="653.40" y="645.90" width="1.90" height="2.4" fill="#8c8c8c"/>
<line x1="537.70" y1="657.00" x2="567.10" y2="657.00" stroke="#8c8c8c" stroke-width="0.9"/>
<rect x="537.70" y="654.80" width="2.80" height="4.4" fill="#8c8c8c"/>
<rect x="546.20" y="654.80" width="13.30" height="4.4" fill="#8c8c8c"/>
<line x1="547.86" y1="655.70" x2="547.86" y2="658.30" stroke="#d2d2d2" stroke-width="0.45"/>
<line x1="549.53" y1="655.70" x2="549.53" y2="658.30" stroke="#d2d2d2" stroke-width="0.45"/>
<line x1="551.19" y1="655.70" x2="551.19" y2="658.30" stroke="#d2d2d2" stroke-width="0.45"/>
<line x1="552.85" y1="655.70" x2="552.85" y2="658.30" stroke="#d2d2d2" stroke-width="0.45"/>
<line x1="554.51" y1="655.70" x2="554.51" y2="658.30" stroke="#d2d2d2" stroke-width="0.45"/>
<line x1="556.17" y1="655.70" x2="556.17" y2="658.30" stroke="#d2d2d2" stroke-width="0.45"/>
<line x1="557.84" y1="655.70" x2="557.84" y2="658.30" stroke="#d2d2d2" stroke-width="0.45"/>
<rect x="559.50" y="655.80" width="7.60" height="2.4" fill="#8c8c8c"/>
<text x="529.10" y="677.80" font-size="5.6" fill="#000" text-anchor="end" font-weight="normal" font-style="normal" >Control</text>
<text x="529.10" y="690.50" font-size="5.3" fill="#f0a020" text-anchor="end" font-weight="normal" font-style="italic" >Znf1</text>
<text x="523.60" y="707.20" font-size="6.6" fill="#f7a0a6" text-anchor="end" font-weight="normal" font-style="normal" >RNA</text>
<rect x="527.30" y="704.90" width="1.8" height="0.7" fill="#222"/>
<text x="523.60" y="718.00" font-size="6.6" fill="#f7a0a6" text-anchor="end" font-weight="normal" font-style="normal" >RNA</text>
<text x="530.30" y="718.00" font-size="6.5" fill="#222" text-anchor="end" font-weight="bold" font-style="normal" >+</text>
<text x="536.50" y="724.80" font-size="5.4" fill="#f0a020" text-anchor="end">ZnSO<tspan font-size="3.5">4</tspan></text>
<text x="533.80" y="671.30" font-size="3.2" fill="#444" text-anchor="middle" font-weight="normal" font-style="normal" >10</text>
<text x="533.80" y="683.90" font-size="3.2" fill="#444" text-anchor="middle" font-weight="normal" font-style="normal" >10</text>
<text x="534.30" y="701.70" font-size="3.2" fill="#444" text-anchor="middle" font-weight="normal" font-style="normal" >900</text>
<text x="534.30" y="711.20" font-size="3.2" fill="#444" text-anchor="middle" font-weight="normal" font-style="normal" >900</text>
<line x1="535.90" y1="700.00" x2="661.50" y2="700.00" stroke="#eee" stroke-width="0.5"/>
<line x1="535.9" y1="680.4" x2="661.5" y2="680.4" stroke="#444" stroke-width="0.8"/>
<line x1="535.90" y1="690.00" x2="661.50" y2="690.00" stroke="#f8d49a" stroke-width="0.6"/>
<path d="M535.90,690.00 L536.68,690.00 L537.47,690.00 L538.25,690.00 L539.04,690.00 L539.82,690.00 L540.61,690.00 L541.39,690.00 L542.18,690.00 L542.97,690.00 L543.75,690.00 L544.53,690.00 L545.32,690.00 L546.11,690.00 L546.89,690.00 L547.67,690.00 L548.46,689.99 L549.25,689.99 L550.03,689.98 L550.81,689.96 L551.60,689.94 L552.38,689.90 L553.17,689.85 L553.95,689.78 L554.74,689.68 L555.52,689.54 L556.31,689.36 L557.10,689.12 L557.88,688.82 L558.66,688.45 L559.45,688.01 L560.24,687.50 L561.02,686.93 L561.80,686.31 L562.59,685.66 L563.38,685.01 L564.16,684.38 L564.94,683.82 L565.73,683.34 L566.51,682.98 L567.30,682.76 L568.09,682.70 L568.87,682.80 L569.65,683.05 L570.44,683.43 L571.23,683.93 L572.01,684.52 L572.79,685.15 L573.58,685.80 L574.37,686.45 L575.15,687.06 L575.93,687.62 L576.72,688.11 L577.50,688.54 L578.29,688.89 L579.07,689.18 L579.86,689.40 L580.64,689.57 L581.43,689.70 L582.22,689.80 L583.00,689.87 L583.78,689.91 L584.57,689.94 L585.36,689.97 L586.14,689.98 L586.92,689.99 L587.71,689.99 L588.50,690.00 L589.28,690.00 L590.06,690.00 L590.85,690.00 L591.63,690.00 L592.42,690.00 L593.20,690.00 L593.99,690.00 L594.77,690.00 L595.56,690.00 L596.35,690.00 L597.13,690.00 L597.91,690.00 L598.70,690.00 L599.49,690.00 L600.27,690.00 L601.05,690.00 L601.84,690.00 L602.62,690.00 L603.41,690.00 L604.19,690.00 L604.98,690.00 L605.76,690.00 L606.55,690.00 L607.34,690.00 L608.12,690.00 L608.90,690.00 L609.69,690.00 L610.48,690.00 L611.26,690.00 L612.04,690.00 L612.83,690.00 L613.62,690.00 L614.40,690.00 L615.18,690.00 L615.97,690.00 L616.75,690.00 L617.54,690.00 L618.33,690.00 L619.11,690.00 L619.89,690.00 L620.68,690.00 L621.47,690.00 L622.25,690.00 L623.03,690.00 L623.82,690.00 L624.61,690.00 L625.39,690.00 L626.17,690.00 L626.96,690.00 L627.75,690.00 L628.53,690.00 L629.32,690.00 L630.10,690.00 L630.88,690.00 L631.67,690.00 L632.46,690.00 L633.24,690.00 L634.02,690.00 L634.81,690.00 L635.60,690.00 L636.38,690.00 L637.16,690.00 L637.95,690.00 L638.74,690.00 L639.52,690.00 L640.30,690.00 L641.09,690.00 L641.88,690.00 L642.66,690.00 L643.45,690.00 L644.23,689.99 L645.01,689.99 L645.80,689.98 L646.59,689.96 L647.37,689.93 L648.15,689.90 L648.94,689.84 L649.73,689.76 L650.51,689.65 L651.29,689.49 L652.08,689.28 L652.87,689.01 L653.65,688.66 L654.43,688.23 L655.22,687.71 L656.00,687.11 L656.79,686.43 L657.58,685.68 L658.36,684.89 L659.14,684.08 L659.93,683.30 L660.72,682.57 L661.50,681.95 L661.50,690.00 L535.90,690.00 Z" fill="#f0a020"/>
<rect x="556.4" y="692.3" width="20.4" height="2.4" fill="#f6b94a"/>
<rect x="567.3" y="692.3" width="0.9" height="2.4" fill="#9ad6a0"/>
<rect x="651.2" y="692.3" width="10.3" height="2.4" fill="#f6b94a"/>
<line x1="535.90" y1="709.50" x2="661.50" y2="709.50" stroke="#d9d0d0" stroke-width="0.6"/>
<path d="M568.00,709.50 L568.00,708.28 L569.00,708.02 L570.00,707.31 L571.00,707.61 L572.00,707.03 L573.00,706.89 L574.00,706.28 L575.00,706.14 L575.00,709.50 Z" fill="#f78f95"/>
<path d="M575.00,709.50 L575.00,705.76 L576.00,706.13 L577.00,705.92 L578.00,705.54 L579.00,705.47 L580.00,705.41 L581.00,705.16 L581.00,709.50 Z" fill="#f78f95"/>
<path d="M581.00,709.50 L581.00,706.45 L582.00,706.48 L583.00,706.82 L584.00,706.77 L585.00,706.66 L586.00,707.05 L587.00,706.71 L588.00,707.28 L589.00,707.31 L589.00,709.50 Z" fill="#f78f95"/>
<path d="M589.00,709.50 L589.00,707.13 L589.94,706.80 L590.88,706.97 L591.82,706.60 L592.76,706.27 L593.71,706.24 L594.65,706.06 L595.59,706.59 L596.53,706.17 L597.47,706.11 L598.41,706.20 L599.35,705.69 L600.29,706.17 L601.24,705.88 L602.18,705.97 L603.12,705.60 L604.06,705.56 L605.00,705.24 L605.00,709.50 Z" fill="#f78f95"/>
<path d="M605.00,709.50 L605.00,705.09 L605.94,704.85 L606.89,705.03 L607.83,705.07 L608.78,705.09 L609.72,704.93 L610.67,704.70 L611.61,704.47 L612.56,704.71 L613.50,704.26 L614.44,704.43 L615.39,704.25 L616.33,704.48 L617.28,704.20 L618.22,703.78 L619.17,704.17 L620.11,704.01 L621.06,703.65 L622.00,703.58 L622.00,709.50 Z" fill="#f78f95"/>
<path d="M622.00,709.50 L622.00,703.80 L622.94,703.76 L623.89,704.11 L624.83,704.17 L625.78,703.66 L626.72,704.30 L627.67,704.33 L628.61,704.18 L629.56,704.04 L630.50,703.81 L631.44,704.00 L632.39,703.84 L633.33,704.12 L634.28,704.08 L635.22,704.49 L636.17,704.01 L637.11,704.03 L638.06,704.45 L639.00,704.52 L639.00,709.50 Z" fill="#f78f95"/>
<path d="M639.00,709.50 L639.00,705.03 L639.90,704.85 L640.80,705.24 L641.70,704.79 L642.60,705.44 L643.50,705.34 L644.40,705.89 L645.30,705.99 L646.20,706.11 L647.10,706.16 L648.00,705.79 L648.00,709.50 Z" fill="#f78f95"/>
<path d="M648.00,709.50 L648.00,706.77 L648.92,706.41 L649.83,706.79 L650.75,707.25 L651.67,707.43 L652.58,707.51 L653.50,708.00 L654.42,708.32 L655.33,707.93 L656.25,708.18 L657.17,708.85 L658.08,708.92 L659.00,709.02 L659.00,709.50 Z" fill="#f78f95"/>
<line x1="535.90" y1="719.50" x2="661.50" y2="719.50" stroke="#d9d0d0" stroke-width="0.6"/>
<path d="M536.00,719.50 L536.00,719.03 L537.00,718.37 L538.00,718.89 L539.00,718.84 L540.00,718.74 L541.00,718.40 L541.00,719.50 Z" fill="#f78f95"/>
<path d="M544.00,719.50 L544.00,718.70 L544.92,718.28 L545.85,718.75 L546.77,718.17 L547.69,718.19 L548.62,718.27 L549.54,718.50 L550.46,718.62 L551.38,718.18 L552.31,718.60 L553.23,718.77 L554.15,718.66 L555.08,718.18 L556.00,718.68 L556.00,719.50 Z" fill="#f78f95"/>
<path d="M556.00,719.50 L556.00,718.62 L557.00,719.16 L558.00,719.13 L559.00,719.14 L560.00,719.20 L560.00,719.50 Z" fill="#f78f95"/>
<path d="M575.00,719.50 L575.00,718.96 L575.90,719.20 L576.81,719.20 L577.71,719.09 L578.61,719.14 L579.52,719.19 L580.42,719.06 L581.33,718.89 L582.23,718.99 L583.13,719.06 L584.04,719.20 L584.94,719.17 L585.84,718.85 L586.75,719.19 L587.65,719.19 L588.55,719.20 L589.46,718.90 L590.36,719.20 L591.27,719.15 L592.17,719.20 L593.07,719.20 L593.98,718.91 L594.88,719.20 L595.78,719.04 L596.69,719.11 L597.59,719.20 L598.49,718.95 L599.40,719.04 L600.30,718.91 L601.20,719.20 L602.11,719.20 L603.01,718.81 L603.92,719.10 L604.82,718.88 L605.72,719.20 L606.63,719.19 L607.53,718.88 L608.43,718.85 L609.34,719.20 L610.24,719.03 L611.14,718.78 L612.05,719.20 L612.95,719.20 L613.86,719.18 L614.76,719.20 L615.66,718.78 L616.57,718.84 L617.47,718.79 L618.37,719.15 L619.28,719.02 L620.18,719.20 L621.08,718.99 L621.99,719.20 L622.89,719.10 L623.80,719.20 L624.70,719.05 L625.60,719.20 L626.51,718.76 L627.41,718.93 L628.31,719.20 L629.22,719.20 L630.12,719.20 L631.02,718.97 L631.93,718.83 L632.83,719.20 L633.73,719.20 L634.64,719.03 L635.54,719.20 L636.45,718.89 L637.35,718.88 L638.25,719.20 L639.16,719.20 L640.06,718.89 L640.96,718.94 L641.87,719.20 L642.77,719.18 L643.67,718.77 L644.58,719.20 L645.48,719.20 L646.39,718.97 L647.29,719.20 L648.19,718.89 L649.10,719.00 L650.00,718.91 L650.00,719.50 Z" fill="#f78f95"/>
<rect x="626.9" y="723.6" width="34.6" height="1.6" fill="#000"/>
<text x="59.20" y="758.40" font-size="16" fill="#000" text-anchor="start" font-weight="normal" font-style="normal" >g</text>
<line x1="111.1" y1="766.1" x2="111.1" y2="900.3" stroke="#111" stroke-width="1.1"/>
<line x1="110.5" y1="900" x2="639.8" y2="900" stroke="#111" stroke-width="1.1"/>
<line x1="103.3" y1="766.11" x2="111.1" y2="766.11" stroke="#111" stroke-width="1.1"/>
<text x="101.70" y="770.01" font-size="11" fill="#111" text-anchor="end" font-weight="normal" font-style="normal" >15</text>
<line x1="103.3" y1="810.84" x2="111.1" y2="810.84" stroke="#111" stroke-width="1.1"/>
<text x="101.70" y="814.74" font-size="11" fill="#111" text-anchor="end" font-weight="normal" font-style="normal" >10</text>
<line x1="103.3" y1="855.57" x2="111.1" y2="855.57" stroke="#111" stroke-width="1.1"/>
<text x="101.70" y="859.47" font-size="11" fill="#111" text-anchor="end" font-weight="normal" font-style="normal" >5</text>
<text x="0" y="0" font-size="12.2" fill="#111" text-anchor="middle" transform="translate(75,840) rotate(-90)" letter-spacing="0.12">Relative expression</text>
<rect x="116.00" y="770" width="51.7" height="3" fill="#e8804a"/>
<text x="140.30" y="765.00" font-size="12" fill="#111" text-anchor="middle" font-weight="normal" font-style="italic" >zrt1</text>
<rect x="115.30" y="890.80" width="9.6" height="9.20" fill="#7b6cd9"/>
<line x1="120.10" y1="889.00" x2="120.10" y2="890.80" stroke="#333" stroke-width="0.6"/>
<line x1="118.60" y1="890.80" x2="121.60" y2="890.80" stroke="#333" stroke-width="0.7"/>
<circle cx="117.70" cy="889.30" r="2.8" fill="none" stroke="#555" stroke-width="0.6"/>
<circle cx="120.10" cy="889.00" r="2.8" fill="none" stroke="#555" stroke-width="0.6"/>
<circle cx="122.50" cy="889.30" r="2.8" fill="none" stroke="#555" stroke-width="0.6"/>
<rect x="129.50" y="851.40" width="9.6" height="48.60" fill="#dddbee"/>
<line x1="134.30" y1="849.60" x2="134.30" y2="851.40" stroke="#333" stroke-width="0.6"/>
<line x1="132.80" y1="851.40" x2="135.80" y2="851.40" stroke="#333" stroke-width="0.7"/>
<circle cx="131.90" cy="849.90" r="2.8" fill="none" stroke="#555" stroke-width="0.6"/>
<circle cx="134.30" cy="849.60" r="2.8" fill="none" stroke="#555" stroke-width="0.6"/>
<circle cx="136.70" cy="849.90" r="2.8" fill="none" stroke="#555" stroke-width="0.6"/>
<rect x="143.70" y="890.40" width="9.6" height="9.60" fill="#7b6cd9"/>
<line x1="148.50" y1="888.60" x2="148.50" y2="890.40" stroke="#333" stroke-width="0.6"/>
<line x1="147.00" y1="890.40" x2="150.00" y2="890.40" stroke="#333" stroke-width="0.7"/>
<circle cx="146.10" cy="888.90" r="2.8" fill="none" stroke="#555" stroke-width="0.6"/>
<circle cx="148.50" cy="888.60" r="2.8" fill="none" stroke="#555" stroke-width="0.6"/>
<circle cx="150.90" cy="888.90" r="2.8" fill="none" stroke="#555" stroke-width="0.6"/>
<rect x="157.90" y="891.70" width="9.6" height="8.30" fill="#dddbee"/>
<line x1="162.70" y1="889.90" x2="162.70" y2="891.70" stroke="#333" stroke-width="0.6"/>
<line x1="161.20" y1="891.70" x2="164.20" y2="891.70" stroke="#333" stroke-width="0.7"/>
<circle cx="160.30" cy="890.20" r="2.8" fill="none" stroke="#555" stroke-width="0.6"/>
<circle cx="162.70" cy="889.90" r="2.8" fill="none" stroke="#555" stroke-width="0.6"/>
<circle cx="165.10" cy="890.20" r="2.8" fill="none" stroke="#555" stroke-width="0.6"/>
<text x="0" y="0" font-size="12" fill="#111" text-anchor="end" transform="translate(131.90,910.5) rotate(-35)">WT</text>
<text x="0" y="0" font-size="12" fill="#111" text-anchor="end" transform="translate(161.50,910.5) rotate(-35)">znf1Δ</text>
<rect x="184.50" y="770" width="51.7" height="3" fill="#aaaaaa"/>
<text x="207.40" y="765.00" font-size="12" fill="#111" text-anchor="middle" font-weight="normal" font-style="italic" >zrt2</text>
<rect x="183.80" y="892.10" width="9.6" height="7.90" fill="#7b6cd9"/>
<line x1="188.60" y1="890.30" x2="188.60" y2="892.10" stroke="#333" stroke-width="0.6"/>
<line x1="187.10" y1="892.10" x2="190.10" y2="892.10" stroke="#333" stroke-width="0.7"/>
<circle cx="186.20" cy="890.60" r="2.8" fill="none" stroke="#555" stroke-width="0.6"/>
<circle cx="188.60" cy="890.30" r="2.8" fill="none" stroke="#555" stroke-width="0.6"/>
<circle cx="191.00" cy="890.60" r="2.8" fill="none" stroke="#555" stroke-width="0.6"/>
<rect x="198.00" y="788.00" width="9.6" height="112.00" fill="#dddbee"/>
<line x1="202.80" y1="775.00" x2="202.80" y2="788.00" stroke="#333" stroke-width="0.6"/>
<line x1="201.30" y1="788.00" x2="204.30" y2="788.00" stroke="#333" stroke-width="0.7"/>
<circle cx="202.20" cy="775.00" r="2.8" fill="none" stroke="#555" stroke-width="0.6"/>
<circle cx="199.90" cy="787.50" r="2.8" fill="none" stroke="#555" stroke-width="0.6"/>
<circle cx="204.10" cy="786.20" r="2.8" fill="none" stroke="#555" stroke-width="0.6"/>
<rect x="212.20" y="886.60" width="9.6" height="13.40" fill="#7b6cd9"/>
<line x1="217.00" y1="884.80" x2="217.00" y2="886.60" stroke="#333" stroke-width="0.6"/>
<line x1="215.50" y1="886.60" x2="218.50" y2="886.60" stroke="#333" stroke-width="0.7"/>
<circle cx="214.60" cy="885.10" r="2.8" fill="none" stroke="#555" stroke-width="0.6"/>
<circle cx="217.00" cy="884.80" r="2.8" fill="none" stroke="#555" stroke-width="0.6"/>
<circle cx="219.40" cy="885.10" r="2.8" fill="none" stroke="#555" stroke-width="0.6"/>
<rect x="226.40" y="812.70" width="9.6" height="87.30" fill="#dddbee"/>
<line x1="231.20" y1="805.70" x2="231.20" y2="812.70" stroke="#333" stroke-width="0.6"/>
<line x1="229.70" y1="812.70" x2="232.70" y2="812.70" stroke="#333" stroke-width="0.7"/>
<circle cx="229.80" cy="805.70" r="2.8" fill="none" stroke="#555" stroke-width="0.6"/>
<circle cx="234.50" cy="809.90" r="2.8" fill="none" stroke="#555" stroke-width="0.6"/>
<circle cx="229.80" cy="813.70" r="2.8" fill="none" stroke="#555" stroke-width="0.6"/>
<text x="0" y="0" font-size="12" fill="#111" text-anchor="end" transform="translate(200.40,910.5) rotate(-35)">WT</text>
<text x="0" y="0" font-size="12" fill="#111" text-anchor="end" transform="translate(230.00,910.5) rotate(-35)">znf1Δ</text>
<rect x="253.30" y="770" width="51.7" height="3" fill="#e8804a"/>
<text x="276.20" y="765.00" font-size="12" fill="#111" text-anchor="middle" font-weight="normal" font-style="italic" >zrt3</text>
<rect x="252.60" y="891.60" width="9.6" height="8.40" fill="#7b6cd9"/>
<line x1="257.40" y1="889.80" x2="257.40" y2="891.60" stroke="#333" stroke-width="0.6"/>
<line x1="255.90" y1="891.60" x2="258.90" y2="891.60" stroke="#333" stroke-width="0.7"/>
<circle cx="255.00" cy="890.10" r="2.8" fill="none" stroke="#555" stroke-width="0.6"/>
<circle cx="257.40" cy="889.80" r="2.8" fill="none" stroke="#555" stroke-width="0.6"/>
<circle cx="259.80" cy="890.10" r="2.8" fill="none" stroke="#555" stroke-width="0.6"/>
<rect x="266.80" y="830.70" width="9.6" height="69.30" fill="#dddbee"/>
<line x1="271.60" y1="825.40" x2="271.60" y2="830.70" stroke="#333" stroke-width="0.6"/>
<line x1="270.10" y1="830.70" x2="273.10" y2="830.70" stroke="#333" stroke-width="0.7"/>
<circle cx="272.20" cy="825.40" r="2.8" fill="none" stroke="#555" stroke-width="0.6"/>
<circle cx="268.80" cy="830.70" r="2.8" fill="none" stroke="#555" stroke-width="0.6"/>
<circle cx="273.50" cy="826.00" r="2.8" fill="none" stroke="#555" stroke-width="0.6"/>
<rect x="281.00" y="891.60" width="9.6" height="8.40" fill="#7b6cd9"/>
<line x1="285.80" y1="889.80" x2="285.80" y2="891.60" stroke="#333" stroke-width="0.6"/>
<line x1="284.30" y1="891.60" x2="287.30" y2="891.60" stroke="#333" stroke-width="0.7"/>
<circle cx="283.40" cy="890.10" r="2.8" fill="none" stroke="#555" stroke-width="0.6"/>
<circle cx="285.80" cy="889.80" r="2.8" fill="none" stroke="#555" stroke-width="0.6"/>
<circle cx="288.20" cy="890.10" r="2.8" fill="none" stroke="#555" stroke-width="0.6"/>
<rect x="295.20" y="886.00" width="9.6" height="14.00" fill="#dddbee"/>
<line x1="300.00" y1="883.00" x2="300.00" y2="886.00" stroke="#333" stroke-width="0.6"/>
<line x1="298.50" y1="886.00" x2="301.50" y2="886.00" stroke="#333" stroke-width="0.7"/>
<circle cx="298.50" cy="885.00" r="2.8" fill="none" stroke="#555" stroke-width="0.6"/>
<circle cx="302.00" cy="883.00" r="2.8" fill="none" stroke="#555" stroke-width="0.6"/>
<circle cx="300.00" cy="884.00" r="2.8" fill="none" stroke="#555" stroke-width="0.6"/>
<text x="0" y="0" font-size="12" fill="#111" text-anchor="end" transform="translate(269.20,910.5) rotate(-35)">WT</text>
<text x="0" y="0" font-size="12" fill="#111" text-anchor="end" transform="translate(298.80,910.5) rotate(-35)">znf1Δ</text>
<rect x="319.50" y="770" width="51.7" height="3" fill="#aaaaaa"/>
<text x="342.40" y="765.00" font-size="12" fill="#111" text-anchor="middle" font-weight="normal" font-style="italic" >adh4</text>
<rect x="318.80" y="890.70" width="9.6" height="9.30" fill="#7b6cd9"/>
<line x1="323.60" y1="888.90" x2="323.60" y2="890.70" stroke="#333" stroke-width="0.6"/>
<line x1="322.10" y1="890.70" x2="325.10" y2="890.70" stroke="#333" stroke-width="0.7"/>
<circle cx="321.20" cy="889.20" r="2.8" fill="none" stroke="#555" stroke-width="0.6"/>
<circle cx="323.60" cy="888.90" r="2.8" fill="none" stroke="#555" stroke-width="0.6"/>
<circle cx="326.00" cy="889.20" r="2.8" fill="none" stroke="#555" stroke-width="0.6"/>
<rect x="333.00" y="867.70" width="9.6" height="32.30" fill="#dddbee"/>
<line x1="337.80" y1="863.00" x2="337.80" y2="867.70" stroke="#333" stroke-width="0.6"/>
<line x1="336.30" y1="867.70" x2="339.30" y2="867.70" stroke="#333" stroke-width="0.7"/>
<circle cx="337.20" cy="863.00" r="2.8" fill="none" stroke="#555" stroke-width="0.6"/>
<circle cx="335.20" cy="867.70" r="2.8" fill="none" stroke="#555" stroke-width="0.6"/>
<circle cx="339.10" cy="865.80" r="2.8" fill="none" stroke="#555" stroke-width="0.6"/>
<rect x="347.20" y="888.50" width="9.6" height="11.50" fill="#7b6cd9"/>
<line x1="352.00" y1="886.70" x2="352.00" y2="888.50" stroke="#333" stroke-width="0.6"/>
<line x1="350.50" y1="888.50" x2="353.50" y2="888.50" stroke="#333" stroke-width="0.7"/>
<circle cx="349.60" cy="887.00" r="2.8" fill="none" stroke="#555" stroke-width="0.6"/>
<circle cx="352.00" cy="886.70" r="2.8" fill="none" stroke="#555" stroke-width="0.6"/>
<circle cx="354.40" cy="887.00" r="2.8" fill="none" stroke="#555" stroke-width="0.6"/>
<rect x="361.40" y="838.00" width="9.6" height="62.00" fill="#dddbee"/>
<line x1="366.20" y1="826.90" x2="366.20" y2="838.00" stroke="#333" stroke-width="0.6"/>
<line x1="364.70" y1="838.00" x2="367.70" y2="838.00" stroke="#333" stroke-width="0.7"/>
<circle cx="367.50" cy="826.90" r="2.8" fill="none" stroke="#555" stroke-width="0.6"/>
<circle cx="368.90" cy="835.30" r="2.8" fill="none" stroke="#555" stroke-width="0.6"/>
<circle cx="365.30" cy="838.90" r="2.8" fill="none" stroke="#555" stroke-width="0.6"/>
<text x="0" y="0" font-size="12" fill="#111" text-anchor="end" transform="translate(335.40,910.5) rotate(-35)">WT</text>
<text x="0" y="0" font-size="12" fill="#111" text-anchor="end" transform="translate(365.00,910.5) rotate(-35)">znf1Δ</text>
<rect x="384.70" y="770" width="51.7" height="3" fill="#e8804a"/>
<text x="407.60" y="765.00" font-size="12" fill="#111" text-anchor="middle" font-weight="normal" font-style="italic" >zrg17</text>
<rect x="384.00" y="891.60" width="9.6" height="8.40" fill="#7b6cd9"/>
<line x1="388.80" y1="889.80" x2="388.80" y2="891.60" stroke="#333" stroke-width="0.6"/>
<line x1="387.30" y1="891.60" x2="390.30" y2="891.60" stroke="#333" stroke-width="0.7"/>
<circle cx="386.40" cy="890.10" r="2.8" fill="none" stroke="#555" stroke-width="0.6"/>
<circle cx="388.80" cy="889.80" r="2.8" fill="none" stroke="#555" stroke-width="0.6"/>
<circle cx="391.20" cy="890.10" r="2.8" fill="none" stroke="#555" stroke-width="0.6"/>
<rect x="398.20" y="864.40" width="9.6" height="35.60" fill="#dddbee"/>
<line x1="403.00" y1="862.60" x2="403.00" y2="864.40" stroke="#333" stroke-width="0.6"/>
<line x1="401.50" y1="864.40" x2="404.50" y2="864.40" stroke="#333" stroke-width="0.7"/>
<circle cx="400.60" cy="862.90" r="2.8" fill="none" stroke="#555" stroke-width="0.6"/>
<circle cx="403.00" cy="862.60" r="2.8" fill="none" stroke="#555" stroke-width="0.6"/>
<circle cx="405.40" cy="862.90" r="2.8" fill="none" stroke="#555" stroke-width="0.6"/>
<rect x="412.40" y="888.20" width="9.6" height="11.80" fill="#7b6cd9"/>
<line x1="417.20" y1="886.40" x2="417.20" y2="888.20" stroke="#333" stroke-width="0.6"/>
<line x1="415.70" y1="888.20" x2="418.70" y2="888.20" stroke="#333" stroke-width="0.7"/>
<circle cx="414.80" cy="886.70" r="2.8" fill="none" stroke="#555" stroke-width="0.6"/>
<circle cx="417.20" cy="886.40" r="2.8" fill="none" stroke="#555" stroke-width="0.6"/>
<circle cx="419.60" cy="886.70" r="2.8" fill="none" stroke="#555" stroke-width="0.6"/>
<rect x="426.60" y="897.00" width="9.6" height="3.00" fill="#dddbee"/>
<line x1="431.40" y1="894.00" x2="431.40" y2="897.00" stroke="#333" stroke-width="0.6"/>
<line x1="429.90" y1="897.00" x2="432.90" y2="897.00" stroke="#333" stroke-width="0.7"/>
<circle cx="432.40" cy="894.00" r="2.8" fill="none" stroke="#555" stroke-width="0.6"/>
<circle cx="432.90" cy="894.50" r="2.8" fill="none" stroke="#555" stroke-width="0.6"/>
<circle cx="431.90" cy="895.00" r="2.8" fill="none" stroke="#555" stroke-width="0.6"/>
<text x="0" y="0" font-size="12" fill="#111" text-anchor="end" transform="translate(400.60,910.5) rotate(-35)">WT</text>
<text x="0" y="0" font-size="12" fill="#111" text-anchor="end" transform="translate(430.20,910.5) rotate(-35)">znf1Δ</text>
<rect x="451.30" y="770" width="51.7" height="3" fill="#aaaaaa"/>
<text x="474.20" y="765.00" font-size="12" fill="#111" text-anchor="middle" font-weight="normal" font-style="italic" >tlk2</text>
<rect x="450.60" y="890.70" width="9.6" height="9.30" fill="#7b6cd9"/>
<line x1="455.40" y1="888.90" x2="455.40" y2="890.70" stroke="#333" stroke-width="0.6"/>
<line x1="453.90" y1="890.70" x2="456.90" y2="890.70" stroke="#333" stroke-width="0.7"/>
<circle cx="453.00" cy="889.20" r="2.8" fill="none" stroke="#555" stroke-width="0.6"/>
<circle cx="455.40" cy="888.90" r="2.8" fill="none" stroke="#555" stroke-width="0.6"/>
<circle cx="457.80" cy="889.20" r="2.8" fill="none" stroke="#555" stroke-width="0.6"/>
<rect x="464.80" y="815.60" width="9.6" height="84.40" fill="#dddbee"/>
<line x1="469.60" y1="810.10" x2="469.60" y2="815.60" stroke="#333" stroke-width="0.6"/>
<line x1="468.10" y1="815.60" x2="471.10" y2="815.60" stroke="#333" stroke-width="0.7"/>
<circle cx="469.10" cy="810.10" r="2.8" fill="none" stroke="#555" stroke-width="0.6"/>
<circle cx="467.10" cy="813.60" r="2.8" fill="none" stroke="#555" stroke-width="0.6"/>
<circle cx="471.10" cy="812.60" r="2.8" fill="none" stroke="#555" stroke-width="0.6"/>
<rect x="479.00" y="883.80" width="9.6" height="16.20" fill="#7b6cd9"/>
<line x1="483.80" y1="880.80" x2="483.80" y2="883.80" stroke="#333" stroke-width="0.6"/>
<line x1="482.30" y1="883.80" x2="485.30" y2="883.80" stroke="#333" stroke-width="0.7"/>
<circle cx="483.00" cy="880.80" r="2.8" fill="none" stroke="#555" stroke-width="0.6"/>
<circle cx="481.30" cy="882.80" r="2.8" fill="none" stroke="#555" stroke-width="0.6"/>
<circle cx="485.80" cy="882.80" r="2.8" fill="none" stroke="#555" stroke-width="0.6"/>
<rect x="493.20" y="827.80" width="9.6" height="72.20" fill="#dddbee"/>
<line x1="498.00" y1="819.80" x2="498.00" y2="827.80" stroke="#333" stroke-width="0.6"/>
<line x1="496.50" y1="827.80" x2="499.50" y2="827.80" stroke="#333" stroke-width="0.7"/>
<circle cx="498.00" cy="819.80" r="2.8" fill="none" stroke="#555" stroke-width="0.6"/>
<circle cx="500.00" cy="825.30" r="2.8" fill="none" stroke="#555" stroke-width="0.6"/>
<circle cx="496.00" cy="825.30" r="2.8" fill="none" stroke="#555" stroke-width="0.6"/>
<text x="0" y="0" font-size="12" fill="#111" text-anchor="end" transform="translate(467.20,910.5) rotate(-35)">WT</text>
<text x="0" y="0" font-size="12" fill="#111" text-anchor="end" transform="translate(496.80,910.5) rotate(-35)">znf1Δ</text>
<rect x="517.60" y="770" width="51.7" height="3" fill="#aaaaaa"/>
<text x="540.50" y="765.00" font-size="12" fill="#111" text-anchor="middle" font-weight="normal" font-style="italic" >mcd4</text>
<rect x="516.90" y="891.30" width="9.6" height="8.70" fill="#7b6cd9"/>
<line x1="521.70" y1="886.40" x2="521.70" y2="891.30" stroke="#333" stroke-width="0.6"/>
<line x1="520.20" y1="891.30" x2="523.20" y2="891.30" stroke="#333" stroke-width="0.7"/>
<circle cx="519.10" cy="886.40" r="2.8" fill="none" stroke="#555" stroke-width="0.6"/>
<circle cx="521.70" cy="886.40" r="2.8" fill="none" stroke="#555" stroke-width="0.6"/>
<circle cx="524.30" cy="886.40" r="2.8" fill="none" stroke="#555" stroke-width="0.6"/>
<rect x="531.10" y="877.40" width="9.6" height="22.60" fill="#dddbee"/>
<line x1="535.90" y1="865.00" x2="535.90" y2="877.40" stroke="#333" stroke-width="0.6"/>
<line x1="534.40" y1="877.40" x2="537.40" y2="877.40" stroke="#333" stroke-width="0.7"/>
<circle cx="536.50" cy="865.00" r="2.8" fill="none" stroke="#555" stroke-width="0.6"/>
<circle cx="536.50" cy="871.00" r="2.8" fill="none" stroke="#555" stroke-width="0.6"/>
<circle cx="536.50" cy="879.20" r="2.8" fill="none" stroke="#555" stroke-width="0.6"/>
<rect x="545.30" y="880.50" width="9.6" height="19.50" fill="#7b6cd9"/>
<line x1="550.10" y1="871.90" x2="550.10" y2="880.50" stroke="#333" stroke-width="0.6"/>
<line x1="548.60" y1="880.50" x2="551.60" y2="880.50" stroke="#333" stroke-width="0.7"/>
<circle cx="551.60" cy="871.90" r="2.8" fill="none" stroke="#555" stroke-width="0.6"/>
<circle cx="549.20" cy="876.20" r="2.8" fill="none" stroke="#555" stroke-width="0.6"/>
<circle cx="554.40" cy="875.60" r="2.8" fill="none" stroke="#555" stroke-width="0.6"/>
<rect x="559.50" y="868.50" width="9.6" height="31.50" fill="#dddbee"/>
<line x1="564.30" y1="858.80" x2="564.30" y2="868.50" stroke="#333" stroke-width="0.6"/>
<line x1="562.80" y1="868.50" x2="565.80" y2="868.50" stroke="#333" stroke-width="0.7"/>
<circle cx="563.70" cy="858.80" r="2.8" fill="none" stroke="#555" stroke-width="0.6"/>
<circle cx="568.60" cy="862.80" r="2.8" fill="none" stroke="#555" stroke-width="0.6"/>
<circle cx="563.70" cy="864.60" r="2.8" fill="none" stroke="#555" stroke-width="0.6"/>
<text x="0" y="0" font-size="12" fill="#111" text-anchor="end" transform="translate(533.50,910.5) rotate(-35)">WT</text>
<text x="0" y="0" font-size="12" fill="#111" text-anchor="end" transform="translate(563.10,910.5) rotate(-35)">znf1Δ</text>
<rect x="582.20" y="770" width="51.7" height="3" fill="#aaaaaa"/>
<text x="605.10" y="765.00" font-size="12" fill="#111" text-anchor="middle" font-weight="normal" font-style="italic" >cos1</text>
<rect x="581.50" y="890.70" width="9.6" height="9.30" fill="#7b6cd9"/>
<line x1="586.30" y1="888.90" x2="586.30" y2="890.70" stroke="#333" stroke-width="0.6"/>
<line x1="584.80" y1="890.70" x2="587.80" y2="890.70" stroke="#333" stroke-width="0.7"/>
<circle cx="583.90" cy="889.20" r="2.8" fill="none" stroke="#555" stroke-width="0.6"/>
<circle cx="586.30" cy="888.90" r="2.8" fill="none" stroke="#555" stroke-width="0.6"/>
<circle cx="588.70" cy="889.20" r="2.8" fill="none" stroke="#555" stroke-width="0.6"/>
<rect x="595.70" y="863.60" width="9.6" height="36.40" fill="#dddbee"/>
<line x1="600.50" y1="861.80" x2="600.50" y2="863.60" stroke="#333" stroke-width="0.6"/>
<line x1="599.00" y1="863.60" x2="602.00" y2="863.60" stroke="#333" stroke-width="0.7"/>
<circle cx="598.10" cy="862.10" r="2.8" fill="none" stroke="#555" stroke-width="0.6"/>
<circle cx="600.50" cy="861.80" r="2.8" fill="none" stroke="#555" stroke-width="0.6"/>
<circle cx="602.90" cy="862.10" r="2.8" fill="none" stroke="#555" stroke-width="0.6"/>
<rect x="609.90" y="890.70" width="9.6" height="9.30" fill="#7b6cd9"/>
<line x1="614.70" y1="888.90" x2="614.70" y2="890.70" stroke="#333" stroke-width="0.6"/>
<line x1="613.20" y1="890.70" x2="616.20" y2="890.70" stroke="#333" stroke-width="0.7"/>
<circle cx="612.30" cy="889.20" r="2.8" fill="none" stroke="#555" stroke-width="0.6"/>
<circle cx="614.70" cy="888.90" r="2.8" fill="none" stroke="#555" stroke-width="0.6"/>
<circle cx="617.10" cy="889.20" r="2.8" fill="none" stroke="#555" stroke-width="0.6"/>
<rect x="624.10" y="869.10" width="9.6" height="30.90" fill="#dddbee"/>
<line x1="628.90" y1="867.30" x2="628.90" y2="869.10" stroke="#333" stroke-width="0.6"/>
<line x1="627.40" y1="869.10" x2="630.40" y2="869.10" stroke="#333" stroke-width="0.7"/>
<circle cx="626.50" cy="867.60" r="2.8" fill="none" stroke="#555" stroke-width="0.6"/>
<circle cx="628.90" cy="867.30" r="2.8" fill="none" stroke="#555" stroke-width="0.6"/>
<circle cx="631.30" cy="867.60" r="2.8" fill="none" stroke="#555" stroke-width="0.6"/>
<text x="0" y="0" font-size="12" fill="#111" text-anchor="end" transform="translate(598.10,910.5) rotate(-35)">WT</text>
<text x="0" y="0" font-size="12" fill="#111" text-anchor="end" transform="translate(627.70,910.5) rotate(-35)">znf1Δ</text>
</svg></body></html>
